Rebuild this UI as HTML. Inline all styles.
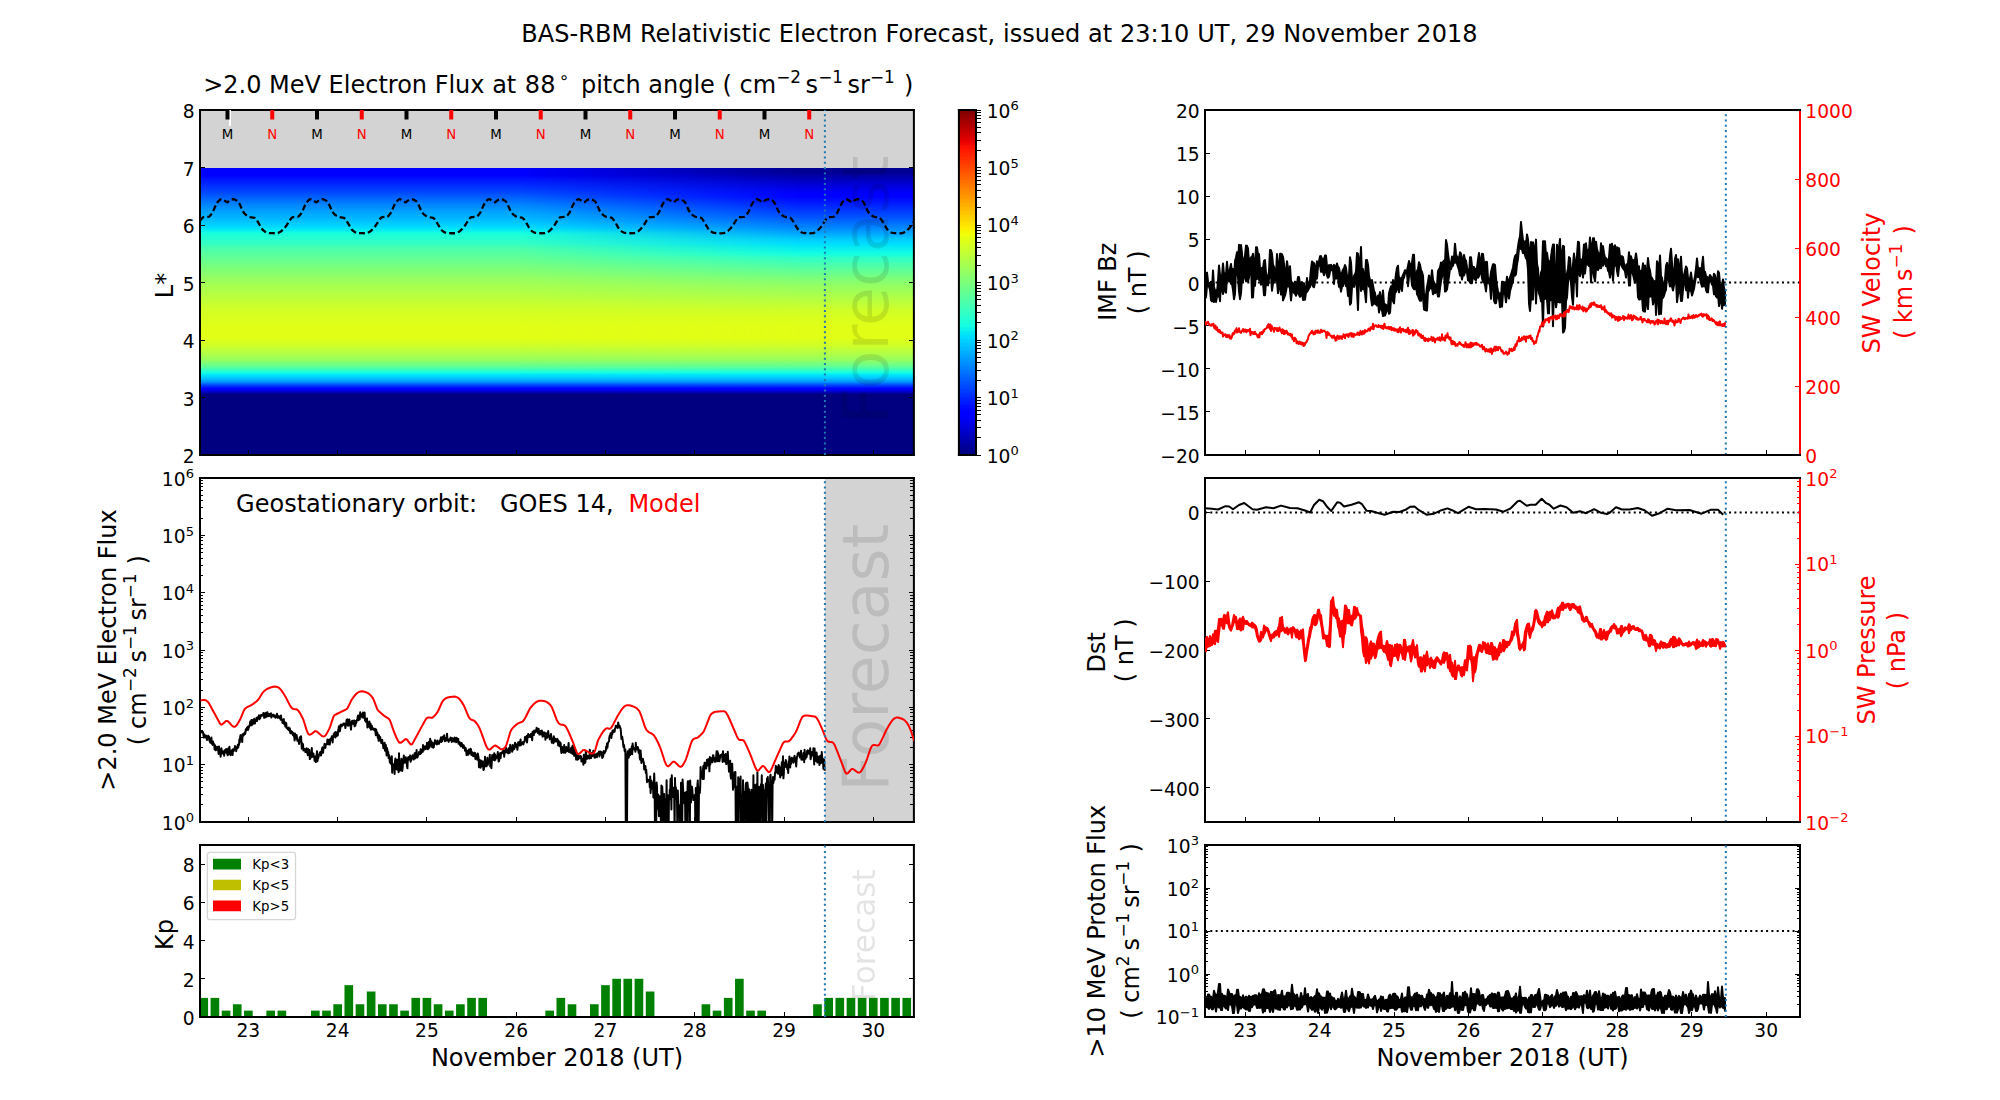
<!DOCTYPE html>
<html><head><meta charset="utf-8"><title>BAS-RBM Relativistic Electron Forecast</title>
<style>html,body{margin:0;padding:0;background:#fff;overflow:hidden}svg{display:block}text{white-space:pre}use{shape-rendering:crispEdges}</style>
</head><body>
<svg width="2000" height="1100" viewBox="0 0 1500 825" version="1.1"> <defs><linearGradient id="gfade" gradientUnits="userSpaceOnUse" x1="520" y1="0" x2="800" y2="0"><stop offset="0" stop-color="#fff" stop-opacity="0"/><stop offset="1" stop-color="#fff" stop-opacity="1"/></linearGradient><mask id="mfade" maskUnits="userSpaceOnUse" x="0" y="0" width="2000" height="1100"><rect x="0" y="0" width="2000" height="1100" fill="url(#gfade)"/></mask> <style type="text/css">*{stroke-linejoin: round; stroke-linecap: butt}</style> </defs> <g id="figure_1"> <g id="patch_1"> <path d="M 0 825 L 1500 825 L 1500 0 L 0 0 z " style="fill: #ffffff"/> </g> <g id="axes_1"> <g id="patch_2"> <path d="M 150 341.25 L 685.42 341.25 L 685.42 82.5 L 150 82.5 z " style="fill: #d3d3d3"/> </g> <g id="HEATMAP" transform="scale(0.75)"><g><rect x="200.0" y="168.00" width="713.9" height="1.30" fill="#0000ff"/><rect x="200.0" y="169.00" width="713.9" height="1.30" fill="#0000ff"/><rect x="200.0" y="170.00" width="713.9" height="1.30" fill="#0000ff"/><rect x="200.0" y="171.00" width="713.9" height="1.30" fill="#0000ff"/><rect x="200.0" y="172.00" width="713.9" height="1.30" fill="#0000ff"/><rect x="200.0" y="173.00" width="713.9" height="1.30" fill="#0000ff"/><rect x="200.0" y="174.00" width="713.9" height="1.30" fill="#0000ff"/><rect x="200.0" y="175.00" width="713.9" height="1.30" fill="#0000ff"/><rect x="200.0" y="176.00" width="713.9" height="1.30" fill="#0004ff"/><rect x="200.0" y="177.00" width="713.9" height="1.30" fill="#000cff"/><rect x="200.0" y="178.00" width="713.9" height="1.30" fill="#0010ff"/><rect x="200.0" y="179.00" width="713.9" height="1.30" fill="#0014ff"/><rect x="200.0" y="180.00" width="713.9" height="1.30" fill="#0018ff"/><rect x="200.0" y="181.00" width="713.9" height="1.30" fill="#001cff"/><rect x="200.0" y="182.00" width="713.9" height="1.30" fill="#0020ff"/><rect x="200.0" y="183.00" width="713.9" height="1.30" fill="#0024ff"/><rect x="200.0" y="184.00" width="713.9" height="1.30" fill="#0028ff"/><rect x="200.0" y="185.00" width="713.9" height="1.30" fill="#002cff"/><rect x="200.0" y="186.00" width="713.9" height="1.30" fill="#0030ff"/><rect x="200.0" y="187.00" width="713.9" height="1.30" fill="#0034ff"/><rect x="200.0" y="188.00" width="713.9" height="1.30" fill="#0038ff"/><rect x="200.0" y="189.00" width="713.9" height="1.30" fill="#003cff"/><rect x="200.0" y="190.00" width="713.9" height="1.30" fill="#0040ff"/><rect x="200.0" y="191.00" width="713.9" height="1.30" fill="#0044ff"/><rect x="200.0" y="192.00" width="713.9" height="1.30" fill="#0048ff"/><rect x="200.0" y="193.00" width="713.9" height="1.30" fill="#004cff"/><rect x="200.0" y="194.00" width="713.9" height="1.30" fill="#0054ff"/><rect x="200.0" y="195.00" width="713.9" height="1.30" fill="#0058ff"/><rect x="200.0" y="196.00" width="713.9" height="1.30" fill="#005cff"/><rect x="200.0" y="197.00" width="713.9" height="1.30" fill="#0060ff"/><rect x="200.0" y="198.00" width="713.9" height="1.30" fill="#0068ff"/><rect x="200.0" y="199.00" width="713.9" height="1.30" fill="#006cff"/><rect x="200.0" y="200.00" width="713.9" height="1.30" fill="#0070ff"/><rect x="200.0" y="201.00" width="713.9" height="1.30" fill="#0074ff"/><rect x="200.0" y="202.00" width="713.9" height="1.30" fill="#0078ff"/><rect x="200.0" y="203.00" width="713.9" height="1.30" fill="#0080ff"/><rect x="200.0" y="204.00" width="713.9" height="1.30" fill="#0084ff"/><rect x="200.0" y="205.00" width="713.9" height="1.30" fill="#0088ff"/><rect x="200.0" y="206.00" width="713.9" height="1.30" fill="#008cff"/><rect x="200.0" y="207.00" width="713.9" height="1.30" fill="#0090ff"/><rect x="200.0" y="208.00" width="713.9" height="1.30" fill="#0094ff"/><rect x="200.0" y="209.00" width="713.9" height="1.30" fill="#0098ff"/><rect x="200.0" y="210.00" width="713.9" height="1.30" fill="#009cff"/><rect x="200.0" y="211.00" width="713.9" height="1.30" fill="#00a0ff"/><rect x="200.0" y="212.00" width="713.9" height="1.30" fill="#00a4ff"/><rect x="200.0" y="213.00" width="713.9" height="1.30" fill="#00a8ff"/><rect x="200.0" y="214.00" width="713.9" height="1.30" fill="#00acff"/><rect x="200.0" y="215.00" width="713.9" height="1.30" fill="#00b0ff"/><rect x="200.0" y="216.00" width="713.9" height="1.30" fill="#00b0ff"/><rect x="200.0" y="217.00" width="713.9" height="1.30" fill="#00b4ff"/><rect x="200.0" y="218.00" width="713.9" height="1.30" fill="#00b8ff"/><rect x="200.0" y="219.00" width="713.9" height="1.30" fill="#00bcff"/><rect x="200.0" y="220.00" width="713.9" height="1.30" fill="#00c0ff"/><rect x="200.0" y="221.00" width="713.9" height="1.30" fill="#00c4ff"/><rect x="200.0" y="222.00" width="713.9" height="1.30" fill="#00c8ff"/><rect x="200.0" y="223.00" width="713.9" height="1.30" fill="#00ccff"/><rect x="200.0" y="224.00" width="713.9" height="1.30" fill="#00d0ff"/><rect x="200.0" y="225.00" width="713.9" height="1.30" fill="#00d4ff"/><rect x="200.0" y="226.00" width="713.9" height="1.30" fill="#00d8ff"/><rect x="200.0" y="227.00" width="713.9" height="1.30" fill="#00dcfe"/><rect x="200.0" y="228.00" width="713.9" height="1.30" fill="#00e4f8"/><rect x="200.0" y="229.00" width="713.9" height="1.30" fill="#02e8f4"/><rect x="200.0" y="230.00" width="713.9" height="1.30" fill="#09f0ee"/><rect x="200.0" y="231.00" width="713.9" height="1.30" fill="#0cf4eb"/><rect x="200.0" y="232.00" width="713.9" height="1.30" fill="#13fce4"/><rect x="200.0" y="233.00" width="713.9" height="1.30" fill="#19ffde"/><rect x="200.0" y="234.00" width="713.9" height="1.30" fill="#1cffdb"/><rect x="200.0" y="235.00" width="713.9" height="1.30" fill="#1fffd7"/><rect x="200.0" y="236.00" width="713.9" height="1.30" fill="#23ffd4"/><rect x="200.0" y="237.00" width="713.9" height="1.30" fill="#26ffd1"/><rect x="200.0" y="238.00" width="713.9" height="1.30" fill="#26ffd1"/><rect x="200.0" y="239.00" width="713.9" height="1.30" fill="#29ffce"/><rect x="200.0" y="240.00" width="713.9" height="1.30" fill="#2cffca"/><rect x="200.0" y="241.00" width="713.9" height="1.30" fill="#30ffc7"/><rect x="200.0" y="242.00" width="713.9" height="1.30" fill="#30ffc7"/><rect x="200.0" y="243.00" width="713.9" height="1.30" fill="#33ffc4"/><rect x="200.0" y="244.00" width="713.9" height="1.30" fill="#39ffbe"/><rect x="200.0" y="245.00" width="713.9" height="1.30" fill="#3cffba"/><rect x="200.0" y="246.00" width="713.9" height="1.30" fill="#40ffb7"/><rect x="200.0" y="247.00" width="713.9" height="1.30" fill="#46ffb1"/><rect x="200.0" y="248.00" width="713.9" height="1.30" fill="#49ffad"/><rect x="200.0" y="249.00" width="713.9" height="1.30" fill="#4dffaa"/><rect x="200.0" y="250.00" width="713.9" height="1.30" fill="#50ffa7"/><rect x="200.0" y="251.00" width="713.9" height="1.30" fill="#53ffa4"/><rect x="200.0" y="252.00" width="713.9" height="1.30" fill="#56ffa0"/><rect x="200.0" y="253.00" width="713.9" height="1.30" fill="#56ffa0"/><rect x="200.0" y="254.00" width="713.9" height="1.30" fill="#5aff9d"/><rect x="200.0" y="255.00" width="713.9" height="1.30" fill="#5dff9a"/><rect x="200.0" y="256.00" width="713.9" height="1.30" fill="#60ff97"/><rect x="200.0" y="257.00" width="713.9" height="1.30" fill="#60ff97"/><rect x="200.0" y="258.00" width="713.9" height="1.30" fill="#63ff94"/><rect x="200.0" y="259.00" width="713.9" height="1.30" fill="#66ff90"/><rect x="200.0" y="260.00" width="713.9" height="1.30" fill="#6aff8d"/><rect x="200.0" y="261.00" width="713.9" height="1.30" fill="#6aff8d"/><rect x="200.0" y="262.00" width="713.9" height="1.30" fill="#6dff8a"/><rect x="200.0" y="263.00" width="713.9" height="1.30" fill="#70ff87"/><rect x="200.0" y="264.00" width="713.9" height="1.30" fill="#73ff83"/><rect x="200.0" y="265.00" width="713.9" height="1.30" fill="#77ff80"/><rect x="200.0" y="266.00" width="713.9" height="1.30" fill="#7aff7d"/><rect x="200.0" y="267.00" width="713.9" height="1.30" fill="#7aff7d"/><rect x="200.0" y="268.00" width="713.9" height="1.30" fill="#7dff7a"/><rect x="200.0" y="269.00" width="713.9" height="1.30" fill="#80ff77"/><rect x="200.0" y="270.00" width="713.9" height="1.30" fill="#83ff73"/><rect x="200.0" y="271.00" width="713.9" height="1.30" fill="#83ff73"/><rect x="200.0" y="272.00" width="713.9" height="1.30" fill="#87ff70"/><rect x="200.0" y="273.00" width="713.9" height="1.30" fill="#8aff6d"/><rect x="200.0" y="274.00" width="713.9" height="1.30" fill="#8dff6a"/><rect x="200.0" y="275.00" width="713.9" height="1.30" fill="#8dff6a"/><rect x="200.0" y="276.00" width="713.9" height="1.30" fill="#90ff66"/><rect x="200.0" y="277.00" width="713.9" height="1.30" fill="#94ff63"/><rect x="200.0" y="278.00" width="713.9" height="1.30" fill="#97ff60"/><rect x="200.0" y="279.00" width="713.9" height="1.30" fill="#9aff5d"/><rect x="200.0" y="280.00" width="713.9" height="1.30" fill="#9aff5d"/><rect x="200.0" y="281.00" width="713.9" height="1.30" fill="#9dff5a"/><rect x="200.0" y="282.00" width="713.9" height="1.30" fill="#a0ff56"/><rect x="200.0" y="283.00" width="713.9" height="1.30" fill="#a0ff56"/><rect x="200.0" y="284.00" width="713.9" height="1.30" fill="#a4ff53"/><rect x="200.0" y="285.00" width="713.9" height="1.30" fill="#a7ff50"/><rect x="200.0" y="286.00" width="713.9" height="1.30" fill="#a7ff50"/><rect x="200.0" y="287.00" width="713.9" height="1.30" fill="#aaff4d"/><rect x="200.0" y="288.00" width="713.9" height="1.30" fill="#aaff4d"/><rect x="200.0" y="289.00" width="713.9" height="1.30" fill="#adff49"/><rect x="200.0" y="290.00" width="713.9" height="1.30" fill="#adff49"/><rect x="200.0" y="291.00" width="713.9" height="1.30" fill="#b1ff46"/><rect x="200.0" y="292.00" width="713.9" height="1.30" fill="#b1ff46"/><rect x="200.0" y="293.00" width="713.9" height="1.30" fill="#b4ff43"/><rect x="200.0" y="294.00" width="713.9" height="1.30" fill="#b7ff40"/><rect x="200.0" y="295.00" width="713.9" height="1.30" fill="#b7ff40"/><rect x="200.0" y="296.00" width="713.9" height="1.30" fill="#baff3c"/><rect x="200.0" y="297.00" width="713.9" height="1.30" fill="#baff3c"/><rect x="200.0" y="298.00" width="713.9" height="1.30" fill="#beff39"/><rect x="200.0" y="299.00" width="713.9" height="1.30" fill="#beff39"/><rect x="200.0" y="300.00" width="713.9" height="1.30" fill="#c1ff36"/><rect x="200.0" y="301.00" width="713.9" height="1.30" fill="#c1ff36"/><rect x="200.0" y="302.00" width="713.9" height="1.30" fill="#c4ff33"/><rect x="200.0" y="303.00" width="713.9" height="1.30" fill="#c7ff30"/><rect x="200.0" y="304.00" width="713.9" height="1.30" fill="#c7ff30"/><rect x="200.0" y="305.00" width="713.9" height="1.30" fill="#caff2c"/><rect x="200.0" y="306.00" width="713.9" height="1.30" fill="#caff2c"/><rect x="200.0" y="307.00" width="713.9" height="1.30" fill="#ceff29"/><rect x="200.0" y="308.00" width="713.9" height="1.30" fill="#ceff29"/><rect x="200.0" y="309.00" width="713.9" height="1.30" fill="#d1ff26"/><rect x="200.0" y="310.00" width="713.9" height="1.30" fill="#d1ff26"/><rect x="200.0" y="311.00" width="713.9" height="1.30" fill="#d1ff26"/><rect x="200.0" y="312.00" width="713.9" height="1.30" fill="#d4ff23"/><rect x="200.0" y="313.00" width="713.9" height="1.30" fill="#d4ff23"/><rect x="200.0" y="314.00" width="713.9" height="1.30" fill="#d7ff1f"/><rect x="200.0" y="315.00" width="713.9" height="1.30" fill="#d7ff1f"/><rect x="200.0" y="316.00" width="713.9" height="1.30" fill="#d7ff1f"/><rect x="200.0" y="317.00" width="713.9" height="1.30" fill="#d7ff1f"/><rect x="200.0" y="318.00" width="713.9" height="1.30" fill="#dbff1c"/><rect x="200.0" y="319.00" width="713.9" height="1.30" fill="#dbff1c"/><rect x="200.0" y="320.00" width="713.9" height="1.30" fill="#dbff1c"/><rect x="200.0" y="321.00" width="713.9" height="1.30" fill="#deff19"/><rect x="200.0" y="322.00" width="713.9" height="1.30" fill="#deff19"/><rect x="200.0" y="323.00" width="713.9" height="1.30" fill="#deff19"/><rect x="200.0" y="324.00" width="713.9" height="1.30" fill="#deff19"/><rect x="200.0" y="325.00" width="713.9" height="1.30" fill="#deff19"/><rect x="200.0" y="326.00" width="713.9" height="1.30" fill="#e1ff16"/><rect x="200.0" y="327.00" width="713.9" height="1.30" fill="#e1ff16"/><rect x="200.0" y="328.00" width="713.9" height="1.30" fill="#e1ff16"/><rect x="200.0" y="329.00" width="713.9" height="1.30" fill="#e1ff16"/><rect x="200.0" y="330.00" width="713.9" height="1.30" fill="#e1ff16"/><rect x="200.0" y="331.00" width="713.9" height="1.30" fill="#e1ff16"/><rect x="200.0" y="332.00" width="713.9" height="1.30" fill="#e1ff16"/><rect x="200.0" y="333.00" width="713.9" height="1.30" fill="#e1ff16"/><rect x="200.0" y="334.00" width="713.9" height="1.30" fill="#e1ff16"/><rect x="200.0" y="335.00" width="713.9" height="1.30" fill="#e1ff16"/><rect x="200.0" y="336.00" width="713.9" height="1.30" fill="#e1ff16"/><rect x="200.0" y="337.00" width="713.9" height="1.30" fill="#e1ff16"/><rect x="200.0" y="338.00" width="713.9" height="1.30" fill="#e1ff16"/><rect x="200.0" y="339.00" width="713.9" height="1.30" fill="#deff19"/><rect x="200.0" y="340.00" width="713.9" height="1.30" fill="#dbff1c"/><rect x="200.0" y="341.00" width="713.9" height="1.30" fill="#d7ff1f"/><rect x="200.0" y="342.00" width="713.9" height="1.30" fill="#d7ff1f"/><rect x="200.0" y="343.00" width="713.9" height="1.30" fill="#d4ff23"/><rect x="200.0" y="344.00" width="713.9" height="1.30" fill="#d1ff26"/><rect x="200.0" y="345.00" width="713.9" height="1.30" fill="#ceff29"/><rect x="200.0" y="346.00" width="713.9" height="1.30" fill="#caff2c"/><rect x="200.0" y="347.00" width="713.9" height="1.30" fill="#c7ff30"/><rect x="200.0" y="348.00" width="713.9" height="1.30" fill="#c4ff33"/><rect x="200.0" y="349.00" width="713.9" height="1.30" fill="#c1ff36"/><rect x="200.0" y="350.00" width="713.9" height="1.30" fill="#beff39"/><rect x="200.0" y="351.00" width="713.9" height="1.30" fill="#b7ff40"/><rect x="200.0" y="352.00" width="713.9" height="1.30" fill="#b4ff43"/><rect x="200.0" y="353.00" width="713.9" height="1.30" fill="#b1ff46"/><rect x="200.0" y="354.00" width="713.9" height="1.30" fill="#adff49"/><rect x="200.0" y="355.00" width="713.9" height="1.30" fill="#aaff4d"/><rect x="200.0" y="356.00" width="713.9" height="1.30" fill="#a4ff53"/><rect x="200.0" y="357.00" width="713.9" height="1.30" fill="#a0ff56"/><rect x="200.0" y="358.00" width="713.9" height="1.30" fill="#9dff5a"/><rect x="200.0" y="359.00" width="713.9" height="1.30" fill="#97ff60"/><rect x="200.0" y="360.00" width="713.9" height="1.30" fill="#90ff66"/><rect x="200.0" y="361.00" width="713.9" height="1.30" fill="#8aff6d"/><rect x="200.0" y="362.00" width="713.9" height="1.30" fill="#80ff77"/><rect x="200.0" y="363.00" width="713.9" height="1.30" fill="#7aff7d"/><rect x="200.0" y="364.00" width="713.9" height="1.30" fill="#70ff87"/><rect x="200.0" y="365.00" width="713.9" height="1.30" fill="#6aff8d"/><rect x="200.0" y="366.00" width="713.9" height="1.30" fill="#60ff97"/><rect x="200.0" y="367.00" width="713.9" height="1.30" fill="#56ffa0"/><rect x="200.0" y="368.00" width="713.9" height="1.30" fill="#49ffad"/><rect x="200.0" y="369.00" width="713.9" height="1.30" fill="#3cffba"/><rect x="200.0" y="370.00" width="713.9" height="1.30" fill="#30ffc7"/><rect x="200.0" y="371.00" width="713.9" height="1.30" fill="#23ffd4"/><rect x="200.0" y="372.00" width="713.9" height="1.30" fill="#16ffe1"/><rect x="200.0" y="373.00" width="713.9" height="1.30" fill="#0cf4eb"/><rect x="200.0" y="374.00" width="713.9" height="1.30" fill="#02e8f4"/><rect x="200.0" y="375.00" width="713.9" height="1.30" fill="#00e0fb"/><rect x="200.0" y="376.00" width="713.9" height="1.30" fill="#00d8ff"/><rect x="200.0" y="377.00" width="713.9" height="1.30" fill="#00ccff"/><rect x="200.0" y="378.00" width="713.9" height="1.30" fill="#00c4ff"/><rect x="200.0" y="379.00" width="713.9" height="1.30" fill="#00b4ff"/><rect x="200.0" y="380.00" width="713.9" height="1.30" fill="#00a8ff"/><rect x="200.0" y="381.00" width="713.9" height="1.30" fill="#0098ff"/><rect x="200.0" y="382.00" width="713.9" height="1.30" fill="#0084ff"/><rect x="200.0" y="383.00" width="713.9" height="1.30" fill="#006cff"/><rect x="200.0" y="384.00" width="713.9" height="1.30" fill="#0054ff"/><rect x="200.0" y="385.00" width="713.9" height="1.30" fill="#003cff"/><rect x="200.0" y="386.00" width="713.9" height="1.30" fill="#0028ff"/><rect x="200.0" y="387.00" width="713.9" height="1.30" fill="#0014ff"/><rect x="200.0" y="388.00" width="713.9" height="1.30" fill="#0000ff"/><rect x="200.0" y="389.00" width="713.9" height="1.30" fill="#0000fa"/><rect x="200.0" y="390.00" width="713.9" height="1.30" fill="#0000e3"/><rect x="200.0" y="391.00" width="713.9" height="1.30" fill="#0000cd"/><rect x="200.0" y="392.00" width="713.9" height="1.30" fill="#0000b6"/><rect x="200.0" y="393.00" width="713.9" height="1.30" fill="#000096"/><rect x="200.0" y="394.00" width="713.9" height="1.30" fill="#000080"/><rect x="200.0" y="395.00" width="713.9" height="1.30" fill="#000080"/><rect x="200.0" y="396.00" width="713.9" height="1.30" fill="#000080"/><rect x="200.0" y="397.00" width="713.9" height="1.30" fill="#000080"/><rect x="200.0" y="398.00" width="713.9" height="1.30" fill="#000080"/><rect x="200.0" y="399.00" width="713.9" height="1.30" fill="#000080"/><rect x="200.0" y="400.00" width="713.9" height="1.30" fill="#000080"/><rect x="200.0" y="401.00" width="713.9" height="1.30" fill="#000080"/><rect x="200.0" y="402.00" width="713.9" height="1.30" fill="#000080"/><rect x="200.0" y="403.00" width="713.9" height="1.30" fill="#000080"/><rect x="200.0" y="404.00" width="713.9" height="1.30" fill="#000080"/><rect x="200.0" y="405.00" width="713.9" height="1.30" fill="#000080"/><rect x="200.0" y="406.00" width="713.9" height="1.30" fill="#000080"/><rect x="200.0" y="407.00" width="713.9" height="1.30" fill="#000080"/><rect x="200.0" y="408.00" width="713.9" height="1.30" fill="#000080"/><rect x="200.0" y="409.00" width="713.9" height="1.30" fill="#000080"/><rect x="200.0" y="410.00" width="713.9" height="1.30" fill="#000080"/><rect x="200.0" y="411.00" width="713.9" height="1.30" fill="#000080"/><rect x="200.0" y="412.00" width="713.9" height="1.30" fill="#000080"/><rect x="200.0" y="413.00" width="713.9" height="1.30" fill="#000080"/><rect x="200.0" y="414.00" width="713.9" height="1.30" fill="#000080"/><rect x="200.0" y="415.00" width="713.9" height="1.30" fill="#000080"/><rect x="200.0" y="416.00" width="713.9" height="1.30" fill="#000080"/><rect x="200.0" y="417.00" width="713.9" height="1.30" fill="#000080"/><rect x="200.0" y="418.00" width="713.9" height="1.30" fill="#000080"/><rect x="200.0" y="419.00" width="713.9" height="1.30" fill="#000080"/><rect x="200.0" y="420.00" width="713.9" height="1.30" fill="#000080"/><rect x="200.0" y="421.00" width="713.9" height="1.30" fill="#000080"/><rect x="200.0" y="422.00" width="713.9" height="1.30" fill="#000080"/><rect x="200.0" y="423.00" width="713.9" height="1.30" fill="#000080"/><rect x="200.0" y="424.00" width="713.9" height="1.30" fill="#000080"/><rect x="200.0" y="425.00" width="713.9" height="1.30" fill="#000080"/><rect x="200.0" y="426.00" width="713.9" height="1.30" fill="#000080"/><rect x="200.0" y="427.00" width="713.9" height="1.30" fill="#000080"/><rect x="200.0" y="428.00" width="713.9" height="1.30" fill="#000080"/><rect x="200.0" y="429.00" width="713.9" height="1.30" fill="#000080"/><rect x="200.0" y="430.00" width="713.9" height="1.30" fill="#000080"/><rect x="200.0" y="431.00" width="713.9" height="1.30" fill="#000080"/><rect x="200.0" y="432.00" width="713.9" height="1.30" fill="#000080"/><rect x="200.0" y="433.00" width="713.9" height="1.30" fill="#000080"/><rect x="200.0" y="434.00" width="713.9" height="1.30" fill="#000080"/><rect x="200.0" y="435.00" width="713.9" height="1.30" fill="#000080"/><rect x="200.0" y="436.00" width="713.9" height="1.30" fill="#000080"/><rect x="200.0" y="437.00" width="713.9" height="1.30" fill="#000080"/><rect x="200.0" y="438.00" width="713.9" height="1.30" fill="#000080"/><rect x="200.0" y="439.00" width="713.9" height="1.30" fill="#000080"/><rect x="200.0" y="440.00" width="713.9" height="1.30" fill="#000080"/><rect x="200.0" y="441.00" width="713.9" height="1.30" fill="#000080"/><rect x="200.0" y="442.00" width="713.9" height="1.30" fill="#000080"/><rect x="200.0" y="443.00" width="713.9" height="1.30" fill="#000080"/><rect x="200.0" y="444.00" width="713.9" height="1.30" fill="#000080"/><rect x="200.0" y="445.00" width="713.9" height="1.30" fill="#000080"/><rect x="200.0" y="446.00" width="713.9" height="1.30" fill="#000080"/><rect x="200.0" y="447.00" width="713.9" height="1.30" fill="#000080"/><rect x="200.0" y="448.00" width="713.9" height="1.30" fill="#000080"/><rect x="200.0" y="449.00" width="713.9" height="1.30" fill="#000080"/><rect x="200.0" y="450.00" width="713.9" height="1.30" fill="#000080"/><rect x="200.0" y="451.00" width="713.9" height="1.30" fill="#000080"/><rect x="200.0" y="452.00" width="713.9" height="1.30" fill="#000080"/><rect x="200.0" y="453.00" width="713.9" height="1.30" fill="#000080"/><rect x="200.0" y="454.00" width="713.9" height="1.00" fill="#000080"/></g><g mask="url(#mfade)"><rect x="200.0" y="168.00" width="713.9" height="1.30" fill="#000092"/><rect x="200.0" y="169.00" width="713.9" height="1.30" fill="#000092"/><rect x="200.0" y="170.00" width="713.9" height="1.30" fill="#000092"/><rect x="200.0" y="171.00" width="713.9" height="1.30" fill="#000092"/><rect x="200.0" y="172.00" width="713.9" height="1.30" fill="#000096"/><rect x="200.0" y="173.00" width="713.9" height="1.30" fill="#000096"/><rect x="200.0" y="174.00" width="713.9" height="1.30" fill="#00009f"/><rect x="200.0" y="175.00" width="713.9" height="1.30" fill="#0000a4"/><rect x="200.0" y="176.00" width="713.9" height="1.30" fill="#0000a8"/><rect x="200.0" y="177.00" width="713.9" height="1.30" fill="#0000b2"/><rect x="200.0" y="178.00" width="713.9" height="1.30" fill="#0000b6"/><rect x="200.0" y="179.00" width="713.9" height="1.30" fill="#0000bb"/><rect x="200.0" y="180.00" width="713.9" height="1.30" fill="#0000bf"/><rect x="200.0" y="181.00" width="713.9" height="1.30" fill="#0000c8"/><rect x="200.0" y="182.00" width="713.9" height="1.30" fill="#0000cd"/><rect x="200.0" y="183.00" width="713.9" height="1.30" fill="#0000d1"/><rect x="200.0" y="184.00" width="713.9" height="1.30" fill="#0000d6"/><rect x="200.0" y="185.00" width="713.9" height="1.30" fill="#0000da"/><rect x="200.0" y="186.00" width="713.9" height="1.30" fill="#0000df"/><rect x="200.0" y="187.00" width="713.9" height="1.30" fill="#0000e3"/><rect x="200.0" y="188.00" width="713.9" height="1.30" fill="#0000e8"/><rect x="200.0" y="189.00" width="713.9" height="1.30" fill="#0000ed"/><rect x="200.0" y="190.00" width="713.9" height="1.30" fill="#0000f1"/><rect x="200.0" y="191.00" width="713.9" height="1.30" fill="#0000f6"/><rect x="200.0" y="192.00" width="713.9" height="1.30" fill="#0000fa"/><rect x="200.0" y="193.00" width="713.9" height="1.30" fill="#0000ff"/><rect x="200.0" y="194.00" width="713.9" height="1.30" fill="#0000ff"/><rect x="200.0" y="195.00" width="713.9" height="1.30" fill="#0000ff"/><rect x="200.0" y="196.00" width="713.9" height="1.30" fill="#0000ff"/><rect x="200.0" y="197.00" width="713.9" height="1.30" fill="#0004ff"/><rect x="200.0" y="198.00" width="713.9" height="1.30" fill="#0008ff"/><rect x="200.0" y="199.00" width="713.9" height="1.30" fill="#000cff"/><rect x="200.0" y="200.00" width="713.9" height="1.30" fill="#0010ff"/><rect x="200.0" y="201.00" width="713.9" height="1.30" fill="#0014ff"/><rect x="200.0" y="202.00" width="713.9" height="1.30" fill="#0018ff"/><rect x="200.0" y="203.00" width="713.9" height="1.30" fill="#001cff"/><rect x="200.0" y="204.00" width="713.9" height="1.30" fill="#0020ff"/><rect x="200.0" y="205.00" width="713.9" height="1.30" fill="#0024ff"/><rect x="200.0" y="206.00" width="713.9" height="1.30" fill="#0028ff"/><rect x="200.0" y="207.00" width="713.9" height="1.30" fill="#002cff"/><rect x="200.0" y="208.00" width="713.9" height="1.30" fill="#0030ff"/><rect x="200.0" y="209.00" width="713.9" height="1.30" fill="#0034ff"/><rect x="200.0" y="210.00" width="713.9" height="1.30" fill="#0038ff"/><rect x="200.0" y="211.00" width="713.9" height="1.30" fill="#003cff"/><rect x="200.0" y="212.00" width="713.9" height="1.30" fill="#0040ff"/><rect x="200.0" y="213.00" width="713.9" height="1.30" fill="#0044ff"/><rect x="200.0" y="214.00" width="713.9" height="1.30" fill="#0048ff"/><rect x="200.0" y="215.00" width="713.9" height="1.30" fill="#004cff"/><rect x="200.0" y="216.00" width="713.9" height="1.30" fill="#0050ff"/><rect x="200.0" y="217.00" width="713.9" height="1.30" fill="#0054ff"/><rect x="200.0" y="218.00" width="713.9" height="1.30" fill="#005cff"/><rect x="200.0" y="219.00" width="713.9" height="1.30" fill="#0060ff"/><rect x="200.0" y="220.00" width="713.9" height="1.30" fill="#0064ff"/><rect x="200.0" y="221.00" width="713.9" height="1.30" fill="#0068ff"/><rect x="200.0" y="222.00" width="713.9" height="1.30" fill="#006cff"/><rect x="200.0" y="223.00" width="713.9" height="1.30" fill="#0074ff"/><rect x="200.0" y="224.00" width="713.9" height="1.30" fill="#0078ff"/><rect x="200.0" y="225.00" width="713.9" height="1.30" fill="#007cff"/><rect x="200.0" y="226.00" width="713.9" height="1.30" fill="#0080ff"/><rect x="200.0" y="227.00" width="713.9" height="1.30" fill="#0084ff"/><rect x="200.0" y="228.00" width="713.9" height="1.30" fill="#008cff"/><rect x="200.0" y="229.00" width="713.9" height="1.30" fill="#0090ff"/><rect x="200.0" y="230.00" width="713.9" height="1.30" fill="#0094ff"/><rect x="200.0" y="231.00" width="713.9" height="1.30" fill="#009cff"/><rect x="200.0" y="232.00" width="713.9" height="1.30" fill="#00a0ff"/><rect x="200.0" y="233.00" width="713.9" height="1.30" fill="#00a8ff"/><rect x="200.0" y="234.00" width="713.9" height="1.30" fill="#00acff"/><rect x="200.0" y="235.00" width="713.9" height="1.30" fill="#00b4ff"/><rect x="200.0" y="236.00" width="713.9" height="1.30" fill="#00b8ff"/><rect x="200.0" y="237.00" width="713.9" height="1.30" fill="#00c0ff"/><rect x="200.0" y="238.00" width="713.9" height="1.30" fill="#00c8ff"/><rect x="200.0" y="239.00" width="713.9" height="1.30" fill="#00ccff"/><rect x="200.0" y="240.00" width="713.9" height="1.30" fill="#00d0ff"/><rect x="200.0" y="241.00" width="713.9" height="1.30" fill="#00d4ff"/><rect x="200.0" y="242.00" width="713.9" height="1.30" fill="#00d8ff"/><rect x="200.0" y="243.00" width="713.9" height="1.30" fill="#00dcfe"/><rect x="200.0" y="244.00" width="713.9" height="1.30" fill="#00e0fb"/><rect x="200.0" y="245.00" width="713.9" height="1.30" fill="#00e4f8"/><rect x="200.0" y="246.00" width="713.9" height="1.30" fill="#02e8f4"/><rect x="200.0" y="247.00" width="713.9" height="1.30" fill="#06ecf1"/><rect x="200.0" y="248.00" width="713.9" height="1.30" fill="#09f0ee"/><rect x="200.0" y="249.00" width="713.9" height="1.30" fill="#09f0ee"/><rect x="200.0" y="250.00" width="713.9" height="1.30" fill="#0cf4eb"/><rect x="200.0" y="251.00" width="713.9" height="1.30" fill="#0ff8e7"/><rect x="200.0" y="252.00" width="713.9" height="1.30" fill="#13fce4"/><rect x="200.0" y="253.00" width="713.9" height="1.30" fill="#13fce4"/><rect x="200.0" y="254.00" width="713.9" height="1.30" fill="#19ffde"/><rect x="200.0" y="255.00" width="713.9" height="1.30" fill="#1fffd7"/><rect x="200.0" y="256.00" width="713.9" height="1.30" fill="#26ffd1"/><rect x="200.0" y="257.00" width="713.9" height="1.30" fill="#2cffca"/><rect x="200.0" y="258.00" width="713.9" height="1.30" fill="#33ffc4"/><rect x="200.0" y="259.00" width="713.9" height="1.30" fill="#36ffc1"/><rect x="200.0" y="260.00" width="713.9" height="1.30" fill="#39ffbe"/><rect x="200.0" y="261.00" width="713.9" height="1.30" fill="#3cffba"/><rect x="200.0" y="262.00" width="713.9" height="1.30" fill="#40ffb7"/><rect x="200.0" y="263.00" width="713.9" height="1.30" fill="#46ffb1"/><rect x="200.0" y="264.00" width="713.9" height="1.30" fill="#49ffad"/><rect x="200.0" y="265.00" width="713.9" height="1.30" fill="#4dffaa"/><rect x="200.0" y="266.00" width="713.9" height="1.30" fill="#50ffa7"/><rect x="200.0" y="267.00" width="713.9" height="1.30" fill="#53ffa4"/><rect x="200.0" y="268.00" width="713.9" height="1.30" fill="#56ffa0"/><rect x="200.0" y="269.00" width="713.9" height="1.30" fill="#5dff9a"/><rect x="200.0" y="270.00" width="713.9" height="1.30" fill="#60ff97"/><rect x="200.0" y="271.00" width="713.9" height="1.30" fill="#63ff94"/><rect x="200.0" y="272.00" width="713.9" height="1.30" fill="#66ff90"/><rect x="200.0" y="273.00" width="713.9" height="1.30" fill="#6aff8d"/><rect x="200.0" y="274.00" width="713.9" height="1.30" fill="#6dff8a"/><rect x="200.0" y="275.00" width="713.9" height="1.30" fill="#73ff83"/><rect x="200.0" y="276.00" width="713.9" height="1.30" fill="#77ff80"/><rect x="200.0" y="277.00" width="713.9" height="1.30" fill="#7aff7d"/><rect x="200.0" y="278.00" width="713.9" height="1.30" fill="#7dff7a"/><rect x="200.0" y="279.00" width="713.9" height="1.30" fill="#80ff77"/><rect x="200.0" y="280.00" width="713.9" height="1.30" fill="#83ff73"/><rect x="200.0" y="281.00" width="713.9" height="1.30" fill="#87ff70"/><rect x="200.0" y="282.00" width="713.9" height="1.30" fill="#8aff6d"/><rect x="200.0" y="283.00" width="713.9" height="1.30" fill="#8dff6a"/><rect x="200.0" y="284.00" width="713.9" height="1.30" fill="#90ff66"/><rect x="200.0" y="285.00" width="713.9" height="1.30" fill="#94ff63"/><rect x="200.0" y="286.00" width="713.9" height="1.30" fill="#97ff60"/><rect x="200.0" y="287.00" width="713.9" height="1.30" fill="#97ff60"/><rect x="200.0" y="288.00" width="713.9" height="1.30" fill="#9aff5d"/><rect x="200.0" y="289.00" width="713.9" height="1.30" fill="#9dff5a"/><rect x="200.0" y="290.00" width="713.9" height="1.30" fill="#a0ff56"/><rect x="200.0" y="291.00" width="713.9" height="1.30" fill="#a0ff56"/><rect x="200.0" y="292.00" width="713.9" height="1.30" fill="#a4ff53"/><rect x="200.0" y="293.00" width="713.9" height="1.30" fill="#a7ff50"/><rect x="200.0" y="294.00" width="713.9" height="1.30" fill="#aaff4d"/><rect x="200.0" y="295.00" width="713.9" height="1.30" fill="#aaff4d"/><rect x="200.0" y="296.00" width="713.9" height="1.30" fill="#adff49"/><rect x="200.0" y="297.00" width="713.9" height="1.30" fill="#b1ff46"/><rect x="200.0" y="298.00" width="713.9" height="1.30" fill="#b4ff43"/><rect x="200.0" y="299.00" width="713.9" height="1.30" fill="#b4ff43"/><rect x="200.0" y="300.00" width="713.9" height="1.30" fill="#b7ff40"/><rect x="200.0" y="301.00" width="713.9" height="1.30" fill="#baff3c"/><rect x="200.0" y="302.00" width="713.9" height="1.30" fill="#beff39"/><rect x="200.0" y="303.00" width="713.9" height="1.30" fill="#beff39"/><rect x="200.0" y="304.00" width="713.9" height="1.30" fill="#c1ff36"/><rect x="200.0" y="305.00" width="713.9" height="1.30" fill="#c4ff33"/><rect x="200.0" y="306.00" width="713.9" height="1.30" fill="#c7ff30"/><rect x="200.0" y="307.00" width="713.9" height="1.30" fill="#c7ff30"/><rect x="200.0" y="308.00" width="713.9" height="1.30" fill="#caff2c"/><rect x="200.0" y="309.00" width="713.9" height="1.30" fill="#ceff29"/><rect x="200.0" y="310.00" width="713.9" height="1.30" fill="#ceff29"/><rect x="200.0" y="311.00" width="713.9" height="1.30" fill="#d1ff26"/><rect x="200.0" y="312.00" width="713.9" height="1.30" fill="#d1ff26"/><rect x="200.0" y="313.00" width="713.9" height="1.30" fill="#d4ff23"/><rect x="200.0" y="314.00" width="713.9" height="1.30" fill="#d4ff23"/><rect x="200.0" y="315.00" width="713.9" height="1.30" fill="#d7ff1f"/><rect x="200.0" y="316.00" width="713.9" height="1.30" fill="#d7ff1f"/><rect x="200.0" y="317.00" width="713.9" height="1.30" fill="#d7ff1f"/><rect x="200.0" y="318.00" width="713.9" height="1.30" fill="#dbff1c"/><rect x="200.0" y="319.00" width="713.9" height="1.30" fill="#dbff1c"/><rect x="200.0" y="320.00" width="713.9" height="1.30" fill="#dbff1c"/><rect x="200.0" y="321.00" width="713.9" height="1.30" fill="#deff19"/><rect x="200.0" y="322.00" width="713.9" height="1.30" fill="#deff19"/><rect x="200.0" y="323.00" width="713.9" height="1.30" fill="#deff19"/><rect x="200.0" y="324.00" width="713.9" height="1.30" fill="#deff19"/><rect x="200.0" y="325.00" width="713.9" height="1.30" fill="#deff19"/><rect x="200.0" y="326.00" width="713.9" height="1.30" fill="#e1ff16"/><rect x="200.0" y="327.00" width="713.9" height="1.30" fill="#e1ff16"/><rect x="200.0" y="328.00" width="713.9" height="1.30" fill="#e1ff16"/><rect x="200.0" y="329.00" width="713.9" height="1.30" fill="#e1ff16"/><rect x="200.0" y="330.00" width="713.9" height="1.30" fill="#e1ff16"/><rect x="200.0" y="331.00" width="713.9" height="1.30" fill="#e1ff16"/><rect x="200.0" y="332.00" width="713.9" height="1.30" fill="#e1ff16"/><rect x="200.0" y="333.00" width="713.9" height="1.30" fill="#e1ff16"/><rect x="200.0" y="334.00" width="713.9" height="1.30" fill="#e1ff16"/><rect x="200.0" y="335.00" width="713.9" height="1.30" fill="#e1ff16"/><rect x="200.0" y="336.00" width="713.9" height="1.30" fill="#e1ff16"/><rect x="200.0" y="337.00" width="713.9" height="1.30" fill="#e1ff16"/><rect x="200.0" y="338.00" width="713.9" height="1.30" fill="#e1ff16"/><rect x="200.0" y="339.00" width="713.9" height="1.30" fill="#deff19"/><rect x="200.0" y="340.00" width="713.9" height="1.30" fill="#dbff1c"/><rect x="200.0" y="341.00" width="713.9" height="1.30" fill="#d7ff1f"/><rect x="200.0" y="342.00" width="713.9" height="1.30" fill="#d7ff1f"/><rect x="200.0" y="343.00" width="713.9" height="1.30" fill="#d4ff23"/><rect x="200.0" y="344.00" width="713.9" height="1.30" fill="#d1ff26"/><rect x="200.0" y="345.00" width="713.9" height="1.30" fill="#ceff29"/><rect x="200.0" y="346.00" width="713.9" height="1.30" fill="#caff2c"/><rect x="200.0" y="347.00" width="713.9" height="1.30" fill="#c7ff30"/><rect x="200.0" y="348.00" width="713.9" height="1.30" fill="#c4ff33"/><rect x="200.0" y="349.00" width="713.9" height="1.30" fill="#c1ff36"/><rect x="200.0" y="350.00" width="713.9" height="1.30" fill="#beff39"/><rect x="200.0" y="351.00" width="713.9" height="1.30" fill="#b7ff40"/><rect x="200.0" y="352.00" width="713.9" height="1.30" fill="#b4ff43"/><rect x="200.0" y="353.00" width="713.9" height="1.30" fill="#b1ff46"/><rect x="200.0" y="354.00" width="713.9" height="1.30" fill="#adff49"/><rect x="200.0" y="355.00" width="713.9" height="1.30" fill="#aaff4d"/><rect x="200.0" y="356.00" width="713.9" height="1.30" fill="#a4ff53"/><rect x="200.0" y="357.00" width="713.9" height="1.30" fill="#a0ff56"/><rect x="200.0" y="358.00" width="713.9" height="1.30" fill="#9dff5a"/><rect x="200.0" y="359.00" width="713.9" height="1.30" fill="#97ff60"/><rect x="200.0" y="360.00" width="713.9" height="1.30" fill="#90ff66"/><rect x="200.0" y="361.00" width="713.9" height="1.30" fill="#8aff6d"/><rect x="200.0" y="362.00" width="713.9" height="1.30" fill="#80ff77"/><rect x="200.0" y="363.00" width="713.9" height="1.30" fill="#7aff7d"/><rect x="200.0" y="364.00" width="713.9" height="1.30" fill="#70ff87"/><rect x="200.0" y="365.00" width="713.9" height="1.30" fill="#6aff8d"/><rect x="200.0" y="366.00" width="713.9" height="1.30" fill="#60ff97"/><rect x="200.0" y="367.00" width="713.9" height="1.30" fill="#56ffa0"/><rect x="200.0" y="368.00" width="713.9" height="1.30" fill="#49ffad"/><rect x="200.0" y="369.00" width="713.9" height="1.30" fill="#3cffba"/><rect x="200.0" y="370.00" width="713.9" height="1.30" fill="#30ffc7"/><rect x="200.0" y="371.00" width="713.9" height="1.30" fill="#23ffd4"/><rect x="200.0" y="372.00" width="713.9" height="1.30" fill="#16ffe1"/><rect x="200.0" y="373.00" width="713.9" height="1.30" fill="#0cf4eb"/><rect x="200.0" y="374.00" width="713.9" height="1.30" fill="#02e8f4"/><rect x="200.0" y="375.00" width="713.9" height="1.30" fill="#00e0fb"/><rect x="200.0" y="376.00" width="713.9" height="1.30" fill="#00d8ff"/><rect x="200.0" y="377.00" width="713.9" height="1.30" fill="#00ccff"/><rect x="200.0" y="378.00" width="713.9" height="1.30" fill="#00c4ff"/><rect x="200.0" y="379.00" width="713.9" height="1.30" fill="#00b4ff"/><rect x="200.0" y="380.00" width="713.9" height="1.30" fill="#00a8ff"/><rect x="200.0" y="381.00" width="713.9" height="1.30" fill="#0098ff"/><rect x="200.0" y="382.00" width="713.9" height="1.30" fill="#0084ff"/><rect x="200.0" y="383.00" width="713.9" height="1.30" fill="#006cff"/><rect x="200.0" y="384.00" width="713.9" height="1.30" fill="#0054ff"/><rect x="200.0" y="385.00" width="713.9" height="1.30" fill="#003cff"/><rect x="200.0" y="386.00" width="713.9" height="1.30" fill="#0028ff"/><rect x="200.0" y="387.00" width="713.9" height="1.30" fill="#0014ff"/><rect x="200.0" y="388.00" width="713.9" height="1.30" fill="#0000ff"/><rect x="200.0" y="389.00" width="713.9" height="1.30" fill="#0000fa"/><rect x="200.0" y="390.00" width="713.9" height="1.30" fill="#0000e3"/><rect x="200.0" y="391.00" width="713.9" height="1.30" fill="#0000cd"/><rect x="200.0" y="392.00" width="713.9" height="1.30" fill="#0000b6"/><rect x="200.0" y="393.00" width="713.9" height="1.30" fill="#000096"/><rect x="200.0" y="394.00" width="713.9" height="1.30" fill="#000080"/><rect x="200.0" y="395.00" width="713.9" height="1.30" fill="#000080"/><rect x="200.0" y="396.00" width="713.9" height="1.30" fill="#000080"/><rect x="200.0" y="397.00" width="713.9" height="1.30" fill="#000080"/><rect x="200.0" y="398.00" width="713.9" height="1.30" fill="#000080"/><rect x="200.0" y="399.00" width="713.9" height="1.30" fill="#000080"/><rect x="200.0" y="400.00" width="713.9" height="1.30" fill="#000080"/><rect x="200.0" y="401.00" width="713.9" height="1.30" fill="#000080"/><rect x="200.0" y="402.00" width="713.9" height="1.30" fill="#000080"/><rect x="200.0" y="403.00" width="713.9" height="1.30" fill="#000080"/><rect x="200.0" y="404.00" width="713.9" height="1.30" fill="#000080"/><rect x="200.0" y="405.00" width="713.9" height="1.30" fill="#000080"/><rect x="200.0" y="406.00" width="713.9" height="1.30" fill="#000080"/><rect x="200.0" y="407.00" width="713.9" height="1.30" fill="#000080"/><rect x="200.0" y="408.00" width="713.9" height="1.30" fill="#000080"/><rect x="200.0" y="409.00" width="713.9" height="1.30" fill="#000080"/><rect x="200.0" y="410.00" width="713.9" height="1.30" fill="#000080"/><rect x="200.0" y="411.00" width="713.9" height="1.30" fill="#000080"/><rect x="200.0" y="412.00" width="713.9" height="1.30" fill="#000080"/><rect x="200.0" y="413.00" width="713.9" height="1.30" fill="#000080"/><rect x="200.0" y="414.00" width="713.9" height="1.30" fill="#000080"/><rect x="200.0" y="415.00" width="713.9" height="1.30" fill="#000080"/><rect x="200.0" y="416.00" width="713.9" height="1.30" fill="#000080"/><rect x="200.0" y="417.00" width="713.9" height="1.30" fill="#000080"/><rect x="200.0" y="418.00" width="713.9" height="1.30" fill="#000080"/><rect x="200.0" y="419.00" width="713.9" height="1.30" fill="#000080"/><rect x="200.0" y="420.00" width="713.9" height="1.30" fill="#000080"/><rect x="200.0" y="421.00" width="713.9" height="1.30" fill="#000080"/><rect x="200.0" y="422.00" width="713.9" height="1.30" fill="#000080"/><rect x="200.0" y="423.00" width="713.9" height="1.30" fill="#000080"/><rect x="200.0" y="424.00" width="713.9" height="1.30" fill="#000080"/><rect x="200.0" y="425.00" width="713.9" height="1.30" fill="#000080"/><rect x="200.0" y="426.00" width="713.9" height="1.30" fill="#000080"/><rect x="200.0" y="427.00" width="713.9" height="1.30" fill="#000080"/><rect x="200.0" y="428.00" width="713.9" height="1.30" fill="#000080"/><rect x="200.0" y="429.00" width="713.9" height="1.30" fill="#000080"/><rect x="200.0" y="430.00" width="713.9" height="1.30" fill="#000080"/><rect x="200.0" y="431.00" width="713.9" height="1.30" fill="#000080"/><rect x="200.0" y="432.00" width="713.9" height="1.30" fill="#000080"/><rect x="200.0" y="433.00" width="713.9" height="1.30" fill="#000080"/><rect x="200.0" y="434.00" width="713.9" height="1.30" fill="#000080"/><rect x="200.0" y="435.00" width="713.9" height="1.30" fill="#000080"/><rect x="200.0" y="436.00" width="713.9" height="1.30" fill="#000080"/><rect x="200.0" y="437.00" width="713.9" height="1.30" fill="#000080"/><rect x="200.0" y="438.00" width="713.9" height="1.30" fill="#000080"/><rect x="200.0" y="439.00" width="713.9" height="1.30" fill="#000080"/><rect x="200.0" y="440.00" width="713.9" height="1.30" fill="#000080"/><rect x="200.0" y="441.00" width="713.9" height="1.30" fill="#000080"/><rect x="200.0" y="442.00" width="713.9" height="1.30" fill="#000080"/><rect x="200.0" y="443.00" width="713.9" height="1.30" fill="#000080"/><rect x="200.0" y="444.00" width="713.9" height="1.30" fill="#000080"/><rect x="200.0" y="445.00" width="713.9" height="1.30" fill="#000080"/><rect x="200.0" y="446.00" width="713.9" height="1.30" fill="#000080"/><rect x="200.0" y="447.00" width="713.9" height="1.30" fill="#000080"/><rect x="200.0" y="448.00" width="713.9" height="1.30" fill="#000080"/><rect x="200.0" y="449.00" width="713.9" height="1.30" fill="#000080"/><rect x="200.0" y="450.00" width="713.9" height="1.30" fill="#000080"/><rect x="200.0" y="451.00" width="713.9" height="1.30" fill="#000080"/><rect x="200.0" y="452.00" width="713.9" height="1.30" fill="#000080"/><rect x="200.0" y="453.00" width="713.9" height="1.30" fill="#000080"/><rect x="200.0" y="454.00" width="713.9" height="1.00" fill="#000080"/></g></g> <g id="matplotlib.axis_1"> <g id="xtick_1"> <g id="line2d_1"> <defs> <path id="m734474134b" d="M 0 0 L 0 -4 " style="stroke: #000000; stroke-width: 0.75"/> </defs> <g> <use href="#m734474134b" x="186.28" y="341.25" style="stroke: #000000; stroke-width: 0.75"/> </g> </g> </g> <g id="xtick_2"> <g id="line2d_2"> <g> <use href="#m734474134b" x="253.24" y="341.25" style="stroke: #000000; stroke-width: 0.75"/> </g> </g> </g> <g id="xtick_3"> <g id="line2d_3"> <g> <use href="#m734474134b" x="320.19" y="341.25" style="stroke: #000000; stroke-width: 0.75"/> </g> </g> </g> <g id="xtick_4"> <g id="line2d_4"> <g> <use href="#m734474134b" x="387.14" y="341.25" style="stroke: #000000; stroke-width: 0.75"/> </g> </g> </g> <g id="xtick_5"> <g id="line2d_5"> <g> <use href="#m734474134b" x="454.10" y="341.25" style="stroke: #000000; stroke-width: 0.75"/> </g> </g> </g> <g id="xtick_6"> <g id="line2d_6"> <g> <use href="#m734474134b" x="521.05" y="341.25" style="stroke: #000000; stroke-width: 0.75"/> </g> </g> </g> <g id="xtick_7"> <g id="line2d_7"> <g> <use href="#m734474134b" x="588.00" y="341.25" style="stroke: #000000; stroke-width: 0.75"/> </g> </g> </g> <g id="xtick_8"> <g id="line2d_8"> <g> <use href="#m734474134b" x="654.96" y="341.25" style="stroke: #000000; stroke-width: 0.75"/> </g> </g> </g> </g> <g id="matplotlib.axis_2"> <g id="ytick_1"> <g id="line2d_9"> <defs> <path id="m0e9212ec3c" d="M 0 0 L 4 0 " style="stroke: #000000; stroke-width: 0.75"/> </defs> <g> <use href="#m0e9212ec3c" x="150" y="341.25" style="stroke: #000000; stroke-width: 0.75"/> </g> </g> <g id="line2d_10"> <defs> <path id="md311e385f9" d="M 0 0 L -4 0 " style="stroke: #000000; stroke-width: 0.75"/> </defs> <g> <use href="#md311e385f9" x="685.42" y="341.25" style="stroke: #000000; stroke-width: 0.75"/> </g> </g> <g id="text_1" transform="translate(0 0.75)"> <text style="font-size: 14px; font-family: 'DejaVu Sans', sans-serif; text-anchor: end" x="146" y="346.56" transform="rotate(-0 146 346.56)">2</text> </g> </g> <g id="ytick_2"> <g id="line2d_11"> <g> <use href="#m0e9212ec3c" x="150" y="298.12" style="stroke: #000000; stroke-width: 0.75"/> </g> </g> <g id="line2d_12"> <g> <use href="#md311e385f9" x="685.42" y="298.12" style="stroke: #000000; stroke-width: 0.75"/> </g> </g> <g id="text_2" transform="translate(0 0.75)"> <text style="font-size: 14px; font-family: 'DejaVu Sans', sans-serif; text-anchor: end" x="146" y="303.44" transform="rotate(-0 146 303.44)">3</text> </g> </g> <g id="ytick_3"> <g id="line2d_13"> <g> <use href="#m0e9212ec3c" x="150" y="255" style="stroke: #000000; stroke-width: 0.75"/> </g> </g> <g id="line2d_14"> <g> <use href="#md311e385f9" x="685.42" y="255" style="stroke: #000000; stroke-width: 0.75"/> </g> </g> <g id="text_3" transform="translate(0 0.75)"> <text style="font-size: 14px; font-family: 'DejaVu Sans', sans-serif; text-anchor: end" x="146" y="260.31" transform="rotate(-0 146 260.31)">4</text> </g> </g> <g id="ytick_4"> <g id="line2d_15"> <g> <use href="#m0e9212ec3c" x="150" y="211.87" style="stroke: #000000; stroke-width: 0.75"/> </g> </g> <g id="line2d_16"> <g> <use href="#md311e385f9" x="685.42" y="211.87" style="stroke: #000000; stroke-width: 0.75"/> </g> </g> <g id="text_4" transform="translate(0 0.75)"> <text style="font-size: 14px; font-family: 'DejaVu Sans', sans-serif; text-anchor: end" x="146" y="217.19" transform="rotate(-0 146 217.19)">5</text> </g> </g> <g id="ytick_5"> <g id="line2d_17"> <g> <use href="#m0e9212ec3c" x="150" y="168.75" style="stroke: #000000; stroke-width: 0.75"/> </g> </g> <g id="line2d_18"> <g> <use href="#md311e385f9" x="685.42" y="168.75" style="stroke: #000000; stroke-width: 0.75"/> </g> </g> <g id="text_5" transform="translate(0 0.75)"> <text style="font-size: 14px; font-family: 'DejaVu Sans', sans-serif; text-anchor: end" x="146" y="174.06" transform="rotate(-0 146 174.06)">6</text> </g> </g> <g id="ytick_6"> <g id="line2d_19"> <g> <use href="#m0e9212ec3c" x="150" y="125.62" style="stroke: #000000; stroke-width: 0.75"/> </g> </g> <g id="line2d_20"> <g> <use href="#md311e385f9" x="685.42" y="125.62" style="stroke: #000000; stroke-width: 0.75"/> </g> </g> <g id="text_6" transform="translate(0 0.75)"> <text style="font-size: 14px; font-family: 'DejaVu Sans', sans-serif; text-anchor: end" x="146" y="130.94" transform="rotate(-0 146 130.94)">7</text> </g> </g> <g id="ytick_7"> <g id="line2d_21"> <g> <use href="#m0e9212ec3c" x="150" y="82.5" style="stroke: #000000; stroke-width: 0.75"/> </g> </g> <g id="line2d_22"> <g> <use href="#md311e385f9" x="685.42" y="82.5" style="stroke: #000000; stroke-width: 0.75"/> </g> </g> <g id="text_7" transform="translate(0 0.75)"> <text style="font-size: 14px; font-family: 'DejaVu Sans', sans-serif; text-anchor: end" x="146" y="87.81" transform="rotate(-0 146 87.81)">8</text> </g> </g> </g> <g id="patch_3"> <path d="M 150 341.25 L 150 82.5 " style="fill: none; stroke: #000000; stroke-width: 1.5; stroke-linejoin: miter; stroke-linecap: square"/> </g> <g id="patch_4"> <path d="M 685.42 341.25 L 685.42 82.5 " style="fill: none; stroke: #000000; stroke-width: 1.5; stroke-linejoin: miter; stroke-linecap: square"/> </g> <g id="patch_5"> <path d="M 150 341.25 L 685.42 341.25 " style="fill: none; stroke: #000000; stroke-width: 1.5; stroke-linejoin: miter; stroke-linecap: square"/> </g> <g id="patch_6"> <path d="M 150 82.5 L 685.42 82.5 " style="fill: none; stroke: #000000; stroke-width: 1.5; stroke-linejoin: miter; stroke-linecap: square"/> </g> <g id="line2d_23"> <path d="M 150 165.66 L 151.78 163.37 L 152.23 163.03 L 153.12 162.84 L 156.69 162.55 L 157.14 162.25 L 158.03 161.28 L 159.37 159.39 L 160.27 157.51 L 161.61 154.35 L 162.95 151.91 L 164.28 150.38 L 165.18 149.63 L 165.62 149.44 L 166.07 149.40 L 166.96 149.71 L 170.54 151.74 L 171.88 150.51 L 172.77 149.95 L 173.66 149.58 L 174.56 149.41 L 175.45 149.44 L 176.34 149.72 L 177.68 150.48 L 178.57 151.16 L 179.02 151.76 L 180.36 154.38 L 182.15 158.42 L 183.04 159.70 L 183.93 160.69 L 185.27 161.75 L 186.61 162.51 L 187.51 162.77 L 191.08 163.41 L 191.53 163.79 L 192.42 164.91 L 193.76 166.94 L 195.99 170.85 L 196.88 172.18 L 197.78 173.03 L 199.12 174.00 L 200.01 174.47 L 200.90 174.73 L 204.48 174.93 L 207.60 174.95 L 208.49 174.70 L 210.28 173.83 L 211.17 173.21 L 212.51 171.95 L 213.85 170.47 L 215.19 168.64 L 216.09 167.18 L 216.98 165.61 L 218.77 163.34 L 219.21 163.01 L 220.10 162.84 L 223.68 162.53 L 224.57 161.78 L 225.91 160.00 L 226.36 159.33 L 227.25 157.43 L 228.59 154.29 L 229.93 151.86 L 231.27 150.34 L 232.16 149.62 L 232.61 149.43 L 233.06 149.41 L 233.95 149.73 L 237.07 151.66 L 237.52 151.70 L 238.86 150.49 L 239.75 149.93 L 240.65 149.57 L 241.54 149.41 L 242.43 149.45 L 243.33 149.73 L 244.67 150.50 L 245.56 151.19 L 246.01 151.81 L 247.35 154.45 L 249.13 158.47 L 250.02 159.74 L 250.92 160.71 L 252.26 161.77 L 253.60 162.52 L 254.49 162.77 L 258.06 163.43 L 258.96 164.34 L 260.30 166.26 L 263.87 172.22 L 264.76 173.05 L 266.10 174.02 L 266.99 174.49 L 267.89 174.73 L 271.46 174.93 L 274.59 174.94 L 275.48 174.69 L 277.26 173.82 L 278.16 173.18 L 279.50 171.92 L 280.84 170.43 L 282.18 168.59 L 283.07 167.12 L 283.96 165.56 L 285.75 163.31 L 286.20 162.99 L 287.09 162.84 L 290.66 162.51 L 291.55 161.75 L 292.89 159.95 L 293.34 159.28 L 294.23 157.35 L 295.57 154.23 L 296.91 151.82 L 298.25 150.31 L 299.15 149.60 L 299.59 149.42 L 300.04 149.41 L 300.93 149.74 L 304.06 151.69 L 304.50 151.67 L 305.84 150.46 L 306.74 149.91 L 307.63 149.56 L 308.52 149.40 L 309.42 149.46 L 310.31 149.74 L 311.65 150.52 L 312.54 151.22 L 312.99 151.86 L 314.33 154.52 L 316.12 158.51 L 317.01 159.78 L 317.90 160.74 L 319.24 161.79 L 320.58 162.54 L 321.47 162.78 L 325.05 163.46 L 325.94 164.38 L 327.28 166.30 L 330.85 172.26 L 331.74 173.08 L 333.08 174.04 L 333.98 174.50 L 334.87 174.73 L 338.89 174.94 L 341.57 174.94 L 342.46 174.68 L 344.25 173.80 L 345.14 173.15 L 346.48 171.88 L 347.82 170.39 L 349.16 168.55 L 350.05 167.06 L 350.95 165.52 L 352.73 163.28 L 353.18 162.98 L 354.07 162.84 L 357.20 162.66 L 357.65 162.50 L 358.54 161.71 L 359.88 159.91 L 360.32 159.23 L 361.22 157.28 L 362.56 154.17 L 363.90 151.77 L 365.24 150.28 L 366.13 149.58 L 366.58 149.42 L 367.02 149.41 L 367.92 149.76 L 371.04 151.71 L 371.49 151.64 L 372.83 150.44 L 373.72 149.90 L 374.61 149.55 L 375.51 149.40 L 376.40 149.46 L 377.29 149.76 L 378.63 150.54 L 379.53 151.26 L 380.42 152.76 L 381.76 155.66 L 382.65 157.77 L 383.55 159.23 L 384.44 160.33 L 385.78 161.49 L 387.12 162.35 L 388.01 162.69 L 389.35 162.91 L 391.14 163.14 L 392.03 163.48 L 392.92 164.43 L 394.71 167.11 L 396.50 170.25 L 397.84 172.29 L 398.73 173.10 L 400.07 174.06 L 400.96 174.51 L 401.85 174.74 L 405.87 174.94 L 408.55 174.93 L 409.45 174.67 L 411.23 173.78 L 412.13 173.13 L 413.47 171.85 L 414.80 170.35 L 416.14 168.50 L 417.04 167.00 L 417.93 165.47 L 419.72 163.26 L 420.16 162.97 L 421.06 162.83 L 424.18 162.66 L 424.63 162.48 L 425.52 161.68 L 426.86 159.86 L 427.31 159.17 L 428.20 157.20 L 429.54 154.11 L 430.88 151.73 L 432.22 150.25 L 433.11 149.56 L 433.56 149.41 L 434.01 149.42 L 434.90 149.78 L 438.03 151.73 L 438.47 151.60 L 439.81 150.42 L 440.71 149.88 L 441.60 149.54 L 442.49 149.40 L 443.38 149.47 L 444.28 149.77 L 445.62 150.56 L 446.51 151.30 L 447.40 152.83 L 448.74 155.74 L 449.64 157.84 L 450.53 159.27 L 451.42 160.37 L 452.76 161.52 L 454.10 162.37 L 455.00 162.69 L 456.78 162.96 L 458.57 163.27 L 459.01 163.50 L 459.91 164.47 L 461.69 167.17 L 463.48 170.30 L 464.37 171.74 L 465.27 172.77 L 467.05 174.08 L 467.95 174.52 L 468.84 174.74 L 472.86 174.94 L 475.54 174.93 L 476.43 174.65 L 478.22 173.76 L 479.11 173.10 L 480.45 171.82 L 481.79 170.31 L 483.13 168.45 L 484.02 166.95 L 484.91 165.43 L 486.25 163.67 L 486.70 163.23 L 487.15 162.95 L 488.49 162.81 L 491.17 162.65 L 491.61 162.46 L 492.51 161.64 L 493.85 159.82 L 494.29 159.11 L 495.19 157.12 L 496.53 154.05 L 497.86 151.69 L 499.20 150.22 L 500.10 149.55 L 500.54 149.41 L 500.99 149.43 L 501.88 149.80 L 505.01 151.75 L 505.46 151.57 L 506.80 150.40 L 507.69 149.87 L 508.58 149.54 L 509.48 149.40 L 510.37 149.48 L 511.26 149.79 L 512.60 150.59 L 513.49 151.33 L 514.39 152.89 L 515.73 155.82 L 516.62 157.90 L 517.51 159.31 L 518.41 160.40 L 519.75 161.54 L 521.09 162.38 L 521.98 162.70 L 523.77 162.96 L 525.11 163.16 L 525.55 163.28 L 526.00 163.53 L 526.89 164.51 L 528.68 167.22 L 530.46 170.36 L 531.36 171.79 L 532.25 172.79 L 534.04 174.10 L 534.93 174.54 L 535.82 174.74 L 540.29 174.95 L 542.52 174.92 L 543.41 174.64 L 545.20 173.74 L 546.09 173.07 L 547.88 171.32 L 549.22 169.68 L 550.56 167.70 L 551.90 165.39 L 553.24 163.64 L 553.68 163.20 L 554.13 162.94 L 555.47 162.81 L 558.15 162.64 L 558.60 162.44 L 559.49 161.60 L 560.83 159.77 L 561.28 159.05 L 562.17 157.04 L 563.51 153.99 L 564.40 152.32 L 565.30 151.13 L 566.64 149.81 L 567.08 149.53 L 567.53 149.40 L 567.97 149.43 L 568.87 149.81 L 571.99 151.77 L 572.44 151.54 L 573.78 150.38 L 574.67 149.85 L 575.57 149.53 L 576.46 149.40 L 577.35 149.48 L 578.25 149.80 L 579.59 150.61 L 580.48 151.38 L 581.37 152.96 L 582.26 154.81 L 583.60 157.96 L 584.50 159.36 L 585.39 160.43 L 586.73 161.56 L 588.07 162.40 L 588.96 162.71 L 590.75 162.96 L 592.09 163.17 L 592.54 163.29 L 592.98 163.55 L 593.88 164.55 L 595.66 167.28 L 597.45 170.41 L 598.34 171.83 L 599.23 172.82 L 601.02 174.12 L 601.91 174.55 L 602.81 174.75 L 607.27 174.95 L 609.50 174.91 L 610.40 174.63 L 612.18 173.72 L 613.08 173.05 L 614.86 171.29 L 616.20 169.64 L 617.54 167.65 L 618.88 165.35 L 620.22 163.60 L 620.67 163.18 L 621.12 162.93 L 622.46 162.80 L 625.13 162.63 L 625.58 162.42 L 626.47 161.57 L 627.81 159.72 L 628.26 158.99 L 629.15 156.96 L 630.49 153.93 L 631.39 152.27 L 632.28 151.10 L 633.62 149.78 L 634.07 149.52 L 634.51 149.40 L 634.96 149.44 L 635.85 149.83 L 638.98 151.80 L 639.42 151.51 L 640.76 150.35 L 641.66 149.84 L 642.55 149.52 L 643.44 149.40 L 644.34 149.49 L 645.23 149.82 L 646.57 150.63 L 647.46 151.42 L 648.36 153.02 L 649.25 154.88 L 650.59 158.02 L 651.48 159.40 L 652.37 160.47 L 653.71 161.59 L 655.05 162.41 L 655.95 162.72 L 657.73 162.97 L 659.07 163.17 L 659.52 163.30 L 659.97 163.58 L 660.86 164.60 L 662.20 166.55 L 665.32 171.88 L 666.22 172.84 L 667.56 173.86 L 668.45 174.37 L 669.34 174.69 L 671.13 174.84 L 675.60 174.97 L 676.49 174.91 L 677.38 174.62 L 679.17 173.70 L 680.06 173.02 L 681.85 171.25 L 683.19 169.59 L 684.53 167.59 L 685.42 165.97 L 685.42 165.97 " clip-path="url(#p24ad14cf49)" style="fill: none; stroke-dasharray: 4.42,2.29; stroke-dashoffset: 0; stroke: #000000; stroke-width: 1.7"/> </g> <g id="line2d_24"> <path d="M 618.67 341.25 L 618.67 82.5 " clip-path="url(#p24ad14cf49)" style="fill: none; stroke-dasharray: 1.5,2.47; stroke-dashoffset: 0; stroke: #1f77b4; stroke-width: 1.5"/> </g> <g id="line2d_25"> <path d="M 172.5 82.5 L 172.5 94.5 " clip-path="url(#p24ad14cf49)" style="fill: none; stroke: #ffffff; stroke-width: 1.5"/> </g> <g id="line2d_26"> <path d="M 170.62 82.5 L 170.62 89.62 " style="fill: none; stroke: #000000; stroke-width: 3"/> </g> <g id="text_8"> <text style="font-size: 10px; font-family: 'DejaVu Sans', sans-serif; text-anchor: middle" x="170.62" y="104.25" transform="rotate(-0 170.62 104.25)">M</text> </g> <g id="line2d_27"> <path d="M 204.18 82.5 L 204.18 89.62 " style="fill: none; stroke: #ff0000; stroke-width: 3"/> </g> <g id="text_9"> <text style="font-size: 10px; font-family: 'DejaVu Sans', sans-serif; text-anchor: middle; fill: #ff0000" x="204.18" y="104.25" transform="rotate(-0 204.18 104.25)">N</text> </g> <g id="line2d_28"> <path d="M 237.75 82.5 L 237.75 89.62 " style="fill: none; stroke: #000000; stroke-width: 3"/> </g> <g id="text_10"> <text style="font-size: 10px; font-family: 'DejaVu Sans', sans-serif; text-anchor: middle" x="237.75" y="104.25" transform="rotate(-0 237.75 104.25)">M</text> </g> <g id="line2d_29"> <path d="M 271.31 82.5 L 271.31 89.62 " style="fill: none; stroke: #ff0000; stroke-width: 3"/> </g> <g id="text_11"> <text style="font-size: 10px; font-family: 'DejaVu Sans', sans-serif; text-anchor: middle; fill: #ff0000" x="271.31" y="104.25" transform="rotate(-0 271.31 104.25)">N</text> </g> <g id="line2d_30"> <path d="M 304.87 82.5 L 304.87 89.62 " style="fill: none; stroke: #000000; stroke-width: 3"/> </g> <g id="text_12"> <text style="font-size: 10px; font-family: 'DejaVu Sans', sans-serif; text-anchor: middle" x="304.87" y="104.25" transform="rotate(-0 304.87 104.25)">M</text> </g> <g id="line2d_31"> <path d="M 338.43 82.5 L 338.43 89.62 " style="fill: none; stroke: #ff0000; stroke-width: 3"/> </g> <g id="text_13"> <text style="font-size: 10px; font-family: 'DejaVu Sans', sans-serif; text-anchor: middle; fill: #ff0000" x="338.43" y="104.25" transform="rotate(-0 338.43 104.25)">N</text> </g> <g id="line2d_32"> <path d="M 372 82.5 L 372 89.62 " style="fill: none; stroke: #000000; stroke-width: 3"/> </g> <g id="text_14"> <text style="font-size: 10px; font-family: 'DejaVu Sans', sans-serif; text-anchor: middle" x="372" y="104.25" transform="rotate(-0 372 104.25)">M</text> </g> <g id="line2d_33"> <path d="M 405.56 82.5 L 405.56 89.62 " style="fill: none; stroke: #ff0000; stroke-width: 3"/> </g> <g id="text_15"> <text style="font-size: 10px; font-family: 'DejaVu Sans', sans-serif; text-anchor: middle; fill: #ff0000" x="405.56" y="104.25" transform="rotate(-0 405.56 104.25)">N</text> </g> <g id="line2d_34"> <path d="M 439.12 82.5 L 439.12 89.62 " style="fill: none; stroke: #000000; stroke-width: 3"/> </g> <g id="text_16"> <text style="font-size: 10px; font-family: 'DejaVu Sans', sans-serif; text-anchor: middle" x="439.12" y="104.25" transform="rotate(-0 439.12 104.25)">M</text> </g> <g id="line2d_35"> <path d="M 472.68 82.5 L 472.68 89.62 " style="fill: none; stroke: #ff0000; stroke-width: 3"/> </g> <g id="text_17"> <text style="font-size: 10px; font-family: 'DejaVu Sans', sans-serif; text-anchor: middle; fill: #ff0000" x="472.68" y="104.25" transform="rotate(-0 472.68 104.25)">N</text> </g> <g id="line2d_36"> <path d="M 506.25 82.5 L 506.25 89.62 " style="fill: none; stroke: #000000; stroke-width: 3"/> </g> <g id="text_18"> <text style="font-size: 10px; font-family: 'DejaVu Sans', sans-serif; text-anchor: middle" x="506.25" y="104.25" transform="rotate(-0 506.25 104.25)">M</text> </g> <g id="line2d_37"> <path d="M 539.81 82.5 L 539.81 89.62 " style="fill: none; stroke: #ff0000; stroke-width: 3"/> </g> <g id="text_19"> <text style="font-size: 10px; font-family: 'DejaVu Sans', sans-serif; text-anchor: middle; fill: #ff0000" x="539.81" y="104.25" transform="rotate(-0 539.81 104.25)">N</text> </g> <g id="line2d_38"> <path d="M 573.37 82.5 L 573.37 89.62 " style="fill: none; stroke: #000000; stroke-width: 3"/> </g> <g id="text_20"> <text style="font-size: 10px; font-family: 'DejaVu Sans', sans-serif; text-anchor: middle" x="573.37" y="104.25" transform="rotate(-0 573.37 104.25)">M</text> </g> <g id="line2d_39"> <path d="M 606.93 82.5 L 606.93 89.62 " style="fill: none; stroke: #ff0000; stroke-width: 3"/> </g> <g id="text_21"> <text style="font-size: 10px; font-family: 'DejaVu Sans', sans-serif; text-anchor: middle; fill: #ff0000" x="606.93" y="104.25" transform="rotate(-0 606.93 104.25)">N</text> </g> <g id="text_22"> <text style="font-size: 47.5px; font-family: 'DejaVu Sans', sans-serif; text-anchor: middle; opacity: 0.1" x="666.22" y="217.12" transform="rotate(-90 666.22 217.12)">Forecast</text> </g> </g> <g id="axes_2"> <g id="patch_7"> <path d="M 719.17 341.25 L 732 341.25 L 732 82.5 L 719.17 82.5 z " style="fill: #ffffff"/> </g> <g id="CBAR" transform="scale(0.75)"><rect x="958.9" y="110.00" width="17.1" height="1.30" fill="#800000"/><rect x="958.9" y="111.00" width="17.1" height="1.30" fill="#840000"/><rect x="958.9" y="112.00" width="17.1" height="1.30" fill="#840000"/><rect x="958.9" y="113.00" width="17.1" height="1.30" fill="#890000"/><rect x="958.9" y="114.00" width="17.1" height="1.30" fill="#8d0000"/><rect x="958.9" y="115.00" width="17.1" height="1.30" fill="#920000"/><rect x="958.9" y="116.00" width="17.1" height="1.30" fill="#920000"/><rect x="958.9" y="117.00" width="17.1" height="1.30" fill="#960000"/><rect x="958.9" y="118.00" width="17.1" height="1.30" fill="#9b0000"/><rect x="958.9" y="119.00" width="17.1" height="1.30" fill="#9f0000"/><rect x="958.9" y="120.00" width="17.1" height="1.30" fill="#9f0000"/><rect x="958.9" y="121.00" width="17.1" height="1.30" fill="#a40000"/><rect x="958.9" y="122.00" width="17.1" height="1.30" fill="#a80000"/><rect x="958.9" y="123.00" width="17.1" height="1.30" fill="#ad0000"/><rect x="958.9" y="124.00" width="17.1" height="1.30" fill="#ad0000"/><rect x="958.9" y="125.00" width="17.1" height="1.30" fill="#b20000"/><rect x="958.9" y="126.00" width="17.1" height="1.30" fill="#b60000"/><rect x="958.9" y="127.00" width="17.1" height="1.30" fill="#b60000"/><rect x="958.9" y="128.00" width="17.1" height="1.30" fill="#bb0000"/><rect x="958.9" y="129.00" width="17.1" height="1.30" fill="#bf0000"/><rect x="958.9" y="130.00" width="17.1" height="1.30" fill="#c40000"/><rect x="958.9" y="131.00" width="17.1" height="1.30" fill="#c40000"/><rect x="958.9" y="132.00" width="17.1" height="1.30" fill="#c80000"/><rect x="958.9" y="133.00" width="17.1" height="1.30" fill="#cd0000"/><rect x="958.9" y="134.00" width="17.1" height="1.30" fill="#d10000"/><rect x="958.9" y="135.00" width="17.1" height="1.30" fill="#d10000"/><rect x="958.9" y="136.00" width="17.1" height="1.30" fill="#d60000"/><rect x="958.9" y="137.00" width="17.1" height="1.30" fill="#da0000"/><rect x="958.9" y="138.00" width="17.1" height="1.30" fill="#df0000"/><rect x="958.9" y="139.00" width="17.1" height="1.30" fill="#df0000"/><rect x="958.9" y="140.00" width="17.1" height="1.30" fill="#e40000"/><rect x="958.9" y="141.00" width="17.1" height="1.30" fill="#e80000"/><rect x="958.9" y="142.00" width="17.1" height="1.30" fill="#ed0400"/><rect x="958.9" y="143.00" width="17.1" height="1.30" fill="#ed0400"/><rect x="958.9" y="144.00" width="17.1" height="1.30" fill="#f10800"/><rect x="958.9" y="145.00" width="17.1" height="1.30" fill="#f60b00"/><rect x="958.9" y="146.00" width="17.1" height="1.30" fill="#fa0f00"/><rect x="958.9" y="147.00" width="17.1" height="1.30" fill="#fa0f00"/><rect x="958.9" y="148.00" width="17.1" height="1.30" fill="#ff1300"/><rect x="958.9" y="149.00" width="17.1" height="1.30" fill="#ff1600"/><rect x="958.9" y="150.00" width="17.1" height="1.30" fill="#ff1a00"/><rect x="958.9" y="151.00" width="17.1" height="1.30" fill="#ff1a00"/><rect x="958.9" y="152.00" width="17.1" height="1.30" fill="#ff1e00"/><rect x="958.9" y="153.00" width="17.1" height="1.30" fill="#ff2200"/><rect x="958.9" y="154.00" width="17.1" height="1.30" fill="#ff2500"/><rect x="958.9" y="155.00" width="17.1" height="1.30" fill="#ff2500"/><rect x="958.9" y="156.00" width="17.1" height="1.30" fill="#ff2900"/><rect x="958.9" y="157.00" width="17.1" height="1.30" fill="#ff2d00"/><rect x="958.9" y="158.00" width="17.1" height="1.30" fill="#ff2d00"/><rect x="958.9" y="159.00" width="17.1" height="1.30" fill="#ff3000"/><rect x="958.9" y="160.00" width="17.1" height="1.30" fill="#ff3400"/><rect x="958.9" y="161.00" width="17.1" height="1.30" fill="#ff3800"/><rect x="958.9" y="162.00" width="17.1" height="1.30" fill="#ff3800"/><rect x="958.9" y="163.00" width="17.1" height="1.30" fill="#ff3b00"/><rect x="958.9" y="164.00" width="17.1" height="1.30" fill="#ff3f00"/><rect x="958.9" y="165.00" width="17.1" height="1.30" fill="#ff4300"/><rect x="958.9" y="166.00" width="17.1" height="1.30" fill="#ff4300"/><rect x="958.9" y="167.00" width="17.1" height="1.30" fill="#ff4700"/><rect x="958.9" y="168.00" width="17.1" height="1.30" fill="#ff4a00"/><rect x="958.9" y="169.00" width="17.1" height="1.30" fill="#ff4e00"/><rect x="958.9" y="170.00" width="17.1" height="1.30" fill="#ff4e00"/><rect x="958.9" y="171.00" width="17.1" height="1.30" fill="#ff5200"/><rect x="958.9" y="172.00" width="17.1" height="1.30" fill="#ff5500"/><rect x="958.9" y="173.00" width="17.1" height="1.30" fill="#ff5900"/><rect x="958.9" y="174.00" width="17.1" height="1.30" fill="#ff5900"/><rect x="958.9" y="175.00" width="17.1" height="1.30" fill="#ff5d00"/><rect x="958.9" y="176.00" width="17.1" height="1.30" fill="#ff6000"/><rect x="958.9" y="177.00" width="17.1" height="1.30" fill="#ff6400"/><rect x="958.9" y="178.00" width="17.1" height="1.30" fill="#ff6400"/><rect x="958.9" y="179.00" width="17.1" height="1.30" fill="#ff6800"/><rect x="958.9" y="180.00" width="17.1" height="1.30" fill="#ff6c00"/><rect x="958.9" y="181.00" width="17.1" height="1.30" fill="#ff6f00"/><rect x="958.9" y="182.00" width="17.1" height="1.30" fill="#ff6f00"/><rect x="958.9" y="183.00" width="17.1" height="1.30" fill="#ff7300"/><rect x="958.9" y="184.00" width="17.1" height="1.30" fill="#ff7700"/><rect x="958.9" y="185.00" width="17.1" height="1.30" fill="#ff7a00"/><rect x="958.9" y="186.00" width="17.1" height="1.30" fill="#ff7a00"/><rect x="958.9" y="187.00" width="17.1" height="1.30" fill="#ff7e00"/><rect x="958.9" y="188.00" width="17.1" height="1.30" fill="#ff8200"/><rect x="958.9" y="189.00" width="17.1" height="1.30" fill="#ff8200"/><rect x="958.9" y="190.00" width="17.1" height="1.30" fill="#ff8600"/><rect x="958.9" y="191.00" width="17.1" height="1.30" fill="#ff8900"/><rect x="958.9" y="192.00" width="17.1" height="1.30" fill="#ff8d00"/><rect x="958.9" y="193.00" width="17.1" height="1.30" fill="#ff8d00"/><rect x="958.9" y="194.00" width="17.1" height="1.30" fill="#ff9100"/><rect x="958.9" y="195.00" width="17.1" height="1.30" fill="#ff9400"/><rect x="958.9" y="196.00" width="17.1" height="1.30" fill="#ff9800"/><rect x="958.9" y="197.00" width="17.1" height="1.30" fill="#ff9800"/><rect x="958.9" y="198.00" width="17.1" height="1.30" fill="#ff9c00"/><rect x="958.9" y="199.00" width="17.1" height="1.30" fill="#ff9f00"/><rect x="958.9" y="200.00" width="17.1" height="1.30" fill="#ffa300"/><rect x="958.9" y="201.00" width="17.1" height="1.30" fill="#ffa300"/><rect x="958.9" y="202.00" width="17.1" height="1.30" fill="#ffa700"/><rect x="958.9" y="203.00" width="17.1" height="1.30" fill="#ffab00"/><rect x="958.9" y="204.00" width="17.1" height="1.30" fill="#ffae00"/><rect x="958.9" y="205.00" width="17.1" height="1.30" fill="#ffae00"/><rect x="958.9" y="206.00" width="17.1" height="1.30" fill="#ffb200"/><rect x="958.9" y="207.00" width="17.1" height="1.30" fill="#ffb600"/><rect x="958.9" y="208.00" width="17.1" height="1.30" fill="#ffb900"/><rect x="958.9" y="209.00" width="17.1" height="1.30" fill="#ffb900"/><rect x="958.9" y="210.00" width="17.1" height="1.30" fill="#ffbd00"/><rect x="958.9" y="211.00" width="17.1" height="1.30" fill="#ffc100"/><rect x="958.9" y="212.00" width="17.1" height="1.30" fill="#ffc400"/><rect x="958.9" y="213.00" width="17.1" height="1.30" fill="#ffc400"/><rect x="958.9" y="214.00" width="17.1" height="1.30" fill="#ffc800"/><rect x="958.9" y="215.00" width="17.1" height="1.30" fill="#ffcc00"/><rect x="958.9" y="216.00" width="17.1" height="1.30" fill="#ffd000"/><rect x="958.9" y="217.00" width="17.1" height="1.30" fill="#ffd000"/><rect x="958.9" y="218.00" width="17.1" height="1.30" fill="#ffd300"/><rect x="958.9" y="219.00" width="17.1" height="1.30" fill="#ffd700"/><rect x="958.9" y="220.00" width="17.1" height="1.30" fill="#ffd700"/><rect x="958.9" y="221.00" width="17.1" height="1.30" fill="#ffdb00"/><rect x="958.9" y="222.00" width="17.1" height="1.30" fill="#ffde00"/><rect x="958.9" y="223.00" width="17.1" height="1.30" fill="#ffe200"/><rect x="958.9" y="224.00" width="17.1" height="1.30" fill="#ffe200"/><rect x="958.9" y="225.00" width="17.1" height="1.30" fill="#ffe600"/><rect x="958.9" y="226.00" width="17.1" height="1.30" fill="#ffea00"/><rect x="958.9" y="227.00" width="17.1" height="1.30" fill="#feed00"/><rect x="958.9" y="228.00" width="17.1" height="1.30" fill="#feed00"/><rect x="958.9" y="229.00" width="17.1" height="1.30" fill="#fbf100"/><rect x="958.9" y="230.00" width="17.1" height="1.30" fill="#f8f500"/><rect x="958.9" y="231.00" width="17.1" height="1.30" fill="#f4f802"/><rect x="958.9" y="232.00" width="17.1" height="1.30" fill="#f4f802"/><rect x="958.9" y="233.00" width="17.1" height="1.30" fill="#f1fc06"/><rect x="958.9" y="234.00" width="17.1" height="1.30" fill="#eeff09"/><rect x="958.9" y="235.00" width="17.1" height="1.30" fill="#ebff0c"/><rect x="958.9" y="236.00" width="17.1" height="1.30" fill="#ebff0c"/><rect x="958.9" y="237.00" width="17.1" height="1.30" fill="#e7ff0f"/><rect x="958.9" y="238.00" width="17.1" height="1.30" fill="#e4ff13"/><rect x="958.9" y="239.00" width="17.1" height="1.30" fill="#e1ff16"/><rect x="958.9" y="240.00" width="17.1" height="1.30" fill="#e1ff16"/><rect x="958.9" y="241.00" width="17.1" height="1.30" fill="#deff19"/><rect x="958.9" y="242.00" width="17.1" height="1.30" fill="#dbff1c"/><rect x="958.9" y="243.00" width="17.1" height="1.30" fill="#d7ff1f"/><rect x="958.9" y="244.00" width="17.1" height="1.30" fill="#d7ff1f"/><rect x="958.9" y="245.00" width="17.1" height="1.30" fill="#d4ff23"/><rect x="958.9" y="246.00" width="17.1" height="1.30" fill="#d1ff26"/><rect x="958.9" y="247.00" width="17.1" height="1.30" fill="#ceff29"/><rect x="958.9" y="248.00" width="17.1" height="1.30" fill="#ceff29"/><rect x="958.9" y="249.00" width="17.1" height="1.30" fill="#caff2c"/><rect x="958.9" y="250.00" width="17.1" height="1.30" fill="#c7ff30"/><rect x="958.9" y="251.00" width="17.1" height="1.30" fill="#c7ff30"/><rect x="958.9" y="252.00" width="17.1" height="1.30" fill="#c4ff33"/><rect x="958.9" y="253.00" width="17.1" height="1.30" fill="#c1ff36"/><rect x="958.9" y="254.00" width="17.1" height="1.30" fill="#beff39"/><rect x="958.9" y="255.00" width="17.1" height="1.30" fill="#beff39"/><rect x="958.9" y="256.00" width="17.1" height="1.30" fill="#baff3c"/><rect x="958.9" y="257.00" width="17.1" height="1.30" fill="#b7ff40"/><rect x="958.9" y="258.00" width="17.1" height="1.30" fill="#b4ff43"/><rect x="958.9" y="259.00" width="17.1" height="1.30" fill="#b4ff43"/><rect x="958.9" y="260.00" width="17.1" height="1.30" fill="#b1ff46"/><rect x="958.9" y="261.00" width="17.1" height="1.30" fill="#adff49"/><rect x="958.9" y="262.00" width="17.1" height="1.30" fill="#aaff4d"/><rect x="958.9" y="263.00" width="17.1" height="1.30" fill="#aaff4d"/><rect x="958.9" y="264.00" width="17.1" height="1.30" fill="#a7ff50"/><rect x="958.9" y="265.00" width="17.1" height="1.30" fill="#a4ff53"/><rect x="958.9" y="266.00" width="17.1" height="1.30" fill="#a0ff56"/><rect x="958.9" y="267.00" width="17.1" height="1.30" fill="#a0ff56"/><rect x="958.9" y="268.00" width="17.1" height="1.30" fill="#9dff5a"/><rect x="958.9" y="269.00" width="17.1" height="1.30" fill="#9aff5d"/><rect x="958.9" y="270.00" width="17.1" height="1.30" fill="#97ff60"/><rect x="958.9" y="271.00" width="17.1" height="1.30" fill="#97ff60"/><rect x="958.9" y="272.00" width="17.1" height="1.30" fill="#94ff63"/><rect x="958.9" y="273.00" width="17.1" height="1.30" fill="#90ff66"/><rect x="958.9" y="274.00" width="17.1" height="1.30" fill="#8dff6a"/><rect x="958.9" y="275.00" width="17.1" height="1.30" fill="#8dff6a"/><rect x="958.9" y="276.00" width="17.1" height="1.30" fill="#8aff6d"/><rect x="958.9" y="277.00" width="17.1" height="1.30" fill="#87ff70"/><rect x="958.9" y="278.00" width="17.1" height="1.30" fill="#83ff73"/><rect x="958.9" y="279.00" width="17.1" height="1.30" fill="#83ff73"/><rect x="958.9" y="280.00" width="17.1" height="1.30" fill="#80ff77"/><rect x="958.9" y="281.00" width="17.1" height="1.30" fill="#7dff7a"/><rect x="958.9" y="282.00" width="17.1" height="1.30" fill="#7dff7a"/><rect x="958.9" y="283.00" width="17.1" height="1.30" fill="#7aff7d"/><rect x="958.9" y="284.00" width="17.1" height="1.30" fill="#77ff80"/><rect x="958.9" y="285.00" width="17.1" height="1.30" fill="#73ff83"/><rect x="958.9" y="286.00" width="17.1" height="1.30" fill="#73ff83"/><rect x="958.9" y="287.00" width="17.1" height="1.30" fill="#70ff87"/><rect x="958.9" y="288.00" width="17.1" height="1.30" fill="#6dff8a"/><rect x="958.9" y="289.00" width="17.1" height="1.30" fill="#6aff8d"/><rect x="958.9" y="290.00" width="17.1" height="1.30" fill="#6aff8d"/><rect x="958.9" y="291.00" width="17.1" height="1.30" fill="#66ff90"/><rect x="958.9" y="292.00" width="17.1" height="1.30" fill="#63ff94"/><rect x="958.9" y="293.00" width="17.1" height="1.30" fill="#60ff97"/><rect x="958.9" y="294.00" width="17.1" height="1.30" fill="#60ff97"/><rect x="958.9" y="295.00" width="17.1" height="1.30" fill="#5dff9a"/><rect x="958.9" y="296.00" width="17.1" height="1.30" fill="#5aff9d"/><rect x="958.9" y="297.00" width="17.1" height="1.30" fill="#56ffa0"/><rect x="958.9" y="298.00" width="17.1" height="1.30" fill="#56ffa0"/><rect x="958.9" y="299.00" width="17.1" height="1.30" fill="#53ffa4"/><rect x="958.9" y="300.00" width="17.1" height="1.30" fill="#50ffa7"/><rect x="958.9" y="301.00" width="17.1" height="1.30" fill="#4dffaa"/><rect x="958.9" y="302.00" width="17.1" height="1.30" fill="#4dffaa"/><rect x="958.9" y="303.00" width="17.1" height="1.30" fill="#49ffad"/><rect x="958.9" y="304.00" width="17.1" height="1.30" fill="#46ffb1"/><rect x="958.9" y="305.00" width="17.1" height="1.30" fill="#43ffb4"/><rect x="958.9" y="306.00" width="17.1" height="1.30" fill="#43ffb4"/><rect x="958.9" y="307.00" width="17.1" height="1.30" fill="#40ffb7"/><rect x="958.9" y="308.00" width="17.1" height="1.30" fill="#3cffba"/><rect x="958.9" y="309.00" width="17.1" height="1.30" fill="#39ffbe"/><rect x="958.9" y="310.00" width="17.1" height="1.30" fill="#39ffbe"/><rect x="958.9" y="311.00" width="17.1" height="1.30" fill="#36ffc1"/><rect x="958.9" y="312.00" width="17.1" height="1.30" fill="#33ffc4"/><rect x="958.9" y="313.00" width="17.1" height="1.30" fill="#30ffc7"/><rect x="958.9" y="314.00" width="17.1" height="1.30" fill="#30ffc7"/><rect x="958.9" y="315.00" width="17.1" height="1.30" fill="#2cffca"/><rect x="958.9" y="316.00" width="17.1" height="1.30" fill="#29ffce"/><rect x="958.9" y="317.00" width="17.1" height="1.30" fill="#29ffce"/><rect x="958.9" y="318.00" width="17.1" height="1.30" fill="#26ffd1"/><rect x="958.9" y="319.00" width="17.1" height="1.30" fill="#23ffd4"/><rect x="958.9" y="320.00" width="17.1" height="1.30" fill="#1fffd7"/><rect x="958.9" y="321.00" width="17.1" height="1.30" fill="#1fffd7"/><rect x="958.9" y="322.00" width="17.1" height="1.30" fill="#1cffdb"/><rect x="958.9" y="323.00" width="17.1" height="1.30" fill="#19ffde"/><rect x="958.9" y="324.00" width="17.1" height="1.30" fill="#16ffe1"/><rect x="958.9" y="325.00" width="17.1" height="1.30" fill="#16ffe1"/><rect x="958.9" y="326.00" width="17.1" height="1.30" fill="#13fce4"/><rect x="958.9" y="327.00" width="17.1" height="1.30" fill="#0ff8e7"/><rect x="958.9" y="328.00" width="17.1" height="1.30" fill="#0cf4eb"/><rect x="958.9" y="329.00" width="17.1" height="1.30" fill="#0cf4eb"/><rect x="958.9" y="330.00" width="17.1" height="1.30" fill="#09f0ee"/><rect x="958.9" y="331.00" width="17.1" height="1.30" fill="#06ecf1"/><rect x="958.9" y="332.00" width="17.1" height="1.30" fill="#02e8f4"/><rect x="958.9" y="333.00" width="17.1" height="1.30" fill="#02e8f4"/><rect x="958.9" y="334.00" width="17.1" height="1.30" fill="#00e4f8"/><rect x="958.9" y="335.00" width="17.1" height="1.30" fill="#00e0fb"/><rect x="958.9" y="336.00" width="17.1" height="1.30" fill="#00dcfe"/><rect x="958.9" y="337.00" width="17.1" height="1.30" fill="#00dcfe"/><rect x="958.9" y="338.00" width="17.1" height="1.30" fill="#00d8ff"/><rect x="958.9" y="339.00" width="17.1" height="1.30" fill="#00d4ff"/><rect x="958.9" y="340.00" width="17.1" height="1.30" fill="#00d0ff"/><rect x="958.9" y="341.00" width="17.1" height="1.30" fill="#00d0ff"/><rect x="958.9" y="342.00" width="17.1" height="1.30" fill="#00ccff"/><rect x="958.9" y="343.00" width="17.1" height="1.30" fill="#00c8ff"/><rect x="958.9" y="344.00" width="17.1" height="1.30" fill="#00c4ff"/><rect x="958.9" y="345.00" width="17.1" height="1.30" fill="#00c4ff"/><rect x="958.9" y="346.00" width="17.1" height="1.30" fill="#00c0ff"/><rect x="958.9" y="347.00" width="17.1" height="1.30" fill="#00bcff"/><rect x="958.9" y="348.00" width="17.1" height="1.30" fill="#00bcff"/><rect x="958.9" y="349.00" width="17.1" height="1.30" fill="#00b8ff"/><rect x="958.9" y="350.00" width="17.1" height="1.30" fill="#00b4ff"/><rect x="958.9" y="351.00" width="17.1" height="1.30" fill="#00b0ff"/><rect x="958.9" y="352.00" width="17.1" height="1.30" fill="#00b0ff"/><rect x="958.9" y="353.00" width="17.1" height="1.30" fill="#00acff"/><rect x="958.9" y="354.00" width="17.1" height="1.30" fill="#00a8ff"/><rect x="958.9" y="355.00" width="17.1" height="1.30" fill="#00a4ff"/><rect x="958.9" y="356.00" width="17.1" height="1.30" fill="#00a4ff"/><rect x="958.9" y="357.00" width="17.1" height="1.30" fill="#00a0ff"/><rect x="958.9" y="358.00" width="17.1" height="1.30" fill="#009cff"/><rect x="958.9" y="359.00" width="17.1" height="1.30" fill="#0098ff"/><rect x="958.9" y="360.00" width="17.1" height="1.30" fill="#0098ff"/><rect x="958.9" y="361.00" width="17.1" height="1.30" fill="#0094ff"/><rect x="958.9" y="362.00" width="17.1" height="1.30" fill="#0090ff"/><rect x="958.9" y="363.00" width="17.1" height="1.30" fill="#008cff"/><rect x="958.9" y="364.00" width="17.1" height="1.30" fill="#008cff"/><rect x="958.9" y="365.00" width="17.1" height="1.30" fill="#0088ff"/><rect x="958.9" y="366.00" width="17.1" height="1.30" fill="#0084ff"/><rect x="958.9" y="367.00" width="17.1" height="1.30" fill="#0080ff"/><rect x="958.9" y="368.00" width="17.1" height="1.30" fill="#0080ff"/><rect x="958.9" y="369.00" width="17.1" height="1.30" fill="#007cff"/><rect x="958.9" y="370.00" width="17.1" height="1.30" fill="#0078ff"/><rect x="958.9" y="371.00" width="17.1" height="1.30" fill="#0074ff"/><rect x="958.9" y="372.00" width="17.1" height="1.30" fill="#0074ff"/><rect x="958.9" y="373.00" width="17.1" height="1.30" fill="#0070ff"/><rect x="958.9" y="374.00" width="17.1" height="1.30" fill="#006cff"/><rect x="958.9" y="375.00" width="17.1" height="1.30" fill="#0068ff"/><rect x="958.9" y="376.00" width="17.1" height="1.30" fill="#0068ff"/><rect x="958.9" y="377.00" width="17.1" height="1.30" fill="#0064ff"/><rect x="958.9" y="378.00" width="17.1" height="1.30" fill="#0060ff"/><rect x="958.9" y="379.00" width="17.1" height="1.30" fill="#0060ff"/><rect x="958.9" y="380.00" width="17.1" height="1.30" fill="#005cff"/><rect x="958.9" y="381.00" width="17.1" height="1.30" fill="#0058ff"/><rect x="958.9" y="382.00" width="17.1" height="1.30" fill="#0054ff"/><rect x="958.9" y="383.00" width="17.1" height="1.30" fill="#0054ff"/><rect x="958.9" y="384.00" width="17.1" height="1.30" fill="#0050ff"/><rect x="958.9" y="385.00" width="17.1" height="1.30" fill="#004cff"/><rect x="958.9" y="386.00" width="17.1" height="1.30" fill="#0048ff"/><rect x="958.9" y="387.00" width="17.1" height="1.30" fill="#0048ff"/><rect x="958.9" y="388.00" width="17.1" height="1.30" fill="#0044ff"/><rect x="958.9" y="389.00" width="17.1" height="1.30" fill="#0040ff"/><rect x="958.9" y="390.00" width="17.1" height="1.30" fill="#003cff"/><rect x="958.9" y="391.00" width="17.1" height="1.30" fill="#003cff"/><rect x="958.9" y="392.00" width="17.1" height="1.30" fill="#0038ff"/><rect x="958.9" y="393.00" width="17.1" height="1.30" fill="#0034ff"/><rect x="958.9" y="394.00" width="17.1" height="1.30" fill="#0030ff"/><rect x="958.9" y="395.00" width="17.1" height="1.30" fill="#0030ff"/><rect x="958.9" y="396.00" width="17.1" height="1.30" fill="#002cff"/><rect x="958.9" y="397.00" width="17.1" height="1.30" fill="#0028ff"/><rect x="958.9" y="398.00" width="17.1" height="1.30" fill="#0024ff"/><rect x="958.9" y="399.00" width="17.1" height="1.30" fill="#0024ff"/><rect x="958.9" y="400.00" width="17.1" height="1.30" fill="#0020ff"/><rect x="958.9" y="401.00" width="17.1" height="1.30" fill="#001cff"/><rect x="958.9" y="402.00" width="17.1" height="1.30" fill="#0018ff"/><rect x="958.9" y="403.00" width="17.1" height="1.30" fill="#0018ff"/><rect x="958.9" y="404.00" width="17.1" height="1.30" fill="#0014ff"/><rect x="958.9" y="405.00" width="17.1" height="1.30" fill="#0010ff"/><rect x="958.9" y="406.00" width="17.1" height="1.30" fill="#000cff"/><rect x="958.9" y="407.00" width="17.1" height="1.30" fill="#000cff"/><rect x="958.9" y="408.00" width="17.1" height="1.30" fill="#0008ff"/><rect x="958.9" y="409.00" width="17.1" height="1.30" fill="#0004ff"/><rect x="958.9" y="410.00" width="17.1" height="1.30" fill="#0004ff"/><rect x="958.9" y="411.00" width="17.1" height="1.30" fill="#0000ff"/><rect x="958.9" y="412.00" width="17.1" height="1.30" fill="#0000ff"/><rect x="958.9" y="413.00" width="17.1" height="1.30" fill="#0000ff"/><rect x="958.9" y="414.00" width="17.1" height="1.30" fill="#0000ff"/><rect x="958.9" y="415.00" width="17.1" height="1.30" fill="#0000ff"/><rect x="958.9" y="416.00" width="17.1" height="1.30" fill="#0000ff"/><rect x="958.9" y="417.00" width="17.1" height="1.30" fill="#0000fa"/><rect x="958.9" y="418.00" width="17.1" height="1.30" fill="#0000fa"/><rect x="958.9" y="419.00" width="17.1" height="1.30" fill="#0000f6"/><rect x="958.9" y="420.00" width="17.1" height="1.30" fill="#0000f1"/><rect x="958.9" y="421.00" width="17.1" height="1.30" fill="#0000ed"/><rect x="958.9" y="422.00" width="17.1" height="1.30" fill="#0000ed"/><rect x="958.9" y="423.00" width="17.1" height="1.30" fill="#0000e8"/><rect x="958.9" y="424.00" width="17.1" height="1.30" fill="#0000e3"/><rect x="958.9" y="425.00" width="17.1" height="1.30" fill="#0000df"/><rect x="958.9" y="426.00" width="17.1" height="1.30" fill="#0000df"/><rect x="958.9" y="427.00" width="17.1" height="1.30" fill="#0000da"/><rect x="958.9" y="428.00" width="17.1" height="1.30" fill="#0000d6"/><rect x="958.9" y="429.00" width="17.1" height="1.30" fill="#0000d1"/><rect x="958.9" y="430.00" width="17.1" height="1.30" fill="#0000d1"/><rect x="958.9" y="431.00" width="17.1" height="1.30" fill="#0000cd"/><rect x="958.9" y="432.00" width="17.1" height="1.30" fill="#0000c8"/><rect x="958.9" y="433.00" width="17.1" height="1.30" fill="#0000c4"/><rect x="958.9" y="434.00" width="17.1" height="1.30" fill="#0000c4"/><rect x="958.9" y="435.00" width="17.1" height="1.30" fill="#0000bf"/><rect x="958.9" y="436.00" width="17.1" height="1.30" fill="#0000bb"/><rect x="958.9" y="437.00" width="17.1" height="1.30" fill="#0000b6"/><rect x="958.9" y="438.00" width="17.1" height="1.30" fill="#0000b6"/><rect x="958.9" y="439.00" width="17.1" height="1.30" fill="#0000b2"/><rect x="958.9" y="440.00" width="17.1" height="1.30" fill="#0000ad"/><rect x="958.9" y="441.00" width="17.1" height="1.30" fill="#0000ad"/><rect x="958.9" y="442.00" width="17.1" height="1.30" fill="#0000a8"/><rect x="958.9" y="443.00" width="17.1" height="1.30" fill="#0000a4"/><rect x="958.9" y="444.00" width="17.1" height="1.30" fill="#00009f"/><rect x="958.9" y="445.00" width="17.1" height="1.30" fill="#00009f"/><rect x="958.9" y="446.00" width="17.1" height="1.30" fill="#00009b"/><rect x="958.9" y="447.00" width="17.1" height="1.30" fill="#000096"/><rect x="958.9" y="448.00" width="17.1" height="1.30" fill="#000092"/><rect x="958.9" y="449.00" width="17.1" height="1.30" fill="#000092"/><rect x="958.9" y="450.00" width="17.1" height="1.30" fill="#00008d"/><rect x="958.9" y="451.00" width="17.1" height="1.30" fill="#000089"/><rect x="958.9" y="452.00" width="17.1" height="1.30" fill="#000084"/><rect x="958.9" y="453.00" width="17.1" height="1.30" fill="#000084"/><rect x="958.9" y="454.00" width="17.1" height="1.00" fill="#000080"/></g> <g id="matplotlib.axis_3"/> <g id="matplotlib.axis_4"> <g id="ytick_8"> <g id="line2d_40"> <g> <use href="#m0e9212ec3c" x="732" y="341.25" style="stroke: #000000; stroke-width: 0.75"/> </g> </g> <g id="text_23" transform="translate(0 0.75)"> <!-- $\mathdefault{10^{0}}$ --> <g transform="translate(740 346.56)"> <text> <tspan x="0" y="-0.36" style="font-size: 14px; font-family: 'DejaVu Sans', sans-serif">1</tspan> <tspan x="8.90" y="-0.36" style="font-size: 14px; font-family: 'DejaVu Sans', sans-serif">0</tspan> <tspan x="17.94" y="-5.72" style="font-size: 9.8px; font-family: 'DejaVu Sans', sans-serif">0</tspan> </text> </g> </g> </g> <g id="ytick_9"> <g id="line2d_41"> <g> <use href="#m0e9212ec3c" x="732" y="298.12" style="stroke: #000000; stroke-width: 0.75"/> </g> </g> <g id="text_24" transform="translate(0 0.75)"> <!-- $\mathdefault{10^{1}}$ --> <g transform="translate(740 303.44)"> <text> <tspan x="0" y="-0.49" style="font-size: 14px; font-family: 'DejaVu Sans', sans-serif">1</tspan> <tspan x="8.90" y="-0.49" style="font-size: 14px; font-family: 'DejaVu Sans', sans-serif">0</tspan> <tspan x="17.94" y="-5.85" style="font-size: 9.8px; font-family: 'DejaVu Sans', sans-serif">1</tspan> </text> </g> </g> </g> <g id="ytick_10"> <g id="line2d_42"> <g> <use href="#m0e9212ec3c" x="732" y="255" style="stroke: #000000; stroke-width: 0.75"/> </g> </g> <g id="text_25" transform="translate(0 0.75)"> <!-- $\mathdefault{10^{2}}$ --> <g transform="translate(740 260.31)"> <text> <tspan x="0" y="-0.36" style="font-size: 14px; font-family: 'DejaVu Sans', sans-serif">1</tspan> <tspan x="8.90" y="-0.36" style="font-size: 14px; font-family: 'DejaVu Sans', sans-serif">0</tspan> <tspan x="17.94" y="-5.72" style="font-size: 9.8px; font-family: 'DejaVu Sans', sans-serif">2</tspan> </text> </g> </g> </g> <g id="ytick_11"> <g id="line2d_43"> <g> <use href="#m0e9212ec3c" x="732" y="211.87" style="stroke: #000000; stroke-width: 0.75"/> </g> </g> <g id="text_26" transform="translate(0 0.75)"> <!-- $\mathdefault{10^{3}}$ --> <g transform="translate(740 217.19)"> <text> <tspan x="0" y="-0.36" style="font-size: 14px; font-family: 'DejaVu Sans', sans-serif">1</tspan> <tspan x="8.90" y="-0.36" style="font-size: 14px; font-family: 'DejaVu Sans', sans-serif">0</tspan> <tspan x="17.94" y="-5.72" style="font-size: 9.8px; font-family: 'DejaVu Sans', sans-serif">3</tspan> </text> </g> </g> </g> <g id="ytick_12"> <g id="line2d_44"> <g> <use href="#m0e9212ec3c" x="732" y="168.75" style="stroke: #000000; stroke-width: 0.75"/> </g> </g> <g id="text_27" transform="translate(0 0.75)"> <!-- $\mathdefault{10^{4}}$ --> <g transform="translate(740 174.06)"> <text> <tspan x="0" y="-0.49" style="font-size: 14px; font-family: 'DejaVu Sans', sans-serif">1</tspan> <tspan x="8.90" y="-0.49" style="font-size: 14px; font-family: 'DejaVu Sans', sans-serif">0</tspan> <tspan x="17.94" y="-5.85" style="font-size: 9.8px; font-family: 'DejaVu Sans', sans-serif">4</tspan> </text> </g> </g> </g> <g id="ytick_13"> <g id="line2d_45"> <g> <use href="#m0e9212ec3c" x="732" y="125.62" style="stroke: #000000; stroke-width: 0.75"/> </g> </g> <g id="text_28" transform="translate(0 0.75)"> <!-- $\mathdefault{10^{5}}$ --> <g transform="translate(740 130.94)"> <text> <tspan x="0" y="-0.49" style="font-size: 14px; font-family: 'DejaVu Sans', sans-serif">1</tspan> <tspan x="8.90" y="-0.49" style="font-size: 14px; font-family: 'DejaVu Sans', sans-serif">0</tspan> <tspan x="17.94" y="-5.85" style="font-size: 9.8px; font-family: 'DejaVu Sans', sans-serif">5</tspan> </text> </g> </g> </g> <g id="ytick_14"> <g id="line2d_46"> <g> <use href="#m0e9212ec3c" x="732" y="82.5" style="stroke: #000000; stroke-width: 0.75"/> </g> </g> <g id="text_29" transform="translate(0 0.75)"> <!-- $\mathdefault{10^{6}}$ --> <g transform="translate(740 87.81)"> <text> <tspan x="0" y="-0.36" style="font-size: 14px; font-family: 'DejaVu Sans', sans-serif">1</tspan> <tspan x="8.90" y="-0.36" style="font-size: 14px; font-family: 'DejaVu Sans', sans-serif">0</tspan> <tspan x="17.94" y="-5.72" style="font-size: 9.8px; font-family: 'DejaVu Sans', sans-serif">6</tspan> </text> </g> </g> </g> <g id="ytick_15"> <g id="line2d_47"> <g> <use href="#m0e9212ec3c" x="732" y="328.26" style="stroke: #000000; stroke-width: 0.75"/> </g> </g> </g> <g id="ytick_16"> <g id="line2d_48"> <g> <use href="#m0e9212ec3c" x="732" y="320.67" style="stroke: #000000; stroke-width: 0.75"/> </g> </g> </g> <g id="ytick_17"> <g id="line2d_49"> <g> <use href="#m0e9212ec3c" x="732" y="315.28" style="stroke: #000000; stroke-width: 0.75"/> </g> </g> </g> <g id="ytick_18"> <g id="line2d_50"> <g> <use href="#m0e9212ec3c" x="732" y="311.10" style="stroke: #000000; stroke-width: 0.75"/> </g> </g> </g> <g id="ytick_19"> <g id="line2d_51"> <g> <use href="#m0e9212ec3c" x="732" y="307.69" style="stroke: #000000; stroke-width: 0.75"/> </g> </g> </g> <g id="ytick_20"> <g id="line2d_52"> <g> <use href="#m0e9212ec3c" x="732" y="304.80" style="stroke: #000000; stroke-width: 0.75"/> </g> </g> </g> <g id="ytick_21"> <g id="line2d_53"> <g> <use href="#m0e9212ec3c" x="732" y="302.30" style="stroke: #000000; stroke-width: 0.75"/> </g> </g> </g> <g id="ytick_22"> <g id="line2d_54"> <g> <use href="#m0e9212ec3c" x="732" y="300.09" style="stroke: #000000; stroke-width: 0.75"/> </g> </g> </g> <g id="ytick_23"> <g id="line2d_55"> <g> <use href="#m0e9212ec3c" x="732" y="285.14" style="stroke: #000000; stroke-width: 0.75"/> </g> </g> </g> <g id="ytick_24"> <g id="line2d_56"> <g> <use href="#m0e9212ec3c" x="732" y="277.54" style="stroke: #000000; stroke-width: 0.75"/> </g> </g> </g> <g id="ytick_25"> <g id="line2d_57"> <g> <use href="#m0e9212ec3c" x="732" y="272.16" style="stroke: #000000; stroke-width: 0.75"/> </g> </g> </g> <g id="ytick_26"> <g id="line2d_58"> <g> <use href="#m0e9212ec3c" x="732" y="267.98" style="stroke: #000000; stroke-width: 0.75"/> </g> </g> </g> <g id="ytick_27"> <g id="line2d_59"> <g> <use href="#m0e9212ec3c" x="732" y="264.56" style="stroke: #000000; stroke-width: 0.75"/> </g> </g> </g> <g id="ytick_28"> <g id="line2d_60"> <g> <use href="#m0e9212ec3c" x="732" y="261.68" style="stroke: #000000; stroke-width: 0.75"/> </g> </g> </g> <g id="ytick_29"> <g id="line2d_61"> <g> <use href="#m0e9212ec3c" x="732" y="259.17" style="stroke: #000000; stroke-width: 0.75"/> </g> </g> </g> <g id="ytick_30"> <g id="line2d_62"> <g> <use href="#m0e9212ec3c" x="732" y="256.97" style="stroke: #000000; stroke-width: 0.75"/> </g> </g> </g> <g id="ytick_31"> <g id="line2d_63"> <g> <use href="#m0e9212ec3c" x="732" y="242.01" style="stroke: #000000; stroke-width: 0.75"/> </g> </g> </g> <g id="ytick_32"> <g id="line2d_64"> <g> <use href="#m0e9212ec3c" x="732" y="234.42" style="stroke: #000000; stroke-width: 0.75"/> </g> </g> </g> <g id="ytick_33"> <g id="line2d_65"> <g> <use href="#m0e9212ec3c" x="732" y="229.03" style="stroke: #000000; stroke-width: 0.75"/> </g> </g> </g> <g id="ytick_34"> <g id="line2d_66"> <g> <use href="#m0e9212ec3c" x="732" y="224.85" style="stroke: #000000; stroke-width: 0.75"/> </g> </g> </g> <g id="ytick_35"> <g id="line2d_67"> <g> <use href="#m0e9212ec3c" x="732" y="221.44" style="stroke: #000000; stroke-width: 0.75"/> </g> </g> </g> <g id="ytick_36"> <g id="line2d_68"> <g> <use href="#m0e9212ec3c" x="732" y="218.55" style="stroke: #000000; stroke-width: 0.75"/> </g> </g> </g> <g id="ytick_37"> <g id="line2d_69"> <g> <use href="#m0e9212ec3c" x="732" y="216.05" style="stroke: #000000; stroke-width: 0.75"/> </g> </g> </g> <g id="ytick_38"> <g id="line2d_70"> <g> <use href="#m0e9212ec3c" x="732" y="213.84" style="stroke: #000000; stroke-width: 0.75"/> </g> </g> </g> <g id="ytick_39"> <g id="line2d_71"> <g> <use href="#m0e9212ec3c" x="732" y="198.89" style="stroke: #000000; stroke-width: 0.75"/> </g> </g> </g> <g id="ytick_40"> <g id="line2d_72"> <g> <use href="#m0e9212ec3c" x="732" y="191.29" style="stroke: #000000; stroke-width: 0.75"/> </g> </g> </g> <g id="ytick_41"> <g id="line2d_73"> <g> <use href="#m0e9212ec3c" x="732" y="185.91" style="stroke: #000000; stroke-width: 0.75"/> </g> </g> </g> <g id="ytick_42"> <g id="line2d_74"> <g> <use href="#m0e9212ec3c" x="732" y="181.73" style="stroke: #000000; stroke-width: 0.75"/> </g> </g> </g> <g id="ytick_43"> <g id="line2d_75"> <g> <use href="#m0e9212ec3c" x="732" y="178.31" style="stroke: #000000; stroke-width: 0.75"/> </g> </g> </g> <g id="ytick_44"> <g id="line2d_76"> <g> <use href="#m0e9212ec3c" x="732" y="175.43" style="stroke: #000000; stroke-width: 0.75"/> </g> </g> </g> <g id="ytick_45"> <g id="line2d_77"> <g> <use href="#m0e9212ec3c" x="732" y="172.92" style="stroke: #000000; stroke-width: 0.75"/> </g> </g> </g> <g id="ytick_46"> <g id="line2d_78"> <g> <use href="#m0e9212ec3c" x="732" y="170.72" style="stroke: #000000; stroke-width: 0.75"/> </g> </g> </g> <g id="ytick_47"> <g id="line2d_79"> <g> <use href="#m0e9212ec3c" x="732" y="155.76" style="stroke: #000000; stroke-width: 0.75"/> </g> </g> </g> <g id="ytick_48"> <g id="line2d_80"> <g> <use href="#m0e9212ec3c" x="732" y="148.17" style="stroke: #000000; stroke-width: 0.75"/> </g> </g> </g> <g id="ytick_49"> <g id="line2d_81"> <g> <use href="#m0e9212ec3c" x="732" y="142.78" style="stroke: #000000; stroke-width: 0.75"/> </g> </g> </g> <g id="ytick_50"> <g id="line2d_82"> <g> <use href="#m0e9212ec3c" x="732" y="138.60" style="stroke: #000000; stroke-width: 0.75"/> </g> </g> </g> <g id="ytick_51"> <g id="line2d_83"> <g> <use href="#m0e9212ec3c" x="732" y="135.19" style="stroke: #000000; stroke-width: 0.75"/> </g> </g> </g> <g id="ytick_52"> <g id="line2d_84"> <g> <use href="#m0e9212ec3c" x="732" y="132.30" style="stroke: #000000; stroke-width: 0.75"/> </g> </g> </g> <g id="ytick_53"> <g id="line2d_85"> <g> <use href="#m0e9212ec3c" x="732" y="129.80" style="stroke: #000000; stroke-width: 0.75"/> </g> </g> </g> <g id="ytick_54"> <g id="line2d_86"> <g> <use href="#m0e9212ec3c" x="732" y="127.59" style="stroke: #000000; stroke-width: 0.75"/> </g> </g> </g> <g id="ytick_55"> <g id="line2d_87"> <g> <use href="#m0e9212ec3c" x="732" y="112.64" style="stroke: #000000; stroke-width: 0.75"/> </g> </g> </g> <g id="ytick_56"> <g id="line2d_88"> <g> <use href="#m0e9212ec3c" x="732" y="105.04" style="stroke: #000000; stroke-width: 0.75"/> </g> </g> </g> <g id="ytick_57"> <g id="line2d_89"> <g> <use href="#m0e9212ec3c" x="732" y="99.66" style="stroke: #000000; stroke-width: 0.75"/> </g> </g> </g> <g id="ytick_58"> <g id="line2d_90"> <g> <use href="#m0e9212ec3c" x="732" y="95.48" style="stroke: #000000; stroke-width: 0.75"/> </g> </g> </g> <g id="ytick_59"> <g id="line2d_91"> <g> <use href="#m0e9212ec3c" x="732" y="92.06" style="stroke: #000000; stroke-width: 0.75"/> </g> </g> </g> <g id="ytick_60"> <g id="line2d_92"> <g> <use href="#m0e9212ec3c" x="732" y="89.18" style="stroke: #000000; stroke-width: 0.75"/> </g> </g> </g> <g id="ytick_61"> <g id="line2d_93"> <g> <use href="#m0e9212ec3c" x="732" y="86.67" style="stroke: #000000; stroke-width: 0.75"/> </g> </g> </g> <g id="ytick_62"> <g id="line2d_94"> <g> <use href="#m0e9212ec3c" x="732" y="84.47" style="stroke: #000000; stroke-width: 0.75"/> </g> </g> </g> </g> <g id="patch_8"> <path d="M 719.17 341.25 L 719.17 82.5 " style="fill: none; stroke: #000000; stroke-width: 1.5; stroke-linejoin: miter; stroke-linecap: square"/> </g> <g id="patch_9"> <path d="M 732 341.25 L 732 82.5 " style="fill: none; stroke: #000000; stroke-width: 1.5; stroke-linejoin: miter; stroke-linecap: square"/> </g> <g id="patch_10"> <path d="M 719.17 341.25 L 732 341.25 " style="fill: none; stroke: #000000; stroke-width: 1.5; stroke-linejoin: miter; stroke-linecap: square"/> </g> <g id="patch_11"> <path d="M 719.17 82.5 L 732 82.5 " style="fill: none; stroke: #000000; stroke-width: 1.5; stroke-linejoin: miter; stroke-linecap: square"/> </g> </g> <g id="axes_3"> <g id="patch_12"> <path d="M 150 616.5 L 685.42 616.5 L 685.42 358.5 L 150 358.5 z " style="fill: #ffffff"/> </g> <g id="patch_13"> <path d="M 618.67 616.5 L 685.42 616.5 L 685.42 358.5 L 618.67 358.5 z " clip-path="url(#pea22a4a1ae)" style="fill: #d3d3d3"/> </g> <g id="text_30"> <text style="font-size: 47.5px; font-family: 'DejaVu Sans', sans-serif; text-anchor: middle; opacity: 0.1" x="666.15" y="493.27" transform="rotate(-90 666.15 493.27)">Forecast</text> </g> <g id="matplotlib.axis_5"> <g id="xtick_9"> <g id="line2d_95"> <g> <use href="#m734474134b" x="186.28" y="616.5" style="stroke: #000000; stroke-width: 0.75"/> </g> </g> </g> <g id="xtick_10"> <g id="line2d_96"> <g> <use href="#m734474134b" x="253.24" y="616.5" style="stroke: #000000; stroke-width: 0.75"/> </g> </g> </g> <g id="xtick_11"> <g id="line2d_97"> <g> <use href="#m734474134b" x="320.19" y="616.5" style="stroke: #000000; stroke-width: 0.75"/> </g> </g> </g> <g id="xtick_12"> <g id="line2d_98"> <g> <use href="#m734474134b" x="387.14" y="616.5" style="stroke: #000000; stroke-width: 0.75"/> </g> </g> </g> <g id="xtick_13"> <g id="line2d_99"> <g> <use href="#m734474134b" x="454.10" y="616.5" style="stroke: #000000; stroke-width: 0.75"/> </g> </g> </g> <g id="xtick_14"> <g id="line2d_100"> <g> <use href="#m734474134b" x="521.05" y="616.5" style="stroke: #000000; stroke-width: 0.75"/> </g> </g> </g> <g id="xtick_15"> <g id="line2d_101"> <g> <use href="#m734474134b" x="588.00" y="616.5" style="stroke: #000000; stroke-width: 0.75"/> </g> </g> </g> <g id="xtick_16"> <g id="line2d_102"> <g> <use href="#m734474134b" x="654.96" y="616.5" style="stroke: #000000; stroke-width: 0.75"/> </g> </g> </g> </g> <g id="matplotlib.axis_6"> <g id="ytick_63"> <g id="line2d_103"> <g> <use href="#m0e9212ec3c" x="150" y="616.5" style="stroke: #000000; stroke-width: 0.75"/> </g> </g> <g id="line2d_104"> <g> <use href="#md311e385f9" x="685.42" y="616.5" style="stroke: #000000; stroke-width: 0.75"/> </g> </g> <g id="text_31" transform="translate(0 0.75)"> <!-- $\mathdefault{10^{0}}$ --> <g transform="translate(121.36 621.81)"> <text> <tspan x="0" y="-0.36" style="font-size: 14px; font-family: 'DejaVu Sans', sans-serif">1</tspan> <tspan x="8.90" y="-0.36" style="font-size: 14px; font-family: 'DejaVu Sans', sans-serif">0</tspan> <tspan x="17.94" y="-5.72" style="font-size: 9.8px; font-family: 'DejaVu Sans', sans-serif">0</tspan> </text> </g> </g> </g> <g id="ytick_64"> <g id="line2d_105"> <g> <use href="#m0e9212ec3c" x="150" y="573.5" style="stroke: #000000; stroke-width: 0.75"/> </g> </g> <g id="line2d_106"> <g> <use href="#md311e385f9" x="685.42" y="573.5" style="stroke: #000000; stroke-width: 0.75"/> </g> </g> <g id="text_32" transform="translate(0 0.75)"> <!-- $\mathdefault{10^{1}}$ --> <g transform="translate(121.36 578.81)"> <text> <tspan x="0" y="-0.49" style="font-size: 14px; font-family: 'DejaVu Sans', sans-serif">1</tspan> <tspan x="8.90" y="-0.49" style="font-size: 14px; font-family: 'DejaVu Sans', sans-serif">0</tspan> <tspan x="17.94" y="-5.85" style="font-size: 9.8px; font-family: 'DejaVu Sans', sans-serif">1</tspan> </text> </g> </g> </g> <g id="ytick_65"> <g id="line2d_107"> <g> <use href="#m0e9212ec3c" x="150" y="530.5" style="stroke: #000000; stroke-width: 0.75"/> </g> </g> <g id="line2d_108"> <g> <use href="#md311e385f9" x="685.42" y="530.5" style="stroke: #000000; stroke-width: 0.75"/> </g> </g> <g id="text_33" transform="translate(0 0.75)"> <!-- $\mathdefault{10^{2}}$ --> <g transform="translate(121.36 535.81)"> <text> <tspan x="0" y="-0.36" style="font-size: 14px; font-family: 'DejaVu Sans', sans-serif">1</tspan> <tspan x="8.90" y="-0.36" style="font-size: 14px; font-family: 'DejaVu Sans', sans-serif">0</tspan> <tspan x="17.94" y="-5.72" style="font-size: 9.8px; font-family: 'DejaVu Sans', sans-serif">2</tspan> </text> </g> </g> </g> <g id="ytick_66"> <g id="line2d_109"> <g> <use href="#m0e9212ec3c" x="150" y="487.5" style="stroke: #000000; stroke-width: 0.75"/> </g> </g> <g id="line2d_110"> <g> <use href="#md311e385f9" x="685.42" y="487.5" style="stroke: #000000; stroke-width: 0.75"/> </g> </g> <g id="text_34" transform="translate(0 0.75)"> <!-- $\mathdefault{10^{3}}$ --> <g transform="translate(121.36 492.81)"> <text> <tspan x="0" y="-0.36" style="font-size: 14px; font-family: 'DejaVu Sans', sans-serif">1</tspan> <tspan x="8.90" y="-0.36" style="font-size: 14px; font-family: 'DejaVu Sans', sans-serif">0</tspan> <tspan x="17.94" y="-5.72" style="font-size: 9.8px; font-family: 'DejaVu Sans', sans-serif">3</tspan> </text> </g> </g> </g> <g id="ytick_67"> <g id="line2d_111"> <g> <use href="#m0e9212ec3c" x="150" y="444.5" style="stroke: #000000; stroke-width: 0.75"/> </g> </g> <g id="line2d_112"> <g> <use href="#md311e385f9" x="685.42" y="444.5" style="stroke: #000000; stroke-width: 0.75"/> </g> </g> <g id="text_35" transform="translate(0 0.75)"> <!-- $\mathdefault{10^{4}}$ --> <g transform="translate(121.36 449.81)"> <text> <tspan x="0" y="-0.49" style="font-size: 14px; font-family: 'DejaVu Sans', sans-serif">1</tspan> <tspan x="8.90" y="-0.49" style="font-size: 14px; font-family: 'DejaVu Sans', sans-serif">0</tspan> <tspan x="17.94" y="-5.85" style="font-size: 9.8px; font-family: 'DejaVu Sans', sans-serif">4</tspan> </text> </g> </g> </g> <g id="ytick_68"> <g id="line2d_113"> <g> <use href="#m0e9212ec3c" x="150" y="401.5" style="stroke: #000000; stroke-width: 0.75"/> </g> </g> <g id="line2d_114"> <g> <use href="#md311e385f9" x="685.42" y="401.5" style="stroke: #000000; stroke-width: 0.75"/> </g> </g> <g id="text_36" transform="translate(0 0.75)"> <!-- $\mathdefault{10^{5}}$ --> <g transform="translate(121.36 406.81)"> <text> <tspan x="0" y="-0.49" style="font-size: 14px; font-family: 'DejaVu Sans', sans-serif">1</tspan> <tspan x="8.90" y="-0.49" style="font-size: 14px; font-family: 'DejaVu Sans', sans-serif">0</tspan> <tspan x="17.94" y="-5.85" style="font-size: 9.8px; font-family: 'DejaVu Sans', sans-serif">5</tspan> </text> </g> </g> </g> <g id="ytick_69"> <g id="line2d_115"> <g> <use href="#m0e9212ec3c" x="150" y="358.5" style="stroke: #000000; stroke-width: 0.75"/> </g> </g> <g id="line2d_116"> <g> <use href="#md311e385f9" x="685.42" y="358.5" style="stroke: #000000; stroke-width: 0.75"/> </g> </g> <g id="text_37" transform="translate(0 0.75)"> <!-- $\mathdefault{10^{6}}$ --> <g transform="translate(121.36 363.81)"> <text> <tspan x="0" y="-0.36" style="font-size: 14px; font-family: 'DejaVu Sans', sans-serif">1</tspan> <tspan x="8.90" y="-0.36" style="font-size: 14px; font-family: 'DejaVu Sans', sans-serif">0</tspan> <tspan x="17.94" y="-5.72" style="font-size: 9.8px; font-family: 'DejaVu Sans', sans-serif">6</tspan> </text> </g> </g> </g> <g id="ytick_70"> <g id="line2d_117"> <defs> <path id="m910be86d0a" d="M 0 0 L 2.6 0 " style="stroke: #000000; stroke-width: 0.75"/> </defs> <g> <use href="#m910be86d0a" x="150" y="603.55" style="stroke: #000000; stroke-width: 0.75"/> </g> </g> <g id="line2d_118"> <defs> <path id="m352a420749" d="M 0 0 L -2.6 0 " style="stroke: #000000; stroke-width: 0.75"/> </defs> <g> <use href="#m352a420749" x="685.42" y="603.55" style="stroke: #000000; stroke-width: 0.75"/> </g> </g> </g> <g id="ytick_71"> <g id="line2d_119"> <g> <use href="#m910be86d0a" x="150" y="595.98" style="stroke: #000000; stroke-width: 0.75"/> </g> </g> <g id="line2d_120"> <g> <use href="#m352a420749" x="685.42" y="595.98" style="stroke: #000000; stroke-width: 0.75"/> </g> </g> </g> <g id="ytick_72"> <g id="line2d_121"> <g> <use href="#m910be86d0a" x="150" y="590.61" style="stroke: #000000; stroke-width: 0.75"/> </g> </g> <g id="line2d_122"> <g> <use href="#m352a420749" x="685.42" y="590.61" style="stroke: #000000; stroke-width: 0.75"/> </g> </g> </g> <g id="ytick_73"> <g id="line2d_123"> <g> <use href="#m910be86d0a" x="150" y="586.44" style="stroke: #000000; stroke-width: 0.75"/> </g> </g> <g id="line2d_124"> <g> <use href="#m352a420749" x="685.42" y="586.44" style="stroke: #000000; stroke-width: 0.75"/> </g> </g> </g> <g id="ytick_74"> <g id="line2d_125"> <g> <use href="#m910be86d0a" x="150" y="583.03" style="stroke: #000000; stroke-width: 0.75"/> </g> </g> <g id="line2d_126"> <g> <use href="#m352a420749" x="685.42" y="583.03" style="stroke: #000000; stroke-width: 0.75"/> </g> </g> </g> <g id="ytick_75"> <g id="line2d_127"> <g> <use href="#m910be86d0a" x="150" y="580.16" style="stroke: #000000; stroke-width: 0.75"/> </g> </g> <g id="line2d_128"> <g> <use href="#m352a420749" x="685.42" y="580.16" style="stroke: #000000; stroke-width: 0.75"/> </g> </g> </g> <g id="ytick_76"> <g id="line2d_129"> <g> <use href="#m910be86d0a" x="150" y="577.66" style="stroke: #000000; stroke-width: 0.75"/> </g> </g> <g id="line2d_130"> <g> <use href="#m352a420749" x="685.42" y="577.66" style="stroke: #000000; stroke-width: 0.75"/> </g> </g> </g> <g id="ytick_77"> <g id="line2d_131"> <g> <use href="#m910be86d0a" x="150" y="575.46" style="stroke: #000000; stroke-width: 0.75"/> </g> </g> <g id="line2d_132"> <g> <use href="#m352a420749" x="685.42" y="575.46" style="stroke: #000000; stroke-width: 0.75"/> </g> </g> </g> <g id="ytick_78"> <g id="line2d_133"> <g> <use href="#m910be86d0a" x="150" y="560.55" style="stroke: #000000; stroke-width: 0.75"/> </g> </g> <g id="line2d_134"> <g> <use href="#m352a420749" x="685.42" y="560.55" style="stroke: #000000; stroke-width: 0.75"/> </g> </g> </g> <g id="ytick_79"> <g id="line2d_135"> <g> <use href="#m910be86d0a" x="150" y="552.98" style="stroke: #000000; stroke-width: 0.75"/> </g> </g> <g id="line2d_136"> <g> <use href="#m352a420749" x="685.42" y="552.98" style="stroke: #000000; stroke-width: 0.75"/> </g> </g> </g> <g id="ytick_80"> <g id="line2d_137"> <g> <use href="#m910be86d0a" x="150" y="547.61" style="stroke: #000000; stroke-width: 0.75"/> </g> </g> <g id="line2d_138"> <g> <use href="#m352a420749" x="685.42" y="547.61" style="stroke: #000000; stroke-width: 0.75"/> </g> </g> </g> <g id="ytick_81"> <g id="line2d_139"> <g> <use href="#m910be86d0a" x="150" y="543.44" style="stroke: #000000; stroke-width: 0.75"/> </g> </g> <g id="line2d_140"> <g> <use href="#m352a420749" x="685.42" y="543.44" style="stroke: #000000; stroke-width: 0.75"/> </g> </g> </g> <g id="ytick_82"> <g id="line2d_141"> <g> <use href="#m910be86d0a" x="150" y="540.03" style="stroke: #000000; stroke-width: 0.75"/> </g> </g> <g id="line2d_142"> <g> <use href="#m352a420749" x="685.42" y="540.03" style="stroke: #000000; stroke-width: 0.75"/> </g> </g> </g> <g id="ytick_83"> <g id="line2d_143"> <g> <use href="#m910be86d0a" x="150" y="537.16" style="stroke: #000000; stroke-width: 0.75"/> </g> </g> <g id="line2d_144"> <g> <use href="#m352a420749" x="685.42" y="537.16" style="stroke: #000000; stroke-width: 0.75"/> </g> </g> </g> <g id="ytick_84"> <g id="line2d_145"> <g> <use href="#m910be86d0a" x="150" y="534.66" style="stroke: #000000; stroke-width: 0.75"/> </g> </g> <g id="line2d_146"> <g> <use href="#m352a420749" x="685.42" y="534.66" style="stroke: #000000; stroke-width: 0.75"/> </g> </g> </g> <g id="ytick_85"> <g id="line2d_147"> <g> <use href="#m910be86d0a" x="150" y="532.46" style="stroke: #000000; stroke-width: 0.75"/> </g> </g> <g id="line2d_148"> <g> <use href="#m352a420749" x="685.42" y="532.46" style="stroke: #000000; stroke-width: 0.75"/> </g> </g> </g> <g id="ytick_86"> <g id="line2d_149"> <g> <use href="#m910be86d0a" x="150" y="517.55" style="stroke: #000000; stroke-width: 0.75"/> </g> </g> <g id="line2d_150"> <g> <use href="#m352a420749" x="685.42" y="517.55" style="stroke: #000000; stroke-width: 0.75"/> </g> </g> </g> <g id="ytick_87"> <g id="line2d_151"> <g> <use href="#m910be86d0a" x="150" y="509.98" style="stroke: #000000; stroke-width: 0.75"/> </g> </g> <g id="line2d_152"> <g> <use href="#m352a420749" x="685.42" y="509.98" style="stroke: #000000; stroke-width: 0.75"/> </g> </g> </g> <g id="ytick_88"> <g id="line2d_153"> <g> <use href="#m910be86d0a" x="150" y="504.61" style="stroke: #000000; stroke-width: 0.75"/> </g> </g> <g id="line2d_154"> <g> <use href="#m352a420749" x="685.42" y="504.61" style="stroke: #000000; stroke-width: 0.75"/> </g> </g> </g> <g id="ytick_89"> <g id="line2d_155"> <g> <use href="#m910be86d0a" x="150" y="500.44" style="stroke: #000000; stroke-width: 0.75"/> </g> </g> <g id="line2d_156"> <g> <use href="#m352a420749" x="685.42" y="500.44" style="stroke: #000000; stroke-width: 0.75"/> </g> </g> </g> <g id="ytick_90"> <g id="line2d_157"> <g> <use href="#m910be86d0a" x="150" y="497.03" style="stroke: #000000; stroke-width: 0.75"/> </g> </g> <g id="line2d_158"> <g> <use href="#m352a420749" x="685.42" y="497.03" style="stroke: #000000; stroke-width: 0.75"/> </g> </g> </g> <g id="ytick_91"> <g id="line2d_159"> <g> <use href="#m910be86d0a" x="150" y="494.16" style="stroke: #000000; stroke-width: 0.75"/> </g> </g> <g id="line2d_160"> <g> <use href="#m352a420749" x="685.42" y="494.16" style="stroke: #000000; stroke-width: 0.75"/> </g> </g> </g> <g id="ytick_92"> <g id="line2d_161"> <g> <use href="#m910be86d0a" x="150" y="491.66" style="stroke: #000000; stroke-width: 0.75"/> </g> </g> <g id="line2d_162"> <g> <use href="#m352a420749" x="685.42" y="491.66" style="stroke: #000000; stroke-width: 0.75"/> </g> </g> </g> <g id="ytick_93"> <g id="line2d_163"> <g> <use href="#m910be86d0a" x="150" y="489.46" style="stroke: #000000; stroke-width: 0.75"/> </g> </g> <g id="line2d_164"> <g> <use href="#m352a420749" x="685.42" y="489.46" style="stroke: #000000; stroke-width: 0.75"/> </g> </g> </g> <g id="ytick_94"> <g id="line2d_165"> <g> <use href="#m910be86d0a" x="150" y="474.55" style="stroke: #000000; stroke-width: 0.75"/> </g> </g> <g id="line2d_166"> <g> <use href="#m352a420749" x="685.42" y="474.55" style="stroke: #000000; stroke-width: 0.75"/> </g> </g> </g> <g id="ytick_95"> <g id="line2d_167"> <g> <use href="#m910be86d0a" x="150" y="466.98" style="stroke: #000000; stroke-width: 0.75"/> </g> </g> <g id="line2d_168"> <g> <use href="#m352a420749" x="685.42" y="466.98" style="stroke: #000000; stroke-width: 0.75"/> </g> </g> </g> <g id="ytick_96"> <g id="line2d_169"> <g> <use href="#m910be86d0a" x="150" y="461.61" style="stroke: #000000; stroke-width: 0.75"/> </g> </g> <g id="line2d_170"> <g> <use href="#m352a420749" x="685.42" y="461.61" style="stroke: #000000; stroke-width: 0.75"/> </g> </g> </g> <g id="ytick_97"> <g id="line2d_171"> <g> <use href="#m910be86d0a" x="150" y="457.44" style="stroke: #000000; stroke-width: 0.75"/> </g> </g> <g id="line2d_172"> <g> <use href="#m352a420749" x="685.42" y="457.44" style="stroke: #000000; stroke-width: 0.75"/> </g> </g> </g> <g id="ytick_98"> <g id="line2d_173"> <g> <use href="#m910be86d0a" x="150" y="454.03" style="stroke: #000000; stroke-width: 0.75"/> </g> </g> <g id="line2d_174"> <g> <use href="#m352a420749" x="685.42" y="454.03" style="stroke: #000000; stroke-width: 0.75"/> </g> </g> </g> <g id="ytick_99"> <g id="line2d_175"> <g> <use href="#m910be86d0a" x="150" y="451.16" style="stroke: #000000; stroke-width: 0.75"/> </g> </g> <g id="line2d_176"> <g> <use href="#m352a420749" x="685.42" y="451.16" style="stroke: #000000; stroke-width: 0.75"/> </g> </g> </g> <g id="ytick_100"> <g id="line2d_177"> <g> <use href="#m910be86d0a" x="150" y="448.66" style="stroke: #000000; stroke-width: 0.75"/> </g> </g> <g id="line2d_178"> <g> <use href="#m352a420749" x="685.42" y="448.66" style="stroke: #000000; stroke-width: 0.75"/> </g> </g> </g> <g id="ytick_101"> <g id="line2d_179"> <g> <use href="#m910be86d0a" x="150" y="446.46" style="stroke: #000000; stroke-width: 0.75"/> </g> </g> <g id="line2d_180"> <g> <use href="#m352a420749" x="685.42" y="446.46" style="stroke: #000000; stroke-width: 0.75"/> </g> </g> </g> <g id="ytick_102"> <g id="line2d_181"> <g> <use href="#m910be86d0a" x="150" y="431.55" style="stroke: #000000; stroke-width: 0.75"/> </g> </g> <g id="line2d_182"> <g> <use href="#m352a420749" x="685.42" y="431.55" style="stroke: #000000; stroke-width: 0.75"/> </g> </g> </g> <g id="ytick_103"> <g id="line2d_183"> <g> <use href="#m910be86d0a" x="150" y="423.98" style="stroke: #000000; stroke-width: 0.75"/> </g> </g> <g id="line2d_184"> <g> <use href="#m352a420749" x="685.42" y="423.98" style="stroke: #000000; stroke-width: 0.75"/> </g> </g> </g> <g id="ytick_104"> <g id="line2d_185"> <g> <use href="#m910be86d0a" x="150" y="418.61" style="stroke: #000000; stroke-width: 0.75"/> </g> </g> <g id="line2d_186"> <g> <use href="#m352a420749" x="685.42" y="418.61" style="stroke: #000000; stroke-width: 0.75"/> </g> </g> </g> <g id="ytick_105"> <g id="line2d_187"> <g> <use href="#m910be86d0a" x="150" y="414.44" style="stroke: #000000; stroke-width: 0.75"/> </g> </g> <g id="line2d_188"> <g> <use href="#m352a420749" x="685.42" y="414.44" style="stroke: #000000; stroke-width: 0.75"/> </g> </g> </g> <g id="ytick_106"> <g id="line2d_189"> <g> <use href="#m910be86d0a" x="150" y="411.03" style="stroke: #000000; stroke-width: 0.75"/> </g> </g> <g id="line2d_190"> <g> <use href="#m352a420749" x="685.42" y="411.03" style="stroke: #000000; stroke-width: 0.75"/> </g> </g> </g> <g id="ytick_107"> <g id="line2d_191"> <g> <use href="#m910be86d0a" x="150" y="408.16" style="stroke: #000000; stroke-width: 0.75"/> </g> </g> <g id="line2d_192"> <g> <use href="#m352a420749" x="685.42" y="408.16" style="stroke: #000000; stroke-width: 0.75"/> </g> </g> </g> <g id="ytick_108"> <g id="line2d_193"> <g> <use href="#m910be86d0a" x="150" y="405.66" style="stroke: #000000; stroke-width: 0.75"/> </g> </g> <g id="line2d_194"> <g> <use href="#m352a420749" x="685.42" y="405.66" style="stroke: #000000; stroke-width: 0.75"/> </g> </g> </g> <g id="ytick_109"> <g id="line2d_195"> <g> <use href="#m910be86d0a" x="150" y="403.46" style="stroke: #000000; stroke-width: 0.75"/> </g> </g> <g id="line2d_196"> <g> <use href="#m352a420749" x="685.42" y="403.46" style="stroke: #000000; stroke-width: 0.75"/> </g> </g> </g> <g id="ytick_110"> <g id="line2d_197"> <g> <use href="#m910be86d0a" x="150" y="388.55" style="stroke: #000000; stroke-width: 0.75"/> </g> </g> <g id="line2d_198"> <g> <use href="#m352a420749" x="685.42" y="388.55" style="stroke: #000000; stroke-width: 0.75"/> </g> </g> </g> <g id="ytick_111"> <g id="line2d_199"> <g> <use href="#m910be86d0a" x="150" y="380.98" style="stroke: #000000; stroke-width: 0.75"/> </g> </g> <g id="line2d_200"> <g> <use href="#m352a420749" x="685.42" y="380.98" style="stroke: #000000; stroke-width: 0.75"/> </g> </g> </g> <g id="ytick_112"> <g id="line2d_201"> <g> <use href="#m910be86d0a" x="150" y="375.61" style="stroke: #000000; stroke-width: 0.75"/> </g> </g> <g id="line2d_202"> <g> <use href="#m352a420749" x="685.42" y="375.61" style="stroke: #000000; stroke-width: 0.75"/> </g> </g> </g> <g id="ytick_113"> <g id="line2d_203"> <g> <use href="#m910be86d0a" x="150" y="371.44" style="stroke: #000000; stroke-width: 0.75"/> </g> </g> <g id="line2d_204"> <g> <use href="#m352a420749" x="685.42" y="371.44" style="stroke: #000000; stroke-width: 0.75"/> </g> </g> </g> <g id="ytick_114"> <g id="line2d_205"> <g> <use href="#m910be86d0a" x="150" y="368.03" style="stroke: #000000; stroke-width: 0.75"/> </g> </g> <g id="line2d_206"> <g> <use href="#m352a420749" x="685.42" y="368.03" style="stroke: #000000; stroke-width: 0.75"/> </g> </g> </g> <g id="ytick_115"> <g id="line2d_207"> <g> <use href="#m910be86d0a" x="150" y="365.16" style="stroke: #000000; stroke-width: 0.75"/> </g> </g> <g id="line2d_208"> <g> <use href="#m352a420749" x="685.42" y="365.16" style="stroke: #000000; stroke-width: 0.75"/> </g> </g> </g> <g id="ytick_116"> <g id="line2d_209"> <g> <use href="#m910be86d0a" x="150" y="362.66" style="stroke: #000000; stroke-width: 0.75"/> </g> </g> <g id="line2d_210"> <g> <use href="#m352a420749" x="685.42" y="362.66" style="stroke: #000000; stroke-width: 0.75"/> </g> </g> </g> <g id="ytick_117"> <g id="line2d_211"> <g> <use href="#m910be86d0a" x="150" y="360.46" style="stroke: #000000; stroke-width: 0.75"/> </g> </g> <g id="line2d_212"> <g> <use href="#m352a420749" x="685.42" y="360.46" style="stroke: #000000; stroke-width: 0.75"/> </g> </g> </g> </g> <g id="patch_14"> <path d="M 150 616.5 L 150 358.5 " style="fill: none; stroke: #000000; stroke-width: 1.5; stroke-linejoin: miter; stroke-linecap: square"/> </g> <g id="patch_15"> <path d="M 685.42 616.5 L 685.42 358.5 " style="fill: none; stroke: #000000; stroke-width: 1.5; stroke-linejoin: miter; stroke-linecap: square"/> </g> <g id="patch_16"> <path d="M 150 616.5 L 685.42 616.5 " style="fill: none; stroke: #000000; stroke-width: 1.5; stroke-linejoin: miter; stroke-linecap: square"/> </g> <g id="patch_17"> <path d="M 150 358.5 L 685.42 358.5 " style="fill: none; stroke: #000000; stroke-width: 1.5; stroke-linejoin: miter; stroke-linecap: square"/> </g> <g id="line2d_213"> <path d="M 150.75 548.52 L 151.05 549.31 L 151.65 548.42 L 151.95 549.40 L 152.25 549.00 L 152.85 553.13 L 153.15 550.80 L 153.45 550.96 L 153.75 552.99 L 154.05 553.15 L 154.35 553.12 L 154.65 551.85 L 155.25 555.08 L 155.55 552.15 L 155.85 553.90 L 156.15 551.85 L 156.45 553.15 L 156.75 552.52 L 157.05 555.50 L 157.35 554.05 L 157.65 556.97 L 157.95 557.10 L 158.25 556.83 L 158.55 553.10 L 158.85 556.87 L 159.15 558.07 L 159.45 558.69 L 159.75 556.09 L 160.05 558.30 L 160.35 557.72 L 160.65 558.34 L 160.95 562.08 L 161.25 558.96 L 161.85 562.71 L 162.15 560.25 L 162.45 561.41 L 162.75 562.10 L 163.05 562.26 L 163.35 560.02 L 163.95 565.45 L 164.25 559.95 L 164.55 564.85 L 165.15 562.14 L 165.45 567.53 L 165.75 565.13 L 166.05 561.22 L 166.35 563.84 L 166.65 564.91 L 166.95 563.40 L 167.25 565.21 L 167.55 563.73 L 168.15 566.85 L 168.45 562.61 L 168.75 564.42 L 169.05 563.10 L 169.35 564.32 L 169.65 561.68 L 170.25 563.72 L 170.55 565.95 L 170.85 566.46 L 171.15 561.46 L 171.45 562.54 L 171.75 565.44 L 172.05 560.05 L 172.35 563.08 L 172.65 563.74 L 172.95 566.38 L 173.25 565.11 L 173.55 562.91 L 173.85 562.67 L 174.15 562.75 L 174.45 566.16 L 174.75 562.01 L 175.05 562.06 L 175.35 563.18 L 175.65 562.00 L 175.95 561.62 L 176.25 559.53 L 176.55 561.53 L 176.85 560.41 L 177.15 563.35 L 177.75 560.20 L 178.05 561.08 L 178.35 558.61 L 178.65 560.72 L 178.95 558.12 L 179.25 558.62 L 179.55 554.51 L 179.85 556.90 L 180.15 552.56 L 180.45 551.33 L 180.75 553.83 L 181.05 552.17 L 181.35 553.46 L 181.65 556.49 L 181.95 550.68 L 182.25 550.57 L 182.55 551.51 L 182.85 551.54 L 183.15 549.98 L 183.45 549.48 L 183.75 550.52 L 184.05 549.77 L 184.35 546.85 L 184.65 547.94 L 184.95 547.69 L 185.25 545.57 L 185.55 547.20 L 185.85 545.07 L 186.15 547.45 L 186.45 545.88 L 186.75 545.33 L 187.05 543.95 L 187.35 544.28 L 187.65 541.20 L 187.95 542.12 L 188.25 543.93 L 188.55 540.09 L 188.85 543.96 L 189.15 540.06 L 189.45 543.23 L 189.75 540.78 L 190.05 542.72 L 190.35 541.58 L 190.65 539.09 L 190.95 542.55 L 191.25 542.54 L 191.55 540.27 L 191.85 539.73 L 192.15 539.62 L 192.45 538.30 L 192.75 540.76 L 193.05 538.36 L 193.35 538.76 L 193.65 537.56 L 193.95 537.55 L 194.25 536.49 L 194.55 539.52 L 194.85 537.52 L 195.15 538.74 L 195.75 536.29 L 196.05 536.60 L 196.35 536.16 L 196.65 536.74 L 196.95 536.15 L 197.25 536.15 L 197.55 534.75 L 197.85 535.40 L 198.15 538.36 L 198.45 535.51 L 198.75 535.04 L 199.35 538.03 L 199.65 534.56 L 199.95 536.08 L 200.25 535.58 L 200.55 534.21 L 200.85 537.26 L 201.15 536.35 L 201.45 536.48 L 201.75 535.49 L 202.05 536.97 L 202.35 535.79 L 202.65 536.29 L 202.95 535.14 L 203.25 535.03 L 203.55 538.15 L 203.85 535.94 L 204.15 536.94 L 204.75 536.11 L 205.05 536.06 L 205.35 537.48 L 205.65 536.38 L 206.25 536.85 L 206.55 538.30 L 206.85 537.74 L 207.15 537.42 L 207.75 535.37 L 208.05 538.25 L 208.35 538.32 L 208.65 537.03 L 208.95 537.91 L 209.25 538.26 L 209.85 538.59 L 210.15 537.08 L 210.45 539.75 L 210.75 536.64 L 211.05 539.61 L 211.35 539.57 L 211.65 540.50 L 211.95 542.27 L 212.25 542.30 L 212.55 539.50 L 212.85 539.36 L 213.15 543.16 L 213.45 541.38 L 214.05 544.96 L 214.35 542.27 L 214.65 542.20 L 214.95 545.86 L 215.25 546.08 L 215.55 546.16 L 215.85 546.96 L 216.45 545.57 L 216.75 547.75 L 217.35 546.29 L 217.65 549.65 L 217.95 549.14 L 218.25 550.11 L 218.55 548.34 L 218.85 549.11 L 219.15 548.86 L 219.45 549.30 L 219.75 551.23 L 220.05 549.99 L 220.35 552.05 L 220.65 552.31 L 220.95 555.30 L 221.25 550.10 L 221.55 554.11 L 221.85 552.82 L 222.15 553.27 L 222.45 551.19 L 223.05 555.61 L 223.35 554.58 L 223.65 555.26 L 223.95 555.02 L 224.25 558.00 L 224.55 556.34 L 224.85 552.85 L 225.15 556.00 L 225.75 552.13 L 226.35 561.54 L 226.95 557.65 L 227.25 558.49 L 227.55 562.90 L 227.85 561.39 L 228.45 561.69 L 228.75 562.20 L 229.05 564.05 L 229.35 563.83 L 229.65 563.44 L 229.95 561.14 L 230.25 564.64 L 230.55 562.45 L 230.85 566.47 L 231.15 561.78 L 231.45 564.47 L 231.75 565.03 L 232.05 562.48 L 232.35 569.34 L 232.65 569.06 L 232.95 565.11 L 233.25 568.08 L 233.55 567.45 L 233.85 560.99 L 234.15 567.60 L 234.45 567.08 L 234.75 567.58 L 235.05 565.08 L 235.35 567.05 L 235.65 567.37 L 235.95 570.63 L 236.25 568.71 L 236.55 567.95 L 236.85 571.57 L 237.15 566.61 L 237.45 566.87 L 237.75 563.40 L 238.05 570.91 L 238.35 569.21 L 238.65 568.73 L 238.95 567.77 L 239.25 566.10 L 239.55 565.88 L 239.85 564.40 L 240.15 564.03 L 240.45 564.10 L 240.75 566.71 L 241.35 562.46 L 241.65 560.95 L 241.95 560.44 L 242.25 564.62 L 242.55 562.04 L 243.15 559.64 L 243.45 557.79 L 244.05 561.01 L 244.35 558.21 L 244.65 558.19 L 244.95 557.87 L 245.25 558.17 L 245.55 554.60 L 245.85 556.85 L 246.15 555.36 L 246.45 558.27 L 246.75 554.87 L 247.35 558.42 L 247.65 554.73 L 247.95 553.88 L 248.25 554.98 L 248.55 554.30 L 248.85 552.21 L 249.45 556.82 L 249.75 552.52 L 250.05 552.29 L 250.35 550.51 L 250.65 552.50 L 250.95 549.52 L 251.25 549.40 L 251.55 553.05 L 251.85 548.96 L 252.15 551.90 L 252.45 552.21 L 252.75 549.64 L 253.05 549.68 L 253.35 551.58 L 253.65 547.50 L 253.95 546.37 L 254.25 544.64 L 254.85 548.54 L 255.15 547.24 L 255.45 543.63 L 255.75 543.39 L 256.05 543.63 L 256.35 544.64 L 256.65 543.50 L 256.95 543.94 L 257.25 543.85 L 257.55 542.65 L 258.15 543.25 L 258.45 542.71 L 258.75 543.70 L 259.05 546.05 L 259.35 543.87 L 259.65 542.94 L 259.95 539.88 L 260.25 543.53 L 260.55 539.36 L 260.85 540.30 L 261.15 544.40 L 261.45 544.14 L 261.75 542.57 L 262.05 539.65 L 262.35 542.15 L 262.65 541.56 L 263.25 547.20 L 263.55 543.27 L 263.85 541.32 L 264.15 540.53 L 264.45 542.73 L 264.75 542.49 L 265.05 540.52 L 265.35 543.06 L 265.65 540.43 L 265.95 544.77 L 266.55 544.18 L 266.85 540.82 L 267.15 542.37 L 267.45 540.73 L 267.75 539.83 L 268.05 539.50 L 268.35 537.28 L 268.65 536.59 L 268.95 540.26 L 269.25 538.04 L 269.55 538.37 L 269.85 539.39 L 270.15 534.19 L 270.75 537.01 L 271.05 537.19 L 271.35 535.74 L 271.65 538.06 L 271.95 536.70 L 272.25 534.41 L 272.55 535.09 L 272.85 538.29 L 273.15 538.05 L 273.45 534.45 L 273.75 540.37 L 274.05 539.59 L 274.35 541.37 L 274.65 538.99 L 274.95 539.70 L 275.25 538.86 L 275.55 545.61 L 275.85 541.59 L 276.15 545.11 L 276.45 541.85 L 276.75 543.70 L 277.05 541.05 L 277.65 546.35 L 277.95 542.89 L 278.25 547.29 L 278.55 546.39 L 278.85 544.32 L 279.15 545.64 L 279.45 546.06 L 279.75 547.15 L 280.05 546.62 L 280.35 546.44 L 280.65 547.75 L 280.95 546.76 L 281.25 546.61 L 281.85 551.43 L 282.15 547.21 L 282.45 550.52 L 282.75 549.64 L 283.05 549.39 L 283.35 553.38 L 283.65 551.10 L 283.95 555.53 L 284.25 551.43 L 284.55 554.22 L 285.15 552.86 L 285.45 556.14 L 285.75 555.13 L 286.05 557.28 L 286.35 556.48 L 286.65 554.84 L 286.95 557.55 L 287.25 558.49 L 287.55 561.10 L 287.85 557.62 L 288.15 560.17 L 288.45 557.01 L 288.75 563.01 L 289.05 559.69 L 289.35 558.63 L 289.95 566.65 L 290.25 561.07 L 290.85 564.17 L 291.15 563.88 L 291.45 568.58 L 291.75 566.19 L 292.05 567.17 L 292.35 571.63 L 292.65 568.52 L 292.95 572.72 L 293.25 569.10 L 293.55 568.84 L 293.85 567.23 L 294.15 579.54 L 294.45 572.61 L 294.75 574.61 L 295.05 573.76 L 295.35 574.48 L 295.65 574.18 L 295.95 580.52 L 296.25 570.64 L 296.55 568.95 L 296.85 570.84 L 297.15 569.80 L 297.45 576.87 L 297.75 577.15 L 298.05 571.17 L 298.35 569.75 L 298.65 573.27 L 298.95 579.18 L 299.25 564.97 L 299.55 576.27 L 299.85 570.87 L 300.15 577.92 L 300.45 570.76 L 300.75 573.28 L 301.05 569.11 L 301.35 570.69 L 301.65 578.24 L 301.95 576.16 L 302.25 571.95 L 302.55 570.20 L 302.85 566.67 L 303.15 571.23 L 303.45 572.12 L 304.05 571.39 L 304.35 567.91 L 304.65 570.97 L 304.95 570.82 L 305.25 574.70 L 305.55 576.25 L 305.85 569.91 L 306.15 567.85 L 306.45 569.85 L 306.75 568.10 L 307.05 567.60 L 307.35 569.54 L 307.65 566.53 L 307.95 571.32 L 308.25 569.15 L 308.55 570.10 L 309.45 566.42 L 309.75 568.38 L 310.05 567.42 L 310.35 569.56 L 310.65 568.80 L 310.95 564.91 L 311.25 568.80 L 311.55 564.80 L 311.85 566.70 L 312.15 567.46 L 312.45 562.49 L 312.75 568.22 L 313.05 568.18 L 313.65 566.15 L 313.95 565.97 L 314.25 564.10 L 314.55 565.49 L 314.85 564.39 L 315.15 565.53 L 315.45 562.01 L 315.75 564.96 L 316.05 564.30 L 316.65 562.13 L 316.95 563.91 L 317.25 558.76 L 317.55 562.96 L 317.85 562.19 L 318.15 562.00 L 318.45 561.98 L 318.75 559.69 L 319.05 560.27 L 319.35 561.86 L 319.95 560.62 L 320.25 557.08 L 320.55 560.90 L 320.85 561.93 L 321.15 561.45 L 321.45 559.80 L 321.75 556.26 L 322.05 560.81 L 322.35 558.62 L 322.65 554.06 L 322.95 559.31 L 323.25 555.74 L 323.55 555.98 L 323.85 557.06 L 324.15 560.37 L 324.45 557.30 L 324.75 558.32 L 325.05 560.79 L 325.35 560.39 L 325.65 557.31 L 325.95 556.96 L 326.25 555.10 L 326.55 555.97 L 326.85 557.77 L 327.15 557.60 L 327.45 557.02 L 327.75 558.38 L 328.05 555.33 L 328.65 557.59 L 328.95 557.23 L 329.25 557.90 L 329.85 555.45 L 330.15 556.41 L 330.45 554.13 L 330.75 553.02 L 331.05 556.42 L 331.35 555.32 L 331.65 555.78 L 331.95 552.57 L 332.25 554.53 L 332.85 553.58 L 333.15 551.39 L 333.45 554.21 L 333.75 555.97 L 334.05 555.11 L 334.35 553.57 L 334.95 555.42 L 335.25 550.23 L 335.55 553.99 L 335.85 554.89 L 336.15 555.03 L 336.45 556.42 L 336.75 555.56 L 337.05 554.36 L 337.35 554.30 L 337.65 554.94 L 337.95 553.09 L 338.25 553.76 L 338.85 556.44 L 339.15 553.59 L 339.45 553.78 L 339.75 554.19 L 340.05 555.83 L 340.35 554.10 L 340.65 556.27 L 340.95 553.14 L 341.25 554.37 L 341.55 554.54 L 341.85 556.07 L 342.15 556.62 L 342.45 553.38 L 342.75 554.38 L 343.05 556.28 L 343.65 554.15 L 343.95 557.90 L 344.25 557.41 L 344.55 557.69 L 344.85 556.59 L 345.15 559.06 L 345.45 557.53 L 345.75 559.82 L 346.05 557.17 L 346.35 557.57 L 346.65 559.51 L 346.95 558.45 L 347.25 560.92 L 347.55 560.61 L 347.85 559.07 L 348.15 560.97 L 348.45 560.61 L 348.75 562.97 L 349.05 560.73 L 349.35 561.32 L 349.95 566.34 L 350.25 566.20 L 350.55 563.12 L 350.85 563.61 L 351.15 566.13 L 351.45 563.42 L 351.75 562.10 L 352.05 564.25 L 352.35 565.05 L 352.65 562.90 L 352.95 561.57 L 353.25 562.12 L 353.55 566.23 L 353.85 563.73 L 354.45 565.95 L 354.75 566.93 L 355.05 565.27 L 355.35 567.10 L 355.65 564.55 L 355.95 565.80 L 356.25 564.67 L 356.55 569.26 L 356.85 567.14 L 357.15 565.91 L 357.45 566.98 L 357.75 567.54 L 358.05 569.84 L 358.35 565.12 L 358.95 568.41 L 359.25 575.35 L 359.85 569.97 L 360.15 572.22 L 360.45 575.74 L 360.75 570.57 L 361.05 570.53 L 361.35 574.67 L 361.65 573.16 L 361.95 573.85 L 362.25 571.08 L 362.55 577.49 L 362.85 577.14 L 363.15 574.31 L 363.45 574.73 L 363.75 567.56 L 364.05 574.72 L 364.35 572.46 L 364.65 574.11 L 364.95 574.72 L 365.55 568.29 L 365.85 573.60 L 366.15 570.59 L 366.45 571.53 L 366.75 570.68 L 367.05 571.20 L 367.35 566.01 L 367.65 574.82 L 367.95 572.18 L 368.55 576.10 L 369.15 566.28 L 369.45 568.33 L 369.75 567.36 L 370.35 570.08 L 370.65 564.86 L 370.95 570.29 L 371.25 565.67 L 371.55 569.77 L 371.85 568.61 L 372.15 567.93 L 372.45 568.26 L 372.75 566.98 L 373.05 566.58 L 373.35 564.00 L 373.95 571.06 L 374.25 571.00 L 374.85 567.73 L 375.15 564.66 L 375.45 568.58 L 375.75 565.36 L 376.05 565.07 L 376.35 564.39 L 376.65 564.86 L 376.95 563.67 L 377.25 564.08 L 377.55 562.12 L 377.85 563.19 L 378.15 567.53 L 378.45 563.39 L 378.75 562.95 L 379.05 564.11 L 379.35 564.28 L 379.65 561.08 L 380.25 564.27 L 380.55 563.07 L 380.85 562.71 L 381.15 565.02 L 381.45 561.16 L 381.75 562.34 L 382.05 561.23 L 382.35 564.53 L 382.65 558.63 L 382.95 560.70 L 383.25 560.84 L 383.55 562.76 L 383.85 562.57 L 384.15 563.80 L 384.45 558.69 L 384.75 562.50 L 385.05 560.63 L 385.35 559.89 L 385.65 561.81 L 386.25 557.14 L 386.55 559.88 L 386.85 557.83 L 387.45 560.67 L 387.75 560.39 L 388.05 562.36 L 388.65 556.70 L 388.95 557.80 L 389.25 557.31 L 389.55 556.59 L 389.85 559.15 L 390.45 554.61 L 390.75 558.88 L 391.05 557.27 L 391.35 557.82 L 391.65 557.15 L 391.95 557.78 L 392.25 556.53 L 392.55 558.30 L 392.85 556.69 L 393.45 556.16 L 393.75 552.77 L 394.05 554.71 L 394.35 554.31 L 394.65 554.87 L 394.95 552.00 L 395.25 556.82 L 395.85 551.59 L 396.15 550.52 L 396.45 552.68 L 396.75 552.76 L 397.05 551.43 L 397.35 552.54 L 397.65 551.03 L 397.95 552.78 L 398.25 550.36 L 398.55 551.25 L 398.85 552.71 L 399.15 555.16 L 399.45 548.88 L 399.75 549.58 L 400.05 548.74 L 400.35 551.29 L 400.65 547.87 L 401.25 549.49 L 401.55 547.80 L 401.85 547.78 L 402.15 548.57 L 402.45 545.83 L 402.75 546.94 L 403.05 548.70 L 403.35 549.67 L 403.65 549.13 L 403.95 546.48 L 404.55 550.90 L 404.85 550.54 L 405.45 548.22 L 405.75 550.84 L 406.05 548.86 L 406.35 547.93 L 406.65 548.61 L 406.95 552.48 L 407.25 550.48 L 407.55 552.14 L 407.85 549.45 L 408.15 551.92 L 408.45 549.40 L 408.75 550.23 L 409.05 554.81 L 409.65 549.91 L 410.25 551.58 L 410.55 553.28 L 411.15 548.31 L 411.45 551.08 L 411.75 551.77 L 412.05 552.11 L 412.35 554.52 L 412.65 552.86 L 412.95 553.97 L 413.25 550.57 L 413.85 557.05 L 414.15 554.73 L 414.45 553.94 L 414.75 553.96 L 415.05 557.38 L 415.35 552.25 L 415.95 555.44 L 416.25 556.24 L 416.55 554.07 L 416.85 555.83 L 417.15 554.93 L 417.45 556.04 L 417.75 555.85 L 418.05 554.15 L 418.65 558.97 L 418.95 555.61 L 419.55 559.67 L 419.85 556.53 L 420.15 559.43 L 420.45 557.26 L 420.75 562.04 L 421.05 564.75 L 421.35 564.45 L 421.65 560.18 L 421.95 562.36 L 422.25 561.31 L 422.55 561.43 L 422.85 564.48 L 423.15 558.75 L 423.45 563.67 L 423.75 561.47 L 424.05 564.57 L 424.65 560.31 L 424.95 562.36 L 425.25 563.39 L 425.55 561.92 L 425.85 562.94 L 426.15 560.76 L 426.45 557.23 L 426.75 563.97 L 427.05 563.57 L 427.35 562.38 L 427.65 562.24 L 427.95 564.50 L 428.25 561.14 L 428.55 560.62 L 428.85 561.88 L 429.15 565.19 L 429.45 559.22 L 429.75 565.50 L 430.05 561.40 L 430.35 560.65 L 430.65 566.88 L 431.25 561.62 L 432.15 569.66 L 432.45 566.02 L 432.75 568.66 L 433.05 569.87 L 433.35 566.56 L 433.65 569.41 L 434.25 567.06 L 434.55 567.17 L 434.85 568.63 L 435.15 568.51 L 435.45 566.94 L 435.75 567.28 L 436.05 571.14 L 436.35 568.82 L 436.65 570.44 L 436.95 571.15 L 437.25 569.57 L 437.55 573.57 L 437.85 566.06 L 438.15 569.90 L 438.45 567.18 L 438.75 572.16 L 439.05 571.68 L 439.35 563.27 L 439.65 565.44 L 439.95 568.98 L 440.25 569.14 L 440.55 568.90 L 440.85 567.06 L 441.15 568.08 L 441.45 568.39 L 441.75 566.78 L 442.05 568.95 L 442.35 562.22 L 442.65 568.01 L 442.95 564.57 L 443.25 568.55 L 443.55 566.09 L 443.85 564.70 L 444.15 567.20 L 444.45 564.55 L 444.75 564.50 L 445.05 563.12 L 445.35 566.19 L 445.95 568.21 L 446.25 565.79 L 446.55 568.15 L 446.85 566.00 L 447.15 565.71 L 447.75 567.89 L 448.05 565.01 L 448.65 565.24 L 448.95 565.66 L 449.25 563.68 L 449.55 567.34 L 449.85 564.53 L 450.15 566.10 L 450.45 563.60 L 450.75 565.74 L 451.05 565.72 L 451.35 564.13 L 451.65 568.48 L 451.95 565.37 L 452.25 567.76 L 452.55 566.16 L 452.85 563.17 L 453.15 563.52 L 453.45 564.78 L 453.75 563.96 L 454.05 563.75 L 454.35 562.91 L 454.65 559.90 L 454.95 561.74 L 455.25 557.69 L 455.55 560.70 L 455.85 557.91 L 456.15 556.80 L 456.75 556.06 L 457.05 552.75 L 457.35 551.58 L 457.65 551.90 L 457.95 549.99 L 458.25 550.79 L 458.55 553.48 L 458.85 549.44 L 459.15 550.98 L 459.45 547.84 L 459.75 549.31 L 460.05 547.97 L 460.35 547.72 L 460.65 547.93 L 460.95 548.80 L 461.25 546.49 L 461.55 545.96 L 461.85 544.33 L 462.15 545.70 L 462.45 544.47 L 462.75 545.37 L 463.05 544.21 L 463.35 545.92 L 463.65 541.96 L 464.25 545.09 L 464.55 544.31 L 464.85 544.62 L 465.15 546.30 L 465.45 546.20 L 465.75 549.51 L 466.05 554.17 L 466.35 554.11 L 466.65 552.58 L 467.25 556.65 L 467.55 560.21 L 467.85 558.52 L 468.15 559.68 L 468.45 563.03 L 468.75 563.68 L 469.05 562.13 L 469.35 622.5 L 470.25 622.5 L 470.55 566.19 L 470.85 563.37 L 471.45 568.28 L 471.75 566.75 L 472.05 561.90 L 472.35 565.82 L 472.65 566.21 L 472.95 562.15 L 473.25 561.51 L 473.55 563.00 L 473.85 559.75 L 474.15 565.74 L 474.45 557.67 L 474.75 560.09 L 475.05 561.58 L 475.35 561.48 L 475.65 562.11 L 475.95 562.18 L 476.25 561.08 L 476.55 563.73 L 476.85 557.05 L 477.15 561.37 L 477.45 560.00 L 477.75 561.87 L 478.05 562.28 L 478.35 560.30 L 478.65 561.23 L 478.95 564.57 L 479.25 564.16 L 479.55 562.61 L 479.85 568.70 L 480.15 569.85 L 480.45 562.85 L 481.05 572.21 L 481.35 569.39 L 481.65 569.03 L 481.95 569.03 L 482.25 569.32 L 482.55 571.41 L 482.85 571.78 L 483.15 577.11 L 483.45 574.93 L 483.75 576.08 L 484.05 574.48 L 484.35 579.76 L 484.65 577.26 L 484.95 580.80 L 485.25 586.60 L 485.55 584.49 L 485.85 585.81 L 486.15 585.86 L 486.45 585.22 L 487.05 584.83 L 487.35 590.49 L 487.65 582.29 L 487.95 594.69 L 488.25 588.89 L 488.55 585.52 L 488.85 587.35 L 489.15 586.88 L 489.45 591.79 L 489.75 587.59 L 490.05 598.16 L 490.65 580.11 L 490.95 589.12 L 491.25 622.5 L 491.55 593.81 L 491.85 600.67 L 492.15 622.5 L 492.45 586.88 L 492.75 590.58 L 493.05 606.60 L 493.35 597.73 L 493.65 595.91 L 494.25 612.20 L 494.85 597.18 L 495.45 600.41 L 495.75 622.5 L 496.05 589.10 L 496.35 622.5 L 496.65 589.85 L 496.95 595.83 L 497.25 622.5 L 497.85 622.5 L 498.15 595.42 L 498.45 622.5 L 498.75 599.20 L 499.05 603.31 L 499.35 622.5 L 499.65 622.5 L 499.95 585.17 L 500.25 622.5 L 500.55 599.87 L 500.85 596.55 L 501.15 622.5 L 501.45 622.5 L 501.75 596.46 L 502.05 599.64 L 502.35 592.24 L 502.65 594.55 L 502.95 583.97 L 503.25 588.47 L 503.55 607.16 L 503.85 581.48 L 504.15 593.96 L 504.45 597.72 L 505.05 590.79 L 505.35 595.83 L 505.65 596.21 L 505.95 622.5 L 506.25 583.57 L 506.55 595.25 L 506.85 590.47 L 507.15 592.55 L 507.45 597.78 L 507.75 600.57 L 508.05 622.5 L 508.35 592.89 L 508.65 602.48 L 508.95 604.17 L 509.25 603.92 L 509.55 605.63 L 509.85 622.5 L 510.45 622.5 L 510.75 587.10 L 511.05 597.61 L 511.35 622.5 L 511.65 622.5 L 511.95 584.69 L 512.85 601.79 L 513.15 602.38 L 513.45 595.40 L 513.75 594.64 L 514.05 622.5 L 514.35 622.5 L 514.65 594.07 L 514.95 599.38 L 515.25 622.5 L 515.55 595.17 L 515.85 585.95 L 516.15 589.82 L 516.45 586.05 L 516.75 587.57 L 517.05 622.5 L 517.35 622.5 L 517.65 585.30 L 517.95 598.31 L 518.25 601.79 L 518.55 591.90 L 518.85 589.86 L 519.15 591.71 L 519.45 595.21 L 519.75 597.09 L 520.05 600.05 L 520.35 599.99 L 520.65 599.59 L 520.95 600.35 L 521.25 596.07 L 521.55 622.5 L 521.85 591.05 L 522.15 622.5 L 522.45 622.5 L 522.75 596.12 L 523.05 588.73 L 523.35 585.32 L 523.65 598.14 L 523.95 622.5 L 524.25 590.75 L 524.55 594.28 L 524.85 594.66 L 525.15 590.29 L 525.45 575.29 L 525.75 583.01 L 526.05 582.54 L 526.35 578.74 L 526.95 584.17 L 527.25 577.21 L 527.55 574.34 L 527.85 584.20 L 528.15 575.31 L 528.45 572.13 L 528.75 576.31 L 529.05 576.31 L 529.35 572.11 L 529.65 576.31 L 529.95 571.74 L 530.25 569.89 L 530.55 572.82 L 530.85 574.16 L 531.15 569.44 L 531.45 571.94 L 531.75 570.27 L 532.05 578.52 L 532.35 567.77 L 532.65 573.53 L 532.95 569.08 L 533.25 568.60 L 533.55 570.75 L 533.85 571.00 L 534.15 571.82 L 534.75 566.40 L 535.05 566.47 L 535.35 569.18 L 535.65 569.26 L 535.95 571.31 L 536.25 568.63 L 536.85 571.28 L 537.45 563.44 L 537.75 564.17 L 538.05 563.48 L 538.35 570.99 L 538.65 564.89 L 538.95 569.96 L 539.25 568.33 L 539.55 571.02 L 539.85 569.26 L 540.15 566.60 L 540.45 566.37 L 540.75 567.09 L 541.05 567.39 L 541.35 565.79 L 541.65 567.16 L 541.95 571.43 L 542.25 563.39 L 542.55 568.56 L 542.85 565.86 L 543.45 570.95 L 543.75 568.93 L 544.05 571.45 L 544.35 565.49 L 544.65 573.05 L 544.95 568.74 L 545.25 572.59 L 545.55 571.80 L 545.85 563.89 L 546.15 569.95 L 546.45 573.63 L 546.75 578.72 L 547.05 575.19 L 547.35 575.80 L 547.65 570.51 L 547.95 581.63 L 548.25 583.94 L 548.55 577.95 L 548.85 577.72 L 549.15 572.76 L 549.75 592.37 L 550.05 584.72 L 550.35 587.93 L 550.65 585.47 L 550.95 579.12 L 551.25 590.64 L 551.55 578.99 L 551.85 622.5 L 552.15 622.5 L 552.45 591.67 L 552.75 590.06 L 553.05 590.71 L 553.35 622.5 L 553.65 582.89 L 553.95 622.5 L 554.25 587.41 L 554.55 584.45 L 554.85 585.18 L 555.15 590.39 L 555.45 582.29 L 555.75 622.5 L 556.05 622.5 L 556.35 596.19 L 556.65 597.91 L 556.95 608.82 L 557.25 585.26 L 557.55 622.5 L 557.85 601.70 L 558.15 594.16 L 558.45 622.5 L 559.05 593.56 L 559.35 588.11 L 559.65 587.08 L 559.95 598.29 L 560.25 622.5 L 560.55 586.85 L 560.85 589.50 L 561.15 622.5 L 561.45 600.10 L 561.75 591.88 L 562.05 600.44 L 562.35 600.10 L 562.65 622.5 L 562.95 594.14 L 563.25 599.05 L 563.55 592.38 L 563.85 622.5 L 564.15 594.33 L 564.45 601.32 L 564.75 622.5 L 565.05 581.46 L 565.35 622.5 L 565.65 588.64 L 565.95 622.5 L 566.25 604.58 L 566.55 622.5 L 566.85 597.25 L 567.15 588.41 L 567.45 600.47 L 567.75 622.5 L 568.05 579.22 L 568.35 622.5 L 568.65 601.02 L 568.95 608.52 L 569.25 590.09 L 569.85 622.5 L 570.45 596.04 L 570.75 588.15 L 571.05 594.75 L 571.35 581.50 L 571.65 622.5 L 571.95 595.75 L 572.25 588.66 L 572.55 593.49 L 572.85 593.46 L 573.15 622.5 L 573.45 601.08 L 573.75 592.64 L 574.05 599.54 L 574.35 587.55 L 574.65 622.5 L 574.95 596.32 L 575.25 583.86 L 575.55 588.83 L 575.85 582.80 L 576.45 597.84 L 576.75 622.5 L 577.05 589.56 L 577.35 622.5 L 577.65 581.82 L 577.95 581.03 L 578.25 593.59 L 578.55 597.30 L 578.85 587.90 L 579.15 622.5 L 579.45 587.86 L 579.75 582.75 L 580.05 587.21 L 580.35 584.51 L 580.65 583.97 L 580.95 584.83 L 581.25 579.57 L 581.55 579.86 L 581.85 574.40 L 582.15 578.95 L 582.45 574.97 L 582.75 579.32 L 583.05 576.10 L 583.35 579.50 L 583.65 580.37 L 583.95 573.79 L 584.25 575.56 L 584.55 574.88 L 584.85 580.18 L 585.15 583.03 L 585.75 575.86 L 586.05 581.41 L 586.35 571.72 L 586.65 580.99 L 587.25 567.24 L 587.55 583.78 L 587.85 580.23 L 588.15 572.09 L 588.45 575.52 L 588.75 574.17 L 589.05 574.91 L 589.35 570.05 L 589.65 572.22 L 589.95 575.35 L 590.25 574.44 L 590.55 577.00 L 590.85 573.61 L 591.15 579.74 L 591.45 570.99 L 591.75 573.47 L 592.05 567.32 L 592.35 568.94 L 592.65 575.66 L 592.95 569.33 L 593.25 573.02 L 593.55 571.19 L 593.85 568.34 L 594.15 569.92 L 594.45 569.23 L 594.75 569.04 L 595.05 571.99 L 595.35 571.45 L 595.65 568.01 L 595.95 566.90 L 596.25 569.68 L 596.55 568.44 L 596.85 571.04 L 597.15 574.87 L 597.45 570.05 L 597.75 567.61 L 598.05 567.04 L 598.35 565.13 L 598.95 564.38 L 599.25 565.68 L 599.55 565.43 L 599.85 568.10 L 600.15 565.20 L 600.45 565.55 L 600.75 563.02 L 601.05 569.71 L 601.35 566.93 L 601.65 569.88 L 601.95 567.46 L 602.25 569.02 L 602.55 564.83 L 602.85 567.04 L 603.15 571.67 L 603.45 562.32 L 603.75 567.92 L 604.05 569.09 L 604.35 566.01 L 604.65 566.77 L 604.95 567.93 L 605.25 563.28 L 605.55 565.81 L 605.85 562.68 L 606.15 563.12 L 606.45 563.23 L 606.75 564.35 L 607.35 565.77 L 607.65 561.24 L 607.95 569.50 L 608.25 567.56 L 608.55 566.59 L 608.85 564.01 L 609.15 564.80 L 609.45 566.53 L 609.75 566.36 L 610.05 561.26 L 610.65 573.38 L 610.95 561.41 L 611.25 568.97 L 611.85 566.63 L 612.15 570.80 L 612.45 564.35 L 613.05 571.95 L 613.35 567.81 L 613.65 567.50 L 613.95 569.22 L 614.25 567.98 L 614.55 573.71 L 614.85 567.25 L 615.15 572.43 L 615.45 566.80 L 615.75 572.40 L 616.05 570.53 L 616.35 563.94 L 616.65 571.38 L 616.95 568.74 L 617.25 570.78 L 617.55 576.60 L 617.85 569.54 L 618.15 570.02 L 618.45 577.29 L 618.45 577.29 " clip-path="url(#pea22a4a1ae)" style="fill: none; stroke: #000000; stroke-width: 1.5; stroke-linecap: square"/> </g> <g id="line2d_214"> <path d="M 151.19 525.22 L 152.38 525.00 L 153.57 525.04 L 154.16 525.20 L 154.76 525.48 L 155.36 525.90 L 155.95 526.48 L 156.55 527.23 L 157.74 529.24 L 161.91 536.96 L 164.88 542.51 L 165.48 543.17 L 166.08 543.36 L 166.67 543.19 L 167.27 542.77 L 169.05 541.07 L 169.65 540.72 L 170.24 540.67 L 170.84 540.92 L 171.44 541.38 L 172.63 542.66 L 173.82 544.03 L 174.41 544.59 L 175.01 544.99 L 175.60 545.16 L 176.20 545.04 L 176.80 544.63 L 177.39 544.01 L 178.58 542.27 L 180.37 539.03 L 181.56 536.14 L 182.75 533.21 L 183.35 532.07 L 183.94 531.33 L 185.13 530.48 L 186.92 529.64 L 188.11 529.08 L 189.90 527.88 L 192.28 526.09 L 193.47 525.01 L 194.66 523.32 L 197.05 519.43 L 198.24 518.19 L 199.43 517.26 L 200.62 516.56 L 202.41 515.80 L 204.79 515.10 L 205.98 514.94 L 207.17 515.01 L 208.36 515.38 L 209.55 516.15 L 210.74 517.39 L 211.94 519.03 L 214.32 522.87 L 216.10 526.38 L 217.89 529.77 L 218.49 530.65 L 219.08 531.25 L 219.68 531.60 L 220.87 531.86 L 222.06 531.98 L 222.66 532.18 L 223.25 532.55 L 223.85 533.17 L 225.04 534.93 L 226.82 538.26 L 227.42 539.58 L 228.61 543.16 L 229.80 547.02 L 230.40 548.67 L 230.99 549.95 L 231.59 550.71 L 232.18 551.01 L 232.78 550.95 L 233.38 550.63 L 236.35 548.33 L 236.95 548.36 L 237.55 548.61 L 238.74 549.52 L 241.12 551.71 L 241.71 552.08 L 242.31 552.29 L 242.91 552.30 L 243.50 552.07 L 244.10 551.55 L 244.69 550.78 L 245.88 548.70 L 247.07 546.24 L 247.67 544.78 L 250.05 537.61 L 250.65 536.57 L 251.84 535.87 L 259.58 532.04 L 260.18 531.61 L 260.77 530.81 L 261.96 528.49 L 263.75 524.82 L 265.54 522.30 L 266.73 520.88 L 267.92 519.74 L 269.11 518.98 L 270.30 518.59 L 271.49 518.50 L 272.68 518.66 L 274.47 519.19 L 275.66 519.70 L 276.85 520.47 L 278.04 521.57 L 279.24 523.01 L 279.83 523.97 L 281.02 526.86 L 282.81 531.53 L 283.40 532.62 L 284.60 533.89 L 286.98 535.96 L 288.76 537.33 L 291.15 538.75 L 291.74 539.29 L 292.34 540.05 L 292.93 541.36 L 294.12 544.95 L 295.32 548.43 L 297.70 554.10 L 298.89 556.22 L 299.49 556.89 L 300.08 557.13 L 300.68 557.02 L 301.27 556.67 L 303.65 554.56 L 304.25 554.32 L 304.85 554.41 L 305.44 554.90 L 306.63 556.56 L 307.23 557.41 L 307.82 558.07 L 308.42 558.37 L 309.01 558.17 L 309.61 557.33 L 311.99 552.91 L 316.16 545.16 L 319.14 539.84 L 319.73 538.95 L 320.33 538.42 L 320.93 538.18 L 321.52 538.14 L 323.90 538.40 L 324.50 538.15 L 325.69 537.08 L 326.88 535.73 L 328.07 534.10 L 328.67 533.07 L 329.86 530.42 L 331.05 527.66 L 331.65 526.48 L 332.24 525.55 L 333.43 524.38 L 334.62 523.60 L 335.82 523.12 L 337.60 522.71 L 339.39 522.48 L 340.58 522.46 L 341.77 522.63 L 342.96 523.04 L 343.56 523.37 L 344.75 524.46 L 345.94 526.01 L 347.73 528.85 L 348.92 531.41 L 351.30 537.21 L 351.90 538.28 L 352.49 539.03 L 353.09 539.51 L 354.28 540.00 L 355.47 540.44 L 356.07 540.86 L 357.26 542.24 L 358.45 543.97 L 359.64 546.18 L 360.83 549.12 L 364.40 558.98 L 365.59 561.28 L 366.19 561.95 L 366.79 562.20 L 367.38 562.12 L 367.98 561.78 L 369.17 560.68 L 370.36 559.58 L 370.95 559.25 L 371.55 559.18 L 372.15 559.38 L 373.34 560.18 L 375.12 561.58 L 375.72 561.88 L 376.31 562.00 L 376.91 561.94 L 377.51 561.69 L 378.10 561.24 L 378.70 560.60 L 379.29 559.76 L 379.89 558.49 L 381.08 554.68 L 382.27 550.48 L 382.87 548.71 L 383.46 547.43 L 384.65 545.92 L 386.44 544.11 L 388.23 542.73 L 389.42 542.17 L 391.20 541.50 L 391.80 541.16 L 392.40 540.67 L 392.99 539.97 L 394.18 537.94 L 397.16 531.90 L 398.35 530.25 L 400.14 528.25 L 401.33 527.17 L 402.52 526.34 L 403.71 525.81 L 404.90 525.55 L 406.09 525.51 L 407.88 525.76 L 409.07 526.07 L 410.26 526.63 L 411.45 527.49 L 412.65 528.67 L 413.24 529.39 L 413.84 530.38 L 415.03 533.13 L 417.41 539.50 L 418.01 540.81 L 418.60 541.84 L 419.20 542.56 L 419.79 543.04 L 420.39 543.32 L 421.58 543.56 L 422.77 543.79 L 423.37 544.06 L 423.96 544.52 L 424.56 545.23 L 425.75 547.47 L 427.53 551.44 L 429.92 557.19 L 432.30 563.83 L 432.89 564.89 L 433.49 565.40 L 434.09 565.45 L 434.68 565.14 L 435.87 563.96 L 437.06 562.79 L 437.66 562.51 L 438.25 562.51 L 439.45 562.90 L 441.23 564.02 L 442.42 564.74 L 443.62 565.17 L 444.21 565.19 L 444.81 565.04 L 445.40 564.68 L 446.00 563.72 L 446.59 561.96 L 448.38 555.64 L 449.57 553.24 L 451.36 550.17 L 452.55 548.44 L 453.74 547.04 L 454.34 546.50 L 454.93 546.25 L 455.53 546.25 L 456.72 546.50 L 457.31 546.50 L 457.91 546.27 L 458.50 545.68 L 459.70 543.67 L 463.27 536.76 L 465.65 533.01 L 466.84 531.39 L 468.03 530.09 L 469.23 529.24 L 470.42 528.87 L 471.61 528.87 L 472.80 529.11 L 475.78 530.13 L 476.97 530.81 L 478.16 531.79 L 479.35 533.16 L 479.95 534.23 L 481.14 537.33 L 483.52 544.61 L 484.11 546.07 L 484.71 547.18 L 485.31 547.97 L 486.50 549.03 L 487.69 549.69 L 488.88 550.29 L 490.07 551.17 L 490.67 551.83 L 491.86 553.72 L 493.64 557.26 L 494.83 559.86 L 496.03 563.18 L 498.41 570.58 L 499.60 573.39 L 500.20 574.29 L 500.79 574.67 L 501.39 574.60 L 501.98 574.20 L 503.17 572.86 L 504.36 571.56 L 504.96 571.22 L 505.56 571.23 L 506.15 571.53 L 507.34 572.61 L 509.13 574.47 L 509.72 574.88 L 510.32 575.09 L 510.92 575.01 L 511.51 574.61 L 512.11 573.91 L 513.30 571.85 L 514.49 569.29 L 515.68 565.78 L 518.06 558.02 L 518.66 556.49 L 519.25 555.32 L 519.85 554.58 L 520.44 554.11 L 521.64 553.62 L 522.83 553.30 L 523.42 553.03 L 524.61 552.10 L 526.40 550.35 L 527.59 548.88 L 528.19 547.81 L 529.38 544.99 L 532.36 537.30 L 532.95 536.20 L 533.55 535.40 L 534.74 534.54 L 535.93 534.01 L 537.12 533.73 L 538.91 533.61 L 541.29 533.53 L 542.48 533.40 L 543.08 533.46 L 543.67 533.68 L 544.27 534.14 L 544.86 534.87 L 546.05 536.98 L 547.84 540.92 L 550.82 547.88 L 552.61 552.09 L 553.20 553.36 L 553.80 554.27 L 554.39 554.76 L 554.99 554.95 L 556.78 554.94 L 557.37 555.14 L 557.97 555.65 L 558.56 556.58 L 560.35 560.31 L 562.73 565.83 L 566.30 575.16 L 567.50 577.51 L 568.09 578.00 L 568.69 577.93 L 569.28 577.46 L 571.66 574.66 L 572.26 574.50 L 572.86 574.77 L 573.45 575.34 L 575.83 578.51 L 576.43 578.96 L 577.02 579.05 L 577.62 578.67 L 578.22 577.70 L 580.00 573.60 L 582.98 566.71 L 586.55 558.80 L 587.15 557.62 L 587.75 556.82 L 588.34 556.35 L 588.94 556.15 L 590.13 556.13 L 591.32 556.05 L 591.91 555.76 L 593.11 554.49 L 594.89 552.13 L 596.68 549.40 L 597.27 548.29 L 598.47 545.39 L 600.25 540.64 L 601.44 538.21 L 602.04 537.48 L 603.23 536.80 L 604.42 536.55 L 605.61 536.58 L 610.97 537.32 L 611.57 537.64 L 612.16 538.13 L 612.76 538.85 L 613.95 540.90 L 615.74 544.80 L 616.93 547.51 L 619.31 553.60 L 619.91 554.81 L 620.50 555.63 L 621.10 556.12 L 621.69 556.37 L 622.88 556.46 L 624.08 556.62 L 624.67 556.95 L 625.27 557.55 L 625.86 558.52 L 627.65 562.83 L 631.22 572.01 L 633.60 578.34 L 634.20 579.56 L 634.80 580.15 L 635.39 580.19 L 635.99 579.83 L 637.18 578.43 L 638.37 577.05 L 638.96 576.70 L 639.56 576.73 L 640.16 576.98 L 641.35 577.85 L 642.54 578.81 L 643.13 579.19 L 643.73 579.43 L 644.33 579.47 L 644.92 579.26 L 645.52 578.77 L 646.11 578.06 L 647.30 576.08 L 649.09 572.38 L 650.28 569.29 L 652.66 562.11 L 653.26 560.73 L 653.85 559.71 L 654.45 559.10 L 655.05 558.80 L 655.64 558.74 L 656.83 559.00 L 658.02 559.20 L 658.62 559.07 L 659.21 558.67 L 659.81 557.93 L 661.00 555.61 L 664.57 547.90 L 666.96 543.63 L 668.74 540.91 L 669.93 539.50 L 671.13 538.61 L 672.32 538.21 L 673.51 538.20 L 674.70 538.45 L 676.49 539.07 L 677.68 539.69 L 678.87 540.63 L 680.06 541.96 L 681.25 543.76 L 682.44 546.25 L 683.63 549.36 L 685.42 555 L 685.42 555 " clip-path="url(#pea22a4a1ae)" style="fill: none; stroke: #ff0000; stroke-width: 1.5; stroke-linecap: square"/> </g> <g id="line2d_215"> <path d="M 618.67 616.5 L 618.67 358.5 " clip-path="url(#pea22a4a1ae)" style="fill: none; stroke-dasharray: 1.5,2.47; stroke-dashoffset: 0; stroke: #1f77b4; stroke-width: 1.5"/> </g> </g> <g id="axes_4"> <g id="patch_18"> <path d="M 150 762.75 L 685.42 762.75 L 685.42 633.75 L 150 633.75 z " style="fill: #ffffff"/> </g> <g id="text_38"> <text style="font-size: 23.4px; font-family: 'DejaVu Sans', sans-serif; text-anchor: middle; opacity: 0.1" x="656.55" y="701.4" transform="rotate(-90 656.55 701.4)">Forecast</text> </g> <g id="matplotlib.axis_7"> <g id="xtick_17"> <g id="line2d_216"> <g> <use href="#m734474134b" x="186.28" y="762.75" style="stroke: #000000; stroke-width: 0.75"/> </g> </g> <g id="text_39"> <text style="font-size: 14px; font-family: 'DejaVu Sans', sans-serif; text-anchor: middle" x="186.28" y="777.38" transform="rotate(-0 186.28 777.38)">23</text> </g> </g> <g id="xtick_18"> <g id="line2d_217"> <g> <use href="#m734474134b" x="253.24" y="762.75" style="stroke: #000000; stroke-width: 0.75"/> </g> </g> <g id="text_40"> <text style="font-size: 14px; font-family: 'DejaVu Sans', sans-serif; text-anchor: middle" x="253.24" y="777.38" transform="rotate(-0 253.24 777.38)">24</text> </g> </g> <g id="xtick_19"> <g id="line2d_218"> <g> <use href="#m734474134b" x="320.19" y="762.75" style="stroke: #000000; stroke-width: 0.75"/> </g> </g> <g id="text_41"> <text style="font-size: 14px; font-family: 'DejaVu Sans', sans-serif; text-anchor: middle" x="320.19" y="777.38" transform="rotate(-0 320.19 777.38)">25</text> </g> </g> <g id="xtick_20"> <g id="line2d_219"> <g> <use href="#m734474134b" x="387.14" y="762.75" style="stroke: #000000; stroke-width: 0.75"/> </g> </g> <g id="text_42"> <text style="font-size: 14px; font-family: 'DejaVu Sans', sans-serif; text-anchor: middle" x="387.14" y="777.38" transform="rotate(-0 387.14 777.38)">26</text> </g> </g> <g id="xtick_21"> <g id="line2d_220"> <g> <use href="#m734474134b" x="454.10" y="762.75" style="stroke: #000000; stroke-width: 0.75"/> </g> </g> <g id="text_43"> <text style="font-size: 14px; font-family: 'DejaVu Sans', sans-serif; text-anchor: middle" x="454.10" y="777.38" transform="rotate(-0 454.10 777.38)">27</text> </g> </g> <g id="xtick_22"> <g id="line2d_221"> <g> <use href="#m734474134b" x="521.05" y="762.75" style="stroke: #000000; stroke-width: 0.75"/> </g> </g> <g id="text_44"> <text style="font-size: 14px; font-family: 'DejaVu Sans', sans-serif; text-anchor: middle" x="521.05" y="777.38" transform="rotate(-0 521.05 777.38)">28</text> </g> </g> <g id="xtick_23"> <g id="line2d_222"> <g> <use href="#m734474134b" x="588.00" y="762.75" style="stroke: #000000; stroke-width: 0.75"/> </g> </g> <g id="text_45"> <text style="font-size: 14px; font-family: 'DejaVu Sans', sans-serif; text-anchor: middle" x="588.00" y="777.38" transform="rotate(-0 588.00 777.38)">29</text> </g> </g> <g id="xtick_24"> <g id="line2d_223"> <g> <use href="#m734474134b" x="654.96" y="762.75" style="stroke: #000000; stroke-width: 0.75"/> </g> </g> <g id="text_46"> <text style="font-size: 14px; font-family: 'DejaVu Sans', sans-serif; text-anchor: middle" x="654.96" y="777.38" transform="rotate(-0 654.96 777.38)">30</text> </g> </g> <g id="text_47"> <text style="font-size: 18px; font-family: 'DejaVu Sans', sans-serif; text-anchor: middle" x="417.71" y="799.47" transform="rotate(-0 417.71 799.47)">November 2018 (UT)</text> </g> </g> <g id="matplotlib.axis_8"> <g id="ytick_118"> <g id="line2d_224"> <g> <use href="#m0e9212ec3c" x="150" y="762.75" style="stroke: #000000; stroke-width: 0.75"/> </g> </g> <g id="line2d_225"> <g> <use href="#md311e385f9" x="685.42" y="762.75" style="stroke: #000000; stroke-width: 0.75"/> </g> </g> <g id="text_48" transform="translate(0 0.75)"> <text style="font-size: 14px; font-family: 'DejaVu Sans', sans-serif; text-anchor: end" x="146" y="768.06" transform="rotate(-0 146 768.06)">0</text> </g> </g> <g id="ytick_119"> <g id="line2d_226"> <g> <use href="#m0e9212ec3c" x="150" y="734.08" style="stroke: #000000; stroke-width: 0.75"/> </g> </g> <g id="line2d_227"> <g> <use href="#md311e385f9" x="685.42" y="734.08" style="stroke: #000000; stroke-width: 0.75"/> </g> </g> <g id="text_49" transform="translate(0 0.75)"> <text style="font-size: 14px; font-family: 'DejaVu Sans', sans-serif; text-anchor: end" x="146" y="739.40" transform="rotate(-0 146 739.40)">2</text> </g> </g> <g id="ytick_120"> <g id="line2d_228"> <g> <use href="#m0e9212ec3c" x="150" y="705.41" style="stroke: #000000; stroke-width: 0.75"/> </g> </g> <g id="line2d_229"> <g> <use href="#md311e385f9" x="685.42" y="705.41" style="stroke: #000000; stroke-width: 0.75"/> </g> </g> <g id="text_50" transform="translate(0 0.75)"> <text style="font-size: 14px; font-family: 'DejaVu Sans', sans-serif; text-anchor: end" x="146" y="710.73" transform="rotate(-0 146 710.73)">4</text> </g> </g> <g id="ytick_121"> <g id="line2d_230"> <g> <use href="#m0e9212ec3c" x="150" y="676.75" style="stroke: #000000; stroke-width: 0.75"/> </g> </g> <g id="line2d_231"> <g> <use href="#md311e385f9" x="685.42" y="676.75" style="stroke: #000000; stroke-width: 0.75"/> </g> </g> <g id="text_51" transform="translate(0 0.75)"> <text style="font-size: 14px; font-family: 'DejaVu Sans', sans-serif; text-anchor: end" x="146" y="682.06" transform="rotate(-0 146 682.06)">6</text> </g> </g> <g id="ytick_122"> <g id="line2d_232"> <g> <use href="#m0e9212ec3c" x="150" y="648.08" style="stroke: #000000; stroke-width: 0.75"/> </g> </g> <g id="line2d_233"> <g> <use href="#md311e385f9" x="685.42" y="648.08" style="stroke: #000000; stroke-width: 0.75"/> </g> </g> <g id="text_52" transform="translate(0 0.75)"> <text style="font-size: 14px; font-family: 'DejaVu Sans', sans-serif; text-anchor: end" x="146" y="653.40" transform="rotate(-0 146 653.40)">8</text> </g> </g> </g> <g id="patch_19"> <path d="M 149.56 762.75 L 156.05 762.75 L 156.05 748.41 L 149.56 748.41 z " clip-path="url(#p30dd58c646)" style="fill: #008000"/> </g> <g id="patch_20"> <path d="M 157.93 762.75 L 164.42 762.75 L 164.42 748.41 L 157.93 748.41 z " clip-path="url(#p30dd58c646)" style="fill: #008000"/> </g> <g id="patch_21"> <path d="M 166.30 762.75 L 172.79 762.75 L 172.79 757.97 L 166.30 757.97 z " clip-path="url(#p30dd58c646)" style="fill: #008000"/> </g> <g id="patch_22"> <path d="M 174.67 762.75 L 181.16 762.75 L 181.16 753.19 L 174.67 753.19 z " clip-path="url(#p30dd58c646)" style="fill: #008000"/> </g> <g id="patch_23"> <path d="M 183.04 762.75 L 189.53 762.75 L 189.53 757.97 L 183.04 757.97 z " clip-path="url(#p30dd58c646)" style="fill: #008000"/> </g> <g id="patch_24"> <path d="M 199.77 762.75 L 206.27 762.75 L 206.27 757.97 L 199.77 757.97 z " clip-path="url(#p30dd58c646)" style="fill: #008000"/> </g> <g id="patch_25"> <path d="M 208.14 762.75 L 214.64 762.75 L 214.64 757.97 L 208.14 757.97 z " clip-path="url(#p30dd58c646)" style="fill: #008000"/> </g> <g id="patch_26"> <path d="M 233.25 762.75 L 239.75 762.75 L 239.75 757.97 L 233.25 757.97 z " clip-path="url(#p30dd58c646)" style="fill: #008000"/> </g> <g id="patch_27"> <path d="M 241.62 762.75 L 248.11 762.75 L 248.11 757.97 L 241.62 757.97 z " clip-path="url(#p30dd58c646)" style="fill: #008000"/> </g> <g id="patch_28"> <path d="M 249.99 762.75 L 256.48 762.75 L 256.48 753.19 L 249.99 753.19 z " clip-path="url(#p30dd58c646)" style="fill: #008000"/> </g> <g id="patch_29"> <path d="M 258.36 762.75 L 264.85 762.75 L 264.85 738.86 L 258.36 738.86 z " clip-path="url(#p30dd58c646)" style="fill: #008000"/> </g> <g id="patch_30"> <path d="M 266.73 762.75 L 273.22 762.75 L 273.22 753.19 L 266.73 753.19 z " clip-path="url(#p30dd58c646)" style="fill: #008000"/> </g> <g id="patch_31"> <path d="M 275.10 762.75 L 281.59 762.75 L 281.59 743.63 L 275.10 743.63 z " clip-path="url(#p30dd58c646)" style="fill: #008000"/> </g> <g id="patch_32"> <path d="M 283.47 762.75 L 289.96 762.75 L 289.96 753.19 L 283.47 753.19 z " clip-path="url(#p30dd58c646)" style="fill: #008000"/> </g> <g id="patch_33"> <path d="M 291.84 762.75 L 298.33 762.75 L 298.33 753.19 L 291.84 753.19 z " clip-path="url(#p30dd58c646)" style="fill: #008000"/> </g> <g id="patch_34"> <path d="M 300.20 762.75 L 306.70 762.75 L 306.70 757.97 L 300.20 757.97 z " clip-path="url(#p30dd58c646)" style="fill: #008000"/> </g> <g id="patch_35"> <path d="M 308.57 762.75 L 315.07 762.75 L 315.07 748.41 L 308.57 748.41 z " clip-path="url(#p30dd58c646)" style="fill: #008000"/> </g> <g id="patch_36"> <path d="M 316.94 762.75 L 323.44 762.75 L 323.44 748.41 L 316.94 748.41 z " clip-path="url(#p30dd58c646)" style="fill: #008000"/> </g> <g id="patch_37"> <path d="M 325.31 762.75 L 331.81 762.75 L 331.81 753.19 L 325.31 753.19 z " clip-path="url(#p30dd58c646)" style="fill: #008000"/> </g> <g id="patch_38"> <path d="M 333.68 762.75 L 340.18 762.75 L 340.18 757.97 L 333.68 757.97 z " clip-path="url(#p30dd58c646)" style="fill: #008000"/> </g> <g id="patch_39"> <path d="M 342.05 762.75 L 348.54 762.75 L 348.54 753.19 L 342.05 753.19 z " clip-path="url(#p30dd58c646)" style="fill: #008000"/> </g> <g id="patch_40"> <path d="M 350.42 762.75 L 356.91 762.75 L 356.91 748.41 L 350.42 748.41 z " clip-path="url(#p30dd58c646)" style="fill: #008000"/> </g> <g id="patch_41"> <path d="M 358.79 762.75 L 365.28 762.75 L 365.28 748.41 L 358.79 748.41 z " clip-path="url(#p30dd58c646)" style="fill: #008000"/> </g> <g id="patch_42"> <path d="M 409.00 762.75 L 415.50 762.75 L 415.50 757.97 L 409.00 757.97 z " clip-path="url(#p30dd58c646)" style="fill: #008000"/> </g> <g id="patch_43"> <path d="M 417.37 762.75 L 423.87 762.75 L 423.87 748.41 L 417.37 748.41 z " clip-path="url(#p30dd58c646)" style="fill: #008000"/> </g> <g id="patch_44"> <path d="M 425.74 762.75 L 432.24 762.75 L 432.24 753.19 L 425.74 753.19 z " clip-path="url(#p30dd58c646)" style="fill: #008000"/> </g> <g id="patch_45"> <path d="M 442.48 762.75 L 448.97 762.75 L 448.97 753.19 L 442.48 753.19 z " clip-path="url(#p30dd58c646)" style="fill: #008000"/> </g> <g id="patch_46"> <path d="M 450.85 762.75 L 457.34 762.75 L 457.34 738.86 L 450.85 738.86 z " clip-path="url(#p30dd58c646)" style="fill: #008000"/> </g> <g id="patch_47"> <path d="M 459.22 762.75 L 465.71 762.75 L 465.71 734.08 L 459.22 734.08 z " clip-path="url(#p30dd58c646)" style="fill: #008000"/> </g> <g id="patch_48"> <path d="M 467.59 762.75 L 474.08 762.75 L 474.08 734.08 L 467.59 734.08 z " clip-path="url(#p30dd58c646)" style="fill: #008000"/> </g> <g id="patch_49"> <path d="M 475.96 762.75 L 482.45 762.75 L 482.45 734.08 L 475.96 734.08 z " clip-path="url(#p30dd58c646)" style="fill: #008000"/> </g> <g id="patch_50"> <path d="M 484.33 762.75 L 490.82 762.75 L 490.82 743.63 L 484.33 743.63 z " clip-path="url(#p30dd58c646)" style="fill: #008000"/> </g> <g id="patch_51"> <path d="M 526.17 762.75 L 532.67 762.75 L 532.67 753.19 L 526.17 753.19 z " clip-path="url(#p30dd58c646)" style="fill: #008000"/> </g> <g id="patch_52"> <path d="M 534.54 762.75 L 541.04 762.75 L 541.04 757.97 L 534.54 757.97 z " clip-path="url(#p30dd58c646)" style="fill: #008000"/> </g> <g id="patch_53"> <path d="M 542.91 762.75 L 549.40 762.75 L 549.40 748.41 L 542.91 748.41 z " clip-path="url(#p30dd58c646)" style="fill: #008000"/> </g> <g id="patch_54"> <path d="M 551.28 762.75 L 557.77 762.75 L 557.77 734.08 L 551.28 734.08 z " clip-path="url(#p30dd58c646)" style="fill: #008000"/> </g> <g id="patch_55"> <path d="M 559.65 762.75 L 566.14 762.75 L 566.14 757.97 L 559.65 757.97 z " clip-path="url(#p30dd58c646)" style="fill: #008000"/> </g> <g id="patch_56"> <path d="M 568.02 762.75 L 574.51 762.75 L 574.51 757.97 L 568.02 757.97 z " clip-path="url(#p30dd58c646)" style="fill: #008000"/> </g> <g id="patch_57"> <path d="M 609.86 762.75 L 616.36 762.75 L 616.36 753.19 L 609.86 753.19 z " clip-path="url(#p30dd58c646)" style="fill: #008000"/> </g> <g id="patch_58"> <path d="M 618.23 762.75 L 624.73 762.75 L 624.73 748.41 L 618.23 748.41 z " clip-path="url(#p30dd58c646)" style="fill: #008000"/> </g> <g id="patch_59"> <path d="M 626.60 762.75 L 633.10 762.75 L 633.10 748.41 L 626.60 748.41 z " clip-path="url(#p30dd58c646)" style="fill: #008000"/> </g> <g id="patch_60"> <path d="M 634.97 762.75 L 641.47 762.75 L 641.47 748.41 L 634.97 748.41 z " clip-path="url(#p30dd58c646)" style="fill: #008000"/> </g> <g id="patch_61"> <path d="M 643.34 762.75 L 649.83 762.75 L 649.83 748.41 L 643.34 748.41 z " clip-path="url(#p30dd58c646)" style="fill: #008000"/> </g> <g id="patch_62"> <path d="M 651.71 762.75 L 658.20 762.75 L 658.20 748.41 L 651.71 748.41 z " clip-path="url(#p30dd58c646)" style="fill: #008000"/> </g> <g id="patch_63"> <path d="M 660.08 762.75 L 666.57 762.75 L 666.57 748.41 L 660.08 748.41 z " clip-path="url(#p30dd58c646)" style="fill: #008000"/> </g> <g id="patch_64"> <path d="M 668.45 762.75 L 674.94 762.75 L 674.94 748.41 L 668.45 748.41 z " clip-path="url(#p30dd58c646)" style="fill: #008000"/> </g> <g id="patch_65"> <path d="M 676.82 762.75 L 683.31 762.75 L 683.31 748.41 L 676.82 748.41 z " clip-path="url(#p30dd58c646)" style="fill: #008000"/> </g> <g id="patch_66"> <path d="M 150 762.75 L 150 633.75 " style="fill: none; stroke: #000000; stroke-width: 1.5; stroke-linejoin: miter; stroke-linecap: square"/> </g> <g id="patch_67"> <path d="M 685.42 762.75 L 685.42 633.75 " style="fill: none; stroke: #000000; stroke-width: 1.5; stroke-linejoin: miter; stroke-linecap: square"/> </g> <g id="patch_68"> <path d="M 150 762.75 L 685.42 762.75 " style="fill: none; stroke: #000000; stroke-width: 1.5; stroke-linejoin: miter; stroke-linecap: square"/> </g> <g id="patch_69"> <path d="M 150 633.75 L 685.42 633.75 " style="fill: none; stroke: #000000; stroke-width: 1.5; stroke-linejoin: miter; stroke-linecap: square"/> </g> <g id="line2d_234"> <path d="M 618.67 762.75 L 618.67 633.75 " clip-path="url(#p30dd58c646)" style="fill: none; stroke-dasharray: 1.5,2.47; stroke-dashoffset: 0; stroke: #1f77b4; stroke-width: 1.5"/> </g> <g id="legend_1"> <g id="patch_70"> <path d="M 157.5 689.78 L 219.64 689.78 Q 221.64 689.78 221.64 687.78 L 221.64 641.25 Q 221.64 639.25 219.64 639.25 L 157.5 639.25 Q 155.5 639.25 155.5 641.25 L 155.5 687.78 Q 155.5 689.78 157.5 689.78 z " style="fill: #ffffff; opacity: 0.8; stroke: #cccccc; stroke-linejoin: miter"/> </g> <g id="patch_71"> <path d="M 160.25 651.59 L 180.25 651.59 L 180.25 644.59 L 160.25 644.59 z " style="fill: #008000; stroke: #008000; stroke-linejoin: miter"/> </g> <g id="text_53"> <text style="font-size: 10px; font-family: 'DejaVu Sans', sans-serif; text-anchor: start" x="189.25" y="651.59" transform="rotate(-0 189.25 651.59)">Kp&lt;3</text> </g> <g id="patch_72"> <path d="M 160.25 667.27 L 180.25 667.27 L 180.25 660.27 L 160.25 660.27 z " style="fill: #bfbf00; stroke: #bfbf00; stroke-linejoin: miter"/> </g> <g id="text_54"> <text style="font-size: 10px; font-family: 'DejaVu Sans', sans-serif; text-anchor: start" x="189.25" y="667.27" transform="rotate(-0 189.25 667.27)">Kp&lt;5</text> </g> <g id="patch_73"> <path d="M 160.25 682.95 L 180.25 682.95 L 180.25 675.95 L 160.25 675.95 z " style="fill: #ff0000; stroke: #ff0000; stroke-linejoin: miter"/> </g> <g id="text_55"> <text style="font-size: 10px; font-family: 'DejaVu Sans', sans-serif; text-anchor: start" x="189.25" y="682.95" transform="rotate(-0 189.25 682.95)">Kp&gt;5</text> </g> </g> </g> <g id="axes_5"> <g id="patch_74"> <path d="M 903.75 341.25 L 1350 341.25 L 1350 82.5 L 903.75 82.5 z " style="fill: #ffffff"/> </g> <g id="line2d_235"> <path d="M 903.75 211.87 L 1350 211.87 " clip-path="url(#p6bc8700808)" style="fill: none; stroke-dasharray: 1.5,2.47; stroke-dashoffset: 0; stroke: #000000; stroke-width: 1.5"/> </g> <g id="matplotlib.axis_9"> <g id="xtick_25"> <g id="line2d_236"> <g> <use href="#m734474134b" x="933.99" y="341.25" style="stroke: #000000; stroke-width: 0.75"/> </g> </g> </g> <g id="xtick_26"> <g id="line2d_237"> <g> <use href="#m734474134b" x="989.79" y="341.25" style="stroke: #000000; stroke-width: 0.75"/> </g> </g> </g> <g id="xtick_27"> <g id="line2d_238"> <g> <use href="#m734474134b" x="1045.59" y="341.25" style="stroke: #000000; stroke-width: 0.75"/> </g> </g> </g> <g id="xtick_28"> <g id="line2d_239"> <g> <use href="#m734474134b" x="1101.40" y="341.25" style="stroke: #000000; stroke-width: 0.75"/> </g> </g> </g> <g id="xtick_29"> <g id="line2d_240"> <g> <use href="#m734474134b" x="1157.20" y="341.25" style="stroke: #000000; stroke-width: 0.75"/> </g> </g> </g> <g id="xtick_30"> <g id="line2d_241"> <g> <use href="#m734474134b" x="1213.00" y="341.25" style="stroke: #000000; stroke-width: 0.75"/> </g> </g> </g> <g id="xtick_31"> <g id="line2d_242"> <g> <use href="#m734474134b" x="1268.80" y="341.25" style="stroke: #000000; stroke-width: 0.75"/> </g> </g> </g> <g id="xtick_32"> <g id="line2d_243"> <g> <use href="#m734474134b" x="1324.61" y="341.25" style="stroke: #000000; stroke-width: 0.75"/> </g> </g> </g> </g> <g id="matplotlib.axis_10"> <g id="ytick_123"> <g id="line2d_244"> <g> <use href="#m0e9212ec3c" x="903.75" y="341.25" style="stroke: #000000; stroke-width: 0.75"/> </g> </g> <g id="text_56" transform="translate(0 0.75)"> <text style="font-size: 14px; font-family: 'DejaVu Sans', sans-serif; text-anchor: end" x="899.75" y="346.56" transform="rotate(-0 899.75 346.56)">−20</text> </g> </g> <g id="ytick_124"> <g id="line2d_245"> <g> <use href="#m0e9212ec3c" x="903.75" y="308.90" style="stroke: #000000; stroke-width: 0.75"/> </g> </g> <g id="text_57" transform="translate(0 0.75)"> <text style="font-size: 14px; font-family: 'DejaVu Sans', sans-serif; text-anchor: end" x="899.75" y="314.22" transform="rotate(-0 899.75 314.22)">−15</text> </g> </g> <g id="ytick_125"> <g id="line2d_246"> <g> <use href="#m0e9212ec3c" x="903.75" y="276.56" style="stroke: #000000; stroke-width: 0.75"/> </g> </g> <g id="text_58" transform="translate(0 0.75)"> <text style="font-size: 14px; font-family: 'DejaVu Sans', sans-serif; text-anchor: end" x="899.75" y="281.88" transform="rotate(-0 899.75 281.88)">−10</text> </g> </g> <g id="ytick_126"> <g id="line2d_247"> <g> <use href="#m0e9212ec3c" x="903.75" y="244.21" style="stroke: #000000; stroke-width: 0.75"/> </g> </g> <g id="text_59" transform="translate(0 0.75)"> <text style="font-size: 14px; font-family: 'DejaVu Sans', sans-serif; text-anchor: end" x="899.75" y="249.53" transform="rotate(-0 899.75 249.53)">−5</text> </g> </g> <g id="ytick_127"> <g id="line2d_248"> <g> <use href="#m0e9212ec3c" x="903.75" y="211.87" style="stroke: #000000; stroke-width: 0.75"/> </g> </g> <g id="text_60" transform="translate(0 0.75)"> <text style="font-size: 14px; font-family: 'DejaVu Sans', sans-serif; text-anchor: end" x="899.75" y="217.19" transform="rotate(-0 899.75 217.19)">0</text> </g> </g> <g id="ytick_128"> <g id="line2d_249"> <g> <use href="#m0e9212ec3c" x="903.75" y="179.53" style="stroke: #000000; stroke-width: 0.75"/> </g> </g> <g id="text_61" transform="translate(0 0.75)"> <text style="font-size: 14px; font-family: 'DejaVu Sans', sans-serif; text-anchor: end" x="899.75" y="184.85" transform="rotate(-0 899.75 184.85)">5</text> </g> </g> <g id="ytick_129"> <g id="line2d_250"> <g> <use href="#m0e9212ec3c" x="903.75" y="147.18" style="stroke: #000000; stroke-width: 0.75"/> </g> </g> <g id="text_62" transform="translate(0 0.75)"> <text style="font-size: 14px; font-family: 'DejaVu Sans', sans-serif; text-anchor: end" x="899.75" y="152.50" transform="rotate(-0 899.75 152.50)">10</text> </g> </g> <g id="ytick_130"> <g id="line2d_251"> <g> <use href="#m0e9212ec3c" x="903.75" y="114.84" style="stroke: #000000; stroke-width: 0.75"/> </g> </g> <g id="text_63" transform="translate(0 0.75)"> <text style="font-size: 14px; font-family: 'DejaVu Sans', sans-serif; text-anchor: end" x="899.75" y="120.16" transform="rotate(-0 899.75 120.16)">15</text> </g> </g> <g id="ytick_131"> <g id="line2d_252"> <g> <use href="#m0e9212ec3c" x="903.75" y="82.5" style="stroke: #000000; stroke-width: 0.75"/> </g> </g> <g id="text_64" transform="translate(0 0.75)"> <text style="font-size: 14px; font-family: 'DejaVu Sans', sans-serif; text-anchor: end" x="899.75" y="87.81" transform="rotate(-0 899.75 87.81)">20</text> </g> </g> </g> <g id="patch_75"> <path d="M 903.75 341.25 L 903.75 82.5 " style="fill: none; stroke: #000000; stroke-width: 1.5; stroke-linejoin: miter; stroke-linecap: square"/> </g> <g id="patch_76"> <path d="M 1350 341.25 L 1350 82.5 " style="fill: none; stroke: #000000; stroke-width: 1.5; stroke-linejoin: miter; stroke-linecap: square"/> </g> <g id="patch_77"> <path d="M 903.75 341.25 L 1350 341.25 " style="fill: none; stroke: #000000; stroke-width: 1.5; stroke-linejoin: miter; stroke-linecap: square"/> </g> <g id="patch_78"> <path d="M 903.75 82.5 L 1350 82.5 " style="fill: none; stroke: #000000; stroke-width: 1.5; stroke-linejoin: miter; stroke-linecap: square"/> </g> <g id="patch_79"> <path d="M 904.5 205.13 L 905.25 204.45 L 906 210.86 L 906.75 213.94 L 907.5 212.56 L 908.25 211.33 L 909 216.61 L 909.75 202.88 L 910.5 215.01 L 911.25 218.33 L 912 217.67 L 912.75 219.38 L 913.5 210.86 L 914.25 199.07 L 915 206.20 L 915.75 206.94 L 916.5 206.96 L 917.25 197.70 L 918 205.75 L 918.75 205.14 L 919.5 206.10 L 920.25 196.33 L 921 204.75 L 921.75 205.51 L 922.5 201.46 L 923.25 197.92 L 924 205.03 L 924.75 201.65 L 925.5 209.74 L 926.25 195.80 L 927 193.09 L 927.75 189.23 L 928.5 197.24 L 929.25 183.48 L 930 187.53 L 930.75 183.71 L 931.5 189.95 L 932.25 204.10 L 933 194.41 L 933.75 191.92 L 934.5 184.21 L 935.25 184.38 L 936 186.21 L 936.75 197.01 L 937.5 195.57 L 938.25 192.96 L 939 192.96 L 939.75 190.31 L 940.5 197.68 L 941.25 200.10 L 942 185.46 L 942.75 185.47 L 943.5 190.69 L 944.25 190.48 L 945 201.50 L 945.75 203.05 L 946.5 200.74 L 947.25 201.83 L 948 195.66 L 948.75 195.11 L 949.5 204.93 L 950.25 209.06 L 951 209.06 L 951.75 203.11 L 952.5 187.58 L 953.25 187.66 L 954 190.58 L 954.75 198.45 L 955.5 200.20 L 956.25 203.63 L 957 205.27 L 957.75 190.55 L 958.5 198.93 L 959.25 208.25 L 960 190.38 L 960.75 190.38 L 961.5 190.85 L 962.25 192.71 L 963 197.72 L 963.75 207.46 L 964.5 204.09 L 965.25 195.87 L 966 201.27 L 966.75 207.41 L 967.5 199.60 L 968.25 210.77 L 969 211.72 L 969.75 212.77 L 970.5 213.25 L 971.25 211.22 L 972 212.64 L 972.75 212.87 L 973.5 207.81 L 974.25 207.81 L 975 213.08 L 975.75 215.10 L 976.5 211.59 L 977.25 212.67 L 978 212.49 L 978.75 219.05 L 979.5 217.03 L 980.25 208.57 L 981 215.53 L 981.75 213.18 L 982.5 209.75 L 983.25 201.57 L 984 196.06 L 984.75 196.98 L 985.5 197.33 L 986.25 202.09 L 987 200.71 L 987.75 195.93 L 988.5 197.00 L 989.25 196.12 L 990 192.13 L 990.75 192.05 L 991.5 194.30 L 992.25 194.32 L 993 194.35 L 993.75 191.60 L 994.5 191.60 L 995.25 199.86 L 996 199.90 L 996.75 198.75 L 997.5 199.59 L 998.25 198.56 L 999 199.73 L 999.75 200.98 L 1000.5 198.63 L 1001.25 201.39 L 1002 199.82 L 1002.75 197.67 L 1003.5 200.40 L 1004.25 200.71 L 1005 204.90 L 1005.75 208.18 L 1006.5 204.37 L 1007.25 202.19 L 1008 201.17 L 1008.75 198.85 L 1009.5 200.88 L 1010.25 206.66 L 1011 207.92 L 1011.75 206.80 L 1012.5 192.94 L 1013.25 196.80 L 1014 210.53 L 1014.75 211.68 L 1015.5 206.75 L 1016.25 205.90 L 1017 203.29 L 1017.75 189.73 L 1018.5 190.40 L 1019.25 195.66 L 1020 200.73 L 1020.75 185.16 L 1021.5 207.86 L 1022.25 201.79 L 1023 207.21 L 1023.75 210.31 L 1024.5 195.04 L 1025.25 195.04 L 1026 198.64 L 1026.75 207.02 L 1027.5 210.02 L 1028.25 211.35 L 1029 210.04 L 1029.75 214.02 L 1030.5 218.27 L 1031.25 219.61 L 1032 225.01 L 1032.75 223.90 L 1033.5 221.74 L 1034.25 222.26 L 1035 219.10 L 1035.75 225.54 L 1036.5 225.31 L 1037.25 217.89 L 1038 228.25 L 1038.75 228.17 L 1039.5 228.58 L 1040.25 229.89 L 1041 230.41 L 1041.75 220.11 L 1042.5 217.19 L 1043.25 214.73 L 1044 217.68 L 1044.75 210.08 L 1045.5 214.19 L 1046.25 211.94 L 1047 205.29 L 1047.75 200.94 L 1048.5 199.28 L 1049.25 209.96 L 1050 208.39 L 1050.75 213.07 L 1051.5 207.99 L 1052.25 206.20 L 1053 204.74 L 1053.75 202.65 L 1054.5 203.00 L 1055.25 203.19 L 1056 199.38 L 1056.75 195.82 L 1057.5 198.41 L 1058.25 198.75 L 1059 197.20 L 1059.75 191.15 L 1060.5 191.15 L 1061.25 207.34 L 1062 207.20 L 1062.75 203.18 L 1063.5 201.82 L 1064.25 196.70 L 1065 198.59 L 1065.75 202.55 L 1066.5 203.97 L 1067.25 206.74 L 1068 220.56 L 1068.75 224.41 L 1069.5 221.54 L 1070.25 215.12 L 1071 211.25 L 1071.75 206.57 L 1072.5 210.92 L 1073.25 209.71 L 1074 202.67 L 1074.75 209.80 L 1075.5 212.33 L 1076.25 213.02 L 1077 215.47 L 1077.75 214.12 L 1078.5 203.27 L 1079.25 201.90 L 1080 200.58 L 1080.75 196.87 L 1081.5 197.98 L 1082.25 196.37 L 1083 195.36 L 1083.75 197.26 L 1084.5 180 L 1085.25 183.57 L 1086 190.15 L 1086.75 195.49 L 1087.5 198.99 L 1088.25 197.79 L 1089 192.38 L 1089.75 193.11 L 1090.5 193.02 L 1091.25 182.77 L 1092 190.46 L 1092.75 192.86 L 1093.5 192.92 L 1094.25 194.42 L 1095 189.18 L 1095.75 190.15 L 1096.5 194.23 L 1097.25 198.52 L 1098 191.16 L 1098.75 194.82 L 1099.5 195.59 L 1100.25 200.45 L 1101 204.50 L 1101.75 207.66 L 1102.5 192.93 L 1103.25 192.9 L 1104 199.68 L 1104.75 200.29 L 1105.5 200.29 L 1106.25 202.53 L 1107 201.82 L 1107.75 200.94 L 1108.5 194.80 L 1109.25 189.82 L 1110 196.28 L 1110.75 197.38 L 1111.5 190.32 L 1112.25 190.44 L 1113 197.05 L 1113.75 205.59 L 1114.5 196.39 L 1115.25 196.47 L 1116 208.96 L 1116.75 208.96 L 1117.5 210.11 L 1118.25 203.96 L 1119 200.98 L 1119.75 198.12 L 1120.5 198.12 L 1121.25 198.82 L 1122 208.58 L 1122.75 214.39 L 1123.5 218.29 L 1124.25 221.18 L 1125 220.06 L 1125.75 222.56 L 1126.5 211.35 L 1127.25 211.35 L 1128 211.79 L 1128.75 211.68 L 1129.5 214.79 L 1130.25 207.49 L 1131 210.74 L 1131.75 211.94 L 1132.5 207.99 L 1133.25 206.03 L 1134 203.26 L 1134.75 200.80 L 1135.5 195.40 L 1136.25 192.26 L 1137 191.02 L 1137.75 191.02 L 1138.5 184.97 L 1139.25 180.16 L 1140 177.38 L 1140.75 166.5 L 1141.5 174.29 L 1142.25 180.23 L 1143 184.87 L 1143.75 181.00 L 1144.5 183.68 L 1145.25 175.85 L 1146 179.65 L 1146.75 187.39 L 1147.5 199.59 L 1148.25 181.59 L 1149 194.05 L 1149.75 181.73 L 1150.5 186.12 L 1151.25 190.32 L 1152 179.72 L 1152.75 197.78 L 1153.5 201.56 L 1154.25 213.27 L 1155 211.76 L 1155.75 204.47 L 1156.5 202.66 L 1157.25 180.93 L 1158 180.93 L 1158.75 180.93 L 1159.5 192.11 L 1160.25 189.52 L 1161 194.98 L 1161.75 196.15 L 1162.5 200.03 L 1163.25 192.80 L 1164 187.26 L 1164.75 183.34 L 1165.5 183.34 L 1166.25 208.53 L 1167 219.39 L 1167.75 183.62 L 1168.5 195.71 L 1169.25 185.38 L 1170 179.29 L 1170.75 202.91 L 1171.5 190.01 L 1172.25 184.33 L 1173 184.92 L 1173.75 207.12 L 1174.5 209.69 L 1175.25 205.12 L 1176 201.31 L 1176.75 192.80 L 1177.5 193.62 L 1178.25 204.37 L 1179 208.90 L 1179.75 198.24 L 1180.5 190.11 L 1181.25 200.61 L 1182 197.48 L 1182.75 191.36 L 1183.5 181.31 L 1184.25 181.72 L 1185 197.73 L 1185.75 194.65 L 1186.5 195.51 L 1187.25 193.32 L 1188 183.30 L 1188.75 183.44 L 1189.5 182.48 L 1190.25 190.41 L 1191 187.26 L 1191.75 188.50 L 1192.5 178.18 L 1193.25 189.11 L 1194 185.33 L 1194.75 178.74 L 1195.5 178.78 L 1196.25 188.05 L 1197 181.28 L 1197.75 187.02 L 1198.5 189.11 L 1199.25 190.61 L 1200 194.77 L 1200.75 182.51 L 1201.5 190.26 L 1202.25 184.59 L 1203 190.09 L 1203.75 193.19 L 1204.5 193.62 L 1205.25 195.06 L 1206 195.06 L 1206.75 193.38 L 1207.5 183.44 L 1208.25 190.28 L 1209 182.80 L 1209.75 190.93 L 1210.5 185.16 L 1211.25 184.00 L 1212 190.58 L 1212.75 185.36 L 1213.5 186.01 L 1214.25 186.17 L 1215 192.54 L 1215.75 192.38 L 1216.5 192.11 L 1217.25 192.91 L 1218 197.75 L 1218.75 199.45 L 1219.5 200.12 L 1220.25 198.11 L 1221 197.61 L 1221.75 189.16 L 1222.5 196.96 L 1223.25 192.18 L 1224 195.48 L 1224.75 194.95 L 1225.5 196.31 L 1226.25 194.79 L 1227 190.07 L 1227.75 195.31 L 1228.5 208.26 L 1229.25 199.60 L 1230 213.30 L 1230.75 203.00 L 1231.5 203.00 L 1232.25 197.48 L 1233 205.63 L 1233.75 199.17 L 1234.5 213.01 L 1235.25 202.28 L 1236 193.51 L 1236.75 200.54 L 1237.5 202.82 L 1238.25 208.32 L 1239 208.39 L 1239.75 210.29 L 1240.5 210.91 L 1241.25 210.96 L 1242 214.03 L 1242.75 195.98 L 1243.5 198.10 L 1244.25 203.90 L 1245 191.61 L 1245.75 206.86 L 1246.5 208.40 L 1247.25 214.08 L 1248 215.00 L 1248.75 209.72 L 1249.5 199.30 L 1250.25 197.15 L 1251 205.62 L 1251.75 200.56 L 1252.5 192.18 L 1253.25 186.48 L 1254 197.20 L 1254.75 208.72 L 1255.5 207.25 L 1256.25 194.06 L 1257 191.22 L 1257.75 201.08 L 1258.5 194.42 L 1259.25 203.96 L 1260 200.98 L 1260.75 192.50 L 1261.5 205.35 L 1262.25 209.21 L 1263 206.50 L 1263.75 203.03 L 1264.5 199.88 L 1265.25 201.13 L 1266 208.82 L 1266.75 209.44 L 1267.5 208.90 L 1268.25 204.42 L 1269 210.17 L 1269.75 211.82 L 1270.5 211.13 L 1271.25 207.18 L 1272 201.19 L 1272.75 193.79 L 1273.5 201.47 L 1274.25 201.72 L 1275 201.07 L 1275.75 203.67 L 1276.5 198.91 L 1277.25 192.58 L 1278 203.79 L 1278.75 203.80 L 1279.5 207.12 L 1280.25 207.66 L 1281 210.72 L 1281.75 208.23 L 1282.5 206.28 L 1283.25 207.43 L 1284 209.38 L 1284.75 209.92 L 1285.5 205.33 L 1286.25 206.47 L 1287 211.82 L 1287.75 212.28 L 1288.5 203.35 L 1289.25 204.53 L 1290 213.43 L 1290.75 216.41 L 1291.5 212.88 L 1292.25 209.57 L 1293 216.11 L 1293.75 217.82 L 1293.75 228.75 L 1293 228.75 L 1292.25 227.29 L 1291.5 231.54 L 1290.75 223.97 L 1290 225.05 L 1289.25 229.57 L 1288.5 221.05 L 1287.75 223.13 L 1287 222.29 L 1286.25 216.24 L 1285.5 220.83 L 1284.75 214.23 L 1284 213.41 L 1283.25 211.27 L 1282.5 208.26 L 1281.75 210.88 L 1281 219.28 L 1280.25 219.28 L 1279.5 217.62 L 1278.75 209.90 L 1278 214.90 L 1277.25 213.83 L 1276.5 215.02 L 1275.75 212.46 L 1275 209.08 L 1274.25 204.13 L 1273.5 207.96 L 1272.75 205.64 L 1272 207.53 L 1271.25 211.75 L 1270.5 216.68 L 1269.75 219.02 L 1269 221.70 L 1268.25 218.00 L 1267.5 218.00 L 1266.75 214.89 L 1266 223.28 L 1265.25 211.54 L 1264.5 217.70 L 1263.75 210.10 L 1263 209.70 L 1262.25 217.24 L 1261.5 225.72 L 1260.75 225.72 L 1260 216.01 L 1259.25 218.39 L 1258.5 221.06 L 1257.75 226.60 L 1257 209.11 L 1256.25 208.91 L 1255.5 213.88 L 1254.75 217.93 L 1254 214.96 L 1253.25 208.02 L 1252.5 214.83 L 1251.75 211.27 L 1251 207.24 L 1250.25 206.15 L 1249.5 217.31 L 1248.75 219.01 L 1248 221.90 L 1247.25 223.39 L 1246.5 222.25 L 1245.75 235.53 L 1245 230.63 L 1244.25 235.77 L 1243.5 215.62 L 1242.75 222.42 L 1242 236.27 L 1241.25 215.64 L 1240.5 225.58 L 1239.75 228.44 L 1239 221.10 L 1238.25 222.42 L 1237.5 222.42 L 1236.75 217.35 L 1236 231.84 L 1235.25 220.99 L 1234.5 227.77 L 1233.75 233.64 L 1233 233.57 L 1232.25 232.92 L 1231.5 222.15 L 1230.75 223.59 L 1230 224.54 L 1229.25 224.54 L 1228.5 222.98 L 1227.75 208.78 L 1227 208.78 L 1226.25 212.08 L 1225.5 209.13 L 1224.75 205.96 L 1224 203.70 L 1223.25 196.96 L 1222.5 214.05 L 1221.75 214.18 L 1221 202.14 L 1220.25 200.58 L 1219.5 208.18 L 1218.75 203.53 L 1218 202.16 L 1217.25 201.31 L 1216.5 199.88 L 1215.75 196.42 L 1215 197.53 L 1214.25 200.46 L 1213.5 207.08 L 1212.75 203.34 L 1212 195.20 L 1211.25 199.36 L 1210.5 199.36 L 1209.75 210.55 L 1209 199.18 L 1208.25 202.99 L 1207.5 208.15 L 1206.75 203.81 L 1206 203.12 L 1205.25 198.68 L 1204.5 199.70 L 1203.75 196.85 L 1203 196.85 L 1202.25 199.21 L 1201.5 197.90 L 1200.75 201.26 L 1200 198.80 L 1199.25 201.05 L 1198.5 202.62 L 1197.75 198.56 L 1197 201.55 L 1196.25 211.01 L 1195.5 207.34 L 1194.75 203.07 L 1194 196.19 L 1193.25 211.76 L 1192.5 195.47 L 1191.75 199.45 L 1191 198.67 L 1190.25 195.36 L 1189.5 197.99 L 1188.75 205.12 L 1188 201.29 L 1187.25 208.19 L 1186.5 201.99 L 1185.75 202.26 L 1185 207.12 L 1184.25 204.73 L 1183.5 193.94 L 1182.75 222.39 L 1182 207.15 L 1181.25 211.22 L 1180.5 211.22 L 1179.75 228.49 L 1179 222.83 L 1178.25 212.25 L 1177.5 207.48 L 1176.75 204.24 L 1176 212.07 L 1175.25 223.13 L 1174.5 225.69 L 1173.75 245.75 L 1173 248.62 L 1172.25 249.34 L 1171.5 224.79 L 1170.75 218.54 L 1170 226.94 L 1169.25 226.46 L 1168.5 226.46 L 1167.75 225.55 L 1167 230.52 L 1166.25 222.14 L 1165.5 212.01 L 1164.75 244.76 L 1164 216.94 L 1163.25 225.26 L 1162.5 210.65 L 1161.75 235.02 L 1161 235.02 L 1160.25 224.59 L 1159.5 222.09 L 1158.75 224.28 L 1158 214.50 L 1157.25 244.93 L 1156.5 224.05 L 1155.75 226.05 L 1155 222.09 L 1154.25 220.02 L 1153.5 213.74 L 1152.75 212.03 L 1152 227.57 L 1151.25 204.79 L 1150.5 203.00 L 1149.75 224.62 L 1149 224.62 L 1148.25 222.34 L 1147.5 233.25 L 1146.75 227.83 L 1146 202.25 L 1145.25 194.54 L 1144.5 193.78 L 1143.75 191.35 L 1143 187.85 L 1142.25 189.87 L 1141.5 187.03 L 1140.75 186.74 L 1140 182.40 L 1139.25 186.24 L 1138.5 194.14 L 1137.75 198.20 L 1137 205.63 L 1136.25 206.72 L 1135.5 203.91 L 1134.75 210.93 L 1134 212.94 L 1133.25 215.88 L 1132.5 218.47 L 1131.75 223.87 L 1131 220.03 L 1130.25 220.36 L 1129.5 226.70 L 1128.75 220.81 L 1128 219.53 L 1127.25 219.56 L 1126.5 229.98 L 1125.75 229.05 L 1125 230.41 L 1124.25 224.02 L 1123.5 222.63 L 1122.75 222.64 L 1122 227.41 L 1121.25 227.41 L 1120.5 225.52 L 1119.75 212.12 L 1119 208.01 L 1118.25 224.14 L 1117.5 214.27 L 1116.75 212.01 L 1116 212.07 L 1115.25 210.28 L 1114.5 218.58 L 1113.75 213.81 L 1113 211.66 L 1112.25 211.43 L 1111.5 208.76 L 1110.75 202.40 L 1110 204.20 L 1109.25 207.07 L 1108.5 208.19 L 1107.75 203.19 L 1107 210.11 L 1106.25 209.54 L 1105.5 208.21 L 1104.75 206.36 L 1104 212.43 L 1103.25 212.43 L 1102.5 211.88 L 1101.75 210.48 L 1101 210.23 L 1100.25 204.50 L 1099.5 201.15 L 1098.75 204.51 L 1098 206.62 L 1097.25 205.43 L 1096.5 209.71 L 1095.75 203.99 L 1095 206.70 L 1094.25 202.53 L 1093.5 200.25 L 1092.75 197.82 L 1092 195.49 L 1091.25 197.12 L 1090.5 195.33 L 1089.75 199.28 L 1089 199.42 L 1088.25 201.91 L 1087.5 200.88 L 1086.75 207.51 L 1086 211.99 L 1085.25 217.06 L 1084.5 218.27 L 1083.75 218.66 L 1083 204.15 L 1082.25 204.21 L 1081.5 207.51 L 1080.75 210.94 L 1080 216.36 L 1079.25 222.36 L 1078.5 222.36 L 1077.75 218.83 L 1077 217.20 L 1076.25 219.88 L 1075.5 215.96 L 1074.75 220.69 L 1074 215.74 L 1073.25 216.31 L 1072.5 214.28 L 1071.75 217.91 L 1071 218.26 L 1070.25 232.79 L 1069.5 232.80 L 1068.75 232.56 L 1068 232.08 L 1067.25 222.05 L 1066.5 220.18 L 1065.75 225.60 L 1065 225.60 L 1064.25 224.05 L 1063.5 221.69 L 1062.75 220.74 L 1062 210.22 L 1061.25 217.00 L 1060.5 216.91 L 1059.75 215.78 L 1059 213.94 L 1058.25 206.50 L 1057.5 202.52 L 1056.75 207.05 L 1056 214.63 L 1055.25 205.06 L 1054.5 203.75 L 1053.75 205.06 L 1053 208.18 L 1052.25 209.61 L 1051.5 218.27 L 1050.75 214.68 L 1050 214.19 L 1049.25 219.18 L 1048.5 214.52 L 1047.75 215.98 L 1047 219.00 L 1046.25 219.00 L 1045.5 227.50 L 1044.75 225.75 L 1044 219.41 L 1043.25 224.73 L 1042.5 234.64 L 1041.75 235.33 L 1041 231.74 L 1040.25 231.84 L 1039.5 234.65 L 1038.75 236.58 L 1038 236.72 L 1037.25 237.06 L 1036.5 232.72 L 1035.75 231.78 L 1035 229.72 L 1034.25 234.35 L 1033.5 225.84 L 1032.75 229.19 L 1032 228.26 L 1031.25 227.27 L 1030.5 227.84 L 1029.75 228.37 L 1029 229.05 L 1028.25 223.66 L 1027.5 214.45 L 1026.75 215 L 1026 211.32 L 1025.25 209.01 L 1024.5 226.62 L 1023.75 219.76 L 1023 215.14 L 1022.25 216.97 L 1021.5 209.65 L 1020.75 218.24 L 1020 204.92 L 1019.25 206.59 L 1018.5 232.56 L 1017.75 217.38 L 1017 211.06 L 1016.25 209.93 L 1015.5 215.16 L 1014.75 214.39 L 1014 215.28 L 1013.25 227.45 L 1012.5 228.49 L 1011.75 216.62 L 1011 222.02 L 1010.25 213.45 L 1009.5 214.68 L 1008.75 211.41 L 1008 209.85 L 1007.25 214.52 L 1006.5 214.88 L 1005.75 218.76 L 1005 213.77 L 1004.25 215.09 L 1003.5 208.66 L 1002.75 203.02 L 1002 208.99 L 1001.25 204.29 L 1000.5 212.96 L 999.75 202.76 L 999 202.35 L 998.25 202.66 L 997.5 203.72 L 996.75 207.59 L 996 208.29 L 995.25 206.91 L 994.5 203.68 L 993.75 200.61 L 993 206.43 L 992.25 203.73 L 991.5 203.88 L 990.75 203.88 L 990 198.06 L 989.25 199.10 L 988.5 200.01 L 987.75 208.88 L 987 207.97 L 986.25 211.90 L 985.5 215.45 L 984.75 214.83 L 984 212.96 L 983.25 211.59 L 982.5 215.13 L 981.75 216.16 L 981 217.76 L 980.25 218.98 L 979.5 219.05 L 978.75 224.82 L 978 224.88 L 977.25 224.91 L 976.5 218.83 L 975.75 221.74 L 975 222.63 L 974.25 221.18 L 973.5 218.73 L 972.75 218.76 L 972 221.78 L 971.25 220.22 L 970.5 219.64 L 969.75 217.66 L 969 218.16 L 968.25 225.37 L 967.5 217.48 L 966.75 210.39 L 966 214.88 L 965.25 213.93 L 964.5 218.49 L 963.75 221.54 L 963 223.41 L 962.25 225.32 L 961.5 210.76 L 960.75 220.94 L 960 213.26 L 959.25 214.01 L 958.5 219.84 L 957.75 211.35 L 957 210.28 L 956.25 210.63 L 955.5 209.08 L 954.75 212.49 L 954 217.98 L 953.25 206.46 L 952.5 205.40 L 951.75 209.32 L 951 213.97 L 950.25 213.68 L 949.5 211.57 L 948.75 221.43 L 948 221.43 L 947.25 212.05 L 946.5 211.39 L 945.75 213.55 L 945 209.24 L 944.25 210.02 L 943.5 199.96 L 942.75 209.27 L 942 204.74 L 941.25 214.40 L 940.5 210.93 L 939.75 223.00 L 939 223.11 L 938.25 198.63 L 937.5 202.82 L 936.75 208.10 L 936 211.09 L 935.25 204.68 L 934.5 211.09 L 933.75 203.61 L 933 207.22 L 932.25 210.92 L 931.5 208.25 L 930.75 220.00 L 930 224.38 L 929.25 218.58 L 928.5 207.93 L 927.75 200.74 L 927 202.02 L 926.25 220.41 L 925.5 224.40 L 924.75 217.39 L 924 213.15 L 923.25 212.83 L 922.5 209.96 L 921.75 211.06 L 921 207.16 L 920.25 208.41 L 919.5 219.50 L 918.75 217.39 L 918 217.39 L 917.25 220.53 L 916.5 216.73 L 915.75 210.01 L 915 225.85 L 914.25 219.79 L 913.5 222.41 L 912.75 222.49 L 912 226.59 L 911.25 223.72 L 910.5 226.53 L 909.75 220.95 L 909 226.07 L 908.25 225.12 L 907.5 217.29 L 906.75 215.02 L 906 214.49 L 905.25 214.31 L 904.5 223.05 z " clip-path="url(#p6bc8700808)" style="stroke: #000000; stroke-width: 1.5"/> </g> <g id="line2d_253"> <path d="M 1294.36 341.25 L 1294.36 82.5 " clip-path="url(#p6bc8700808)" style="fill: none; stroke-dasharray: 1.5,2.47; stroke-dashoffset: 0; stroke: #1f77b4; stroke-width: 1.5"/> </g> </g> <g id="axes_6"> <g id="matplotlib.axis_11"> <g id="ytick_132"> <g id="line2d_254"> <defs> <path id="m8e874cb3b3" d="M 0 0 L -4 0 " style="stroke: #ff0000; stroke-width: 0.75"/> </defs> <g> <use href="#m8e874cb3b3" x="1350" y="341.25" style="fill: #ff0000; stroke: #ff0000; stroke-width: 0.75"/> </g> </g> <g id="text_65" transform="translate(0 0.75)"> <text style="font-size: 14px; font-family: 'DejaVu Sans', sans-serif; text-anchor: start; fill: #ff0000" x="1354" y="346.56" transform="rotate(-0 1354 346.56)">0</text> </g> </g> <g id="ytick_133"> <g id="line2d_255"> <g> <use href="#m8e874cb3b3" x="1350" y="289.5" style="fill: #ff0000; stroke: #ff0000; stroke-width: 0.75"/> </g> </g> <g id="text_66" transform="translate(0 0.75)"> <text style="font-size: 14px; font-family: 'DejaVu Sans', sans-serif; text-anchor: start; fill: #ff0000" x="1354" y="294.81" transform="rotate(-0 1354 294.81)">200</text> </g> </g> <g id="ytick_134"> <g id="line2d_256"> <g> <use href="#m8e874cb3b3" x="1350" y="237.75" style="fill: #ff0000; stroke: #ff0000; stroke-width: 0.75"/> </g> </g> <g id="text_67" transform="translate(0 0.75)"> <text style="font-size: 14px; font-family: 'DejaVu Sans', sans-serif; text-anchor: start; fill: #ff0000" x="1354" y="243.06" transform="rotate(-0 1354 243.06)">400</text> </g> </g> <g id="ytick_135"> <g id="line2d_257"> <g> <use href="#m8e874cb3b3" x="1350" y="186" style="fill: #ff0000; stroke: #ff0000; stroke-width: 0.75"/> </g> </g> <g id="text_68" transform="translate(0 0.75)"> <text style="font-size: 14px; font-family: 'DejaVu Sans', sans-serif; text-anchor: start; fill: #ff0000" x="1354" y="191.31" transform="rotate(-0 1354 191.31)">600</text> </g> </g> <g id="ytick_136"> <g id="line2d_258"> <g> <use href="#m8e874cb3b3" x="1350" y="134.25" style="fill: #ff0000; stroke: #ff0000; stroke-width: 0.75"/> </g> </g> <g id="text_69" transform="translate(0 0.75)"> <text style="font-size: 14px; font-family: 'DejaVu Sans', sans-serif; text-anchor: start; fill: #ff0000" x="1354" y="139.56" transform="rotate(-0 1354 139.56)">800</text> </g> </g> <g id="ytick_137"> <g id="line2d_259"> <g> <use href="#m8e874cb3b3" x="1350" y="82.5" style="fill: #ff0000; stroke: #ff0000; stroke-width: 0.75"/> </g> </g> <g id="text_70" transform="translate(0 0.75)"> <text style="font-size: 14px; font-family: 'DejaVu Sans', sans-serif; text-anchor: start; fill: #ff0000" x="1354" y="87.81" transform="rotate(-0 1354 87.81)">1000</text> </g> </g> </g> <g id="patch_80"> <path d="M 903.75 341.25 L 903.75 82.5 " style="fill: none; stroke: #000000; stroke-width: 1.5; stroke-linejoin: miter; stroke-linecap: square"/> </g> <g id="patch_81"> <path d="M 1350 341.25 L 1350 82.5 " style="fill: none; stroke: #ff0000; stroke-width: 1.5; stroke-linejoin: miter; stroke-linecap: square"/> </g> <g id="patch_82"> <path d="M 903.75 341.25 L 1350 341.25 " style="fill: none; stroke: #000000; stroke-width: 1.5; stroke-linejoin: miter; stroke-linecap: square"/> </g> <g id="patch_83"> <path d="M 903.75 82.5 L 1350 82.5 " style="fill: none; stroke: #000000; stroke-width: 1.5; stroke-linejoin: miter; stroke-linecap: square"/> </g> <g id="line2d_260"> <path d="M 904.12 241.66 L 904.5 243.51 L 904.87 242.65 L 905.25 242.50 L 905.62 242.48 L 906 241.24 L 906.37 242.55 L 906.75 243.11 L 907.12 244.00 L 907.5 243.60 L 907.87 244.04 L 908.25 244.21 L 908.62 243.13 L 909 244.16 L 909.37 243.79 L 909.75 242.90 L 910.12 242.80 L 910.5 245.39 L 910.87 246.19 L 911.25 246.35 L 911.62 244.18 L 912 246.99 L 912.37 247.43 L 912.75 245.41 L 913.5 248.72 L 913.87 247.43 L 914.25 248.94 L 914.62 247.46 L 915 248.13 L 915.37 249.77 L 915.75 249.07 L 916.12 249.75 L 916.5 250.10 L 916.87 249.32 L 917.25 252.30 L 917.62 250.86 L 918.37 250.84 L 918.75 251.52 L 919.12 250.64 L 919.5 252.65 L 919.87 251.55 L 920.25 252.88 L 920.62 251.30 L 921 251.31 L 921.37 251.56 L 921.75 252.90 L 922.12 251.45 L 922.5 253.83 L 922.87 252.77 L 923.25 254.05 L 923.62 252.15 L 924 252.82 L 924.37 250.34 L 924.75 249.70 L 925.12 250.88 L 925.5 249.12 L 925.87 250.22 L 926.25 247.83 L 926.62 248.51 L 927.37 246.18 L 927.75 249.46 L 928.12 247.76 L 928.5 248.98 L 928.87 248.16 L 929.25 246.20 L 929.62 248.39 L 930 249.09 L 930.37 249.31 L 930.75 249.67 L 931.12 248.38 L 931.5 247.87 L 931.87 248.05 L 932.25 246.77 L 932.62 248.74 L 933 248.72 L 933.37 248.33 L 933.75 247.17 L 934.12 248.64 L 934.5 247.40 L 934.87 249.30 L 935.25 247.54 L 936 248.17 L 936.37 247.59 L 936.75 247.90 L 937.12 248.70 L 937.5 246.61 L 937.87 251.39 L 938.25 249.87 L 938.62 249.95 L 939 248.90 L 939.37 250.17 L 939.75 250.13 L 940.12 250.40 L 940.5 248.93 L 940.87 250.51 L 941.25 248.84 L 941.62 250.75 L 942 250.20 L 942.75 251.12 L 943.12 252.49 L 943.5 253.05 L 944.25 250.65 L 944.62 252.90 L 945 249.49 L 945.37 249.97 L 945.75 249.91 L 946.12 248.95 L 946.5 250.70 L 946.87 249.32 L 947.25 249.61 L 947.62 247.78 L 948 248.58 L 948.37 247.11 L 948.75 246.70 L 949.12 246.76 L 949.87 246.22 L 950.25 245.47 L 950.62 244.19 L 951 245.48 L 951.37 243.09 L 951.75 245.64 L 952.12 245.15 L 952.5 246.91 L 952.87 243.30 L 953.25 248.27 L 953.62 245.89 L 954 244.65 L 954.37 246.81 L 954.75 246.94 L 955.12 246.93 L 955.5 248.82 L 955.87 245.75 L 956.25 246.98 L 956.62 246.89 L 957 246.09 L 957.75 248.24 L 958.12 246.10 L 958.5 247.52 L 958.87 248.16 L 959.25 247.85 L 959.62 245.57 L 960 247.59 L 960.37 246.98 L 960.75 248.85 L 961.12 247.64 L 961.5 250.00 L 961.87 246.87 L 962.25 248.86 L 962.62 247.62 L 963 250.57 L 963.37 250.55 L 963.75 248.15 L 964.12 250.09 L 964.5 249.45 L 964.87 247.99 L 965.25 248.79 L 965.62 250.17 L 966 250.80 L 966.37 250.06 L 966.75 250.95 L 967.5 251.44 L 967.87 250.24 L 968.25 251.94 L 968.62 252.69 L 969 250.91 L 969.37 254.40 L 969.75 254.65 L 970.12 253.63 L 970.5 255.97 L 970.87 253.29 L 971.25 253.47 L 971.62 254.14 L 972 254.37 L 972.37 257.37 L 972.75 255.83 L 973.12 256.01 L 973.5 256.56 L 973.87 257.95 L 974.25 256.58 L 974.62 256.13 L 975 256.91 L 975.37 258.05 L 975.75 256.64 L 976.12 258.44 L 976.5 257.40 L 976.87 257.01 L 977.25 257.82 L 977.62 259.47 L 978 257.27 L 978.37 259.07 L 979.12 257.38 L 979.5 256.56 L 979.87 256.66 L 980.62 254.79 L 981 254.39 L 981.37 252.11 L 981.75 251.62 L 982.12 250.56 L 982.5 250.54 L 982.87 249.98 L 983.25 249.11 L 983.62 249.63 L 984 248.09 L 984.37 248.82 L 985.12 250.82 L 985.5 249.13 L 985.87 250.32 L 986.25 250.50 L 986.62 248.02 L 987 249.33 L 987.37 247.99 L 988.12 249.50 L 988.5 247.76 L 988.87 249.63 L 989.25 248.93 L 989.62 248.82 L 990 249.63 L 990.37 248.22 L 990.75 247.32 L 991.12 249.10 L 991.5 248.33 L 991.87 248.87 L 992.25 247.93 L 993 248.16 L 993.37 248.08 L 993.75 248.75 L 994.12 248.97 L 994.5 250.00 L 994.87 253.43 L 995.25 249.70 L 995.62 248.89 L 996 251.31 L 996.37 249.63 L 996.75 250.17 L 997.5 251.51 L 997.87 251.72 L 998.25 252.09 L 998.62 251.90 L 999 253.35 L 999.37 253.26 L 999.75 252.03 L 1000.12 252.55 L 1000.5 251.56 L 1000.87 253.83 L 1001.25 253.12 L 1001.62 255.48 L 1002 253.01 L 1002.37 255.18 L 1002.75 252.57 L 1003.12 251.69 L 1003.5 252.45 L 1003.87 253.59 L 1004.25 254.19 L 1004.62 252.15 L 1005 253.95 L 1005.37 252.32 L 1005.75 252.24 L 1006.12 252.36 L 1006.5 254.28 L 1006.87 252.67 L 1007.25 252.71 L 1007.62 250.74 L 1008 252.37 L 1008.37 252.40 L 1008.75 253.69 L 1009.12 251.03 L 1009.5 251.10 L 1009.87 250.79 L 1010.25 250.97 L 1010.62 252.24 L 1011 250.63 L 1011.37 252.68 L 1012.12 250.39 L 1012.5 250.64 L 1012.87 249.87 L 1013.25 249.77 L 1013.62 252.42 L 1014 252.12 L 1014.37 250.19 L 1014.75 250.71 L 1015.12 252.80 L 1015.5 250.39 L 1015.87 251.34 L 1016.25 251.61 L 1016.62 250.86 L 1017 250.85 L 1017.37 250.67 L 1017.75 251.12 L 1018.12 249.37 L 1018.5 251.00 L 1018.87 251.12 L 1019.25 249.55 L 1019.62 251.35 L 1020.37 248.15 L 1020.75 248.71 L 1021.12 250.59 L 1021.5 250.85 L 1022.25 248.34 L 1023 250.34 L 1023.37 249.13 L 1023.75 247.45 L 1024.12 249.22 L 1024.5 248.32 L 1024.87 248.13 L 1025.25 248.15 L 1025.62 248.45 L 1026.37 246.44 L 1026.75 247.10 L 1027.12 247.13 L 1027.5 247.99 L 1027.87 245.39 L 1028.25 246.39 L 1028.62 245.50 L 1029 246.55 L 1029.37 245.59 L 1029.75 242.86 L 1030.12 246.88 L 1030.5 245.10 L 1031.25 243.98 L 1031.62 244.30 L 1032 243.94 L 1032.37 245.00 L 1032.75 245.17 L 1033.12 244.82 L 1033.5 245.14 L 1033.87 243.79 L 1034.25 245.15 L 1034.62 244.37 L 1035 244.99 L 1035.37 245.23 L 1035.75 244.28 L 1036.12 245.99 L 1036.5 245.60 L 1036.87 244.42 L 1037.25 246.71 L 1037.62 246.67 L 1038 243.44 L 1038.37 242.77 L 1038.75 244.51 L 1039.12 245.68 L 1039.5 246.22 L 1039.87 246.01 L 1040.25 245.37 L 1040.62 246.44 L 1041 246.24 L 1041.37 245.12 L 1041.75 245.85 L 1042.12 246.85 L 1042.5 245.19 L 1042.87 245.30 L 1043.25 245.18 L 1043.62 247.63 L 1044 246.92 L 1044.37 247.19 L 1044.75 246.04 L 1045.12 246.49 L 1045.5 247.85 L 1045.87 246.42 L 1046.25 248.01 L 1046.62 246.87 L 1047 246.97 L 1047.37 247.65 L 1047.75 248.06 L 1048.12 249.07 L 1048.5 247.01 L 1048.87 249.19 L 1049.25 246.78 L 1049.62 246.77 L 1050 245.46 L 1050.37 248.70 L 1050.75 249.45 L 1051.12 246.76 L 1051.5 247.71 L 1051.87 247.84 L 1052.25 246.56 L 1052.62 248.28 L 1053 248.57 L 1053.37 247.81 L 1053.75 247.33 L 1054.12 248.57 L 1054.5 249.10 L 1054.87 247.10 L 1055.25 248.50 L 1055.62 249.23 L 1056 245.84 L 1056.37 249.10 L 1056.75 250.58 L 1057.12 247.57 L 1057.5 250.28 L 1057.87 248.69 L 1058.25 249.67 L 1059.37 247.46 L 1059.75 251.72 L 1060.12 247.96 L 1060.5 249.11 L 1060.87 250.90 L 1061.25 249.81 L 1061.62 249.73 L 1062 247.54 L 1062.37 249.07 L 1062.75 248.59 L 1063.12 248.36 L 1063.5 250.83 L 1063.87 251.56 L 1064.25 250.16 L 1064.62 250.54 L 1065 251.90 L 1065.37 252.61 L 1065.75 250.87 L 1066.12 253.41 L 1066.5 253.42 L 1067.25 251.81 L 1067.62 253.79 L 1068 254.16 L 1068.37 255.51 L 1068.75 253.34 L 1069.12 255.83 L 1069.5 253.96 L 1069.87 254.90 L 1070.25 254.27 L 1070.62 254.51 L 1071 255.96 L 1071.37 253.79 L 1071.75 255.37 L 1072.12 254.28 L 1072.5 254.55 L 1072.87 253.88 L 1073.25 254.86 L 1073.62 252.63 L 1074.37 255.79 L 1074.75 255.65 L 1075.12 253.14 L 1075.5 253.69 L 1075.87 254.46 L 1076.25 256.81 L 1076.62 254.33 L 1077 254.64 L 1077.37 254.28 L 1077.75 254.73 L 1078.12 253.36 L 1078.5 254.44 L 1078.87 254.55 L 1079.25 255.02 L 1079.62 252.92 L 1080 254.64 L 1080.37 255.57 L 1080.75 254.29 L 1081.12 254.06 L 1081.5 250.71 L 1081.87 254.50 L 1082.25 254.98 L 1083 253.29 L 1083.37 253.51 L 1083.75 255.63 L 1084.12 251.68 L 1084.5 251.88 L 1084.87 253.32 L 1085.25 252.32 L 1085.62 249.94 L 1086 252.87 L 1086.37 253.47 L 1086.75 252.61 L 1087.12 254.43 L 1087.5 254.76 L 1087.87 253.10 L 1088.62 258.13 L 1089 258.18 L 1089.37 255.66 L 1089.75 255.93 L 1090.12 257.83 L 1090.5 258.11 L 1090.87 256.49 L 1091.25 257.17 L 1091.62 259.41 L 1092 258.31 L 1092.37 259.19 L 1092.75 258.14 L 1093.12 259.30 L 1093.5 257.74 L 1093.87 257.81 L 1094.25 257.42 L 1094.62 256.47 L 1095 258.11 L 1095.37 257.17 L 1096.12 258.85 L 1096.5 258.94 L 1096.87 259.22 L 1097.25 258.46 L 1097.62 258.87 L 1098 260.19 L 1098.37 258.89 L 1098.75 259.13 L 1099.12 256.61 L 1099.5 258.07 L 1099.87 260.42 L 1100.25 258.43 L 1100.62 258.27 L 1101 260.46 L 1101.37 258.23 L 1101.75 260.57 L 1102.12 259.34 L 1102.5 258.69 L 1102.87 257.11 L 1103.25 260.53 L 1103.62 257.15 L 1104 257.67 L 1104.37 259.68 L 1104.75 257.46 L 1105.12 259.19 L 1105.5 258.52 L 1105.87 258.18 L 1106.25 257.26 L 1106.62 257.58 L 1107 258.46 L 1107.37 257.05 L 1107.75 258.64 L 1108.12 258.13 L 1108.5 258.35 L 1108.87 258.19 L 1109.25 258.88 L 1109.62 259.03 L 1110 259.84 L 1110.37 259.71 L 1110.75 259.99 L 1111.12 259.04 L 1111.5 258.54 L 1111.87 260.73 L 1112.25 262.02 L 1112.62 260.39 L 1113 260.04 L 1113.75 262.76 L 1114.12 263.62 L 1114.87 261.68 L 1115.25 262.77 L 1115.62 263.47 L 1116 262.63 L 1116.37 263.67 L 1116.75 262.02 L 1117.12 263.38 L 1117.5 264.11 L 1117.87 261.30 L 1118.25 261.37 L 1118.62 262.89 L 1119 265.41 L 1119.37 262.62 L 1119.75 262.01 L 1120.12 263.34 L 1120.87 260.16 L 1121.25 260.80 L 1121.62 263.14 L 1122 259.91 L 1122.37 260.12 L 1122.75 262.41 L 1123.12 261.65 L 1123.5 262.69 L 1123.87 260.26 L 1124.25 260.54 L 1124.62 261.04 L 1125 260.44 L 1125.37 261.81 L 1125.75 262.20 L 1126.12 263.61 L 1126.5 262.95 L 1126.87 262.94 L 1127.62 265.17 L 1128 265.43 L 1128.75 264.60 L 1129.12 264.83 L 1129.5 263.74 L 1129.87 264.95 L 1130.25 264.64 L 1130.62 266.16 L 1131 264.45 L 1131.75 265.15 L 1132.12 261.61 L 1132.5 262.67 L 1133.25 263.03 L 1133.62 261.49 L 1134 263.36 L 1134.37 263.19 L 1134.75 262.55 L 1135.12 262.51 L 1135.5 260.43 L 1135.87 262.55 L 1136.62 258.21 L 1137 259.64 L 1137.37 259.27 L 1138.12 255.74 L 1138.5 255.59 L 1138.87 255.96 L 1139.25 252.78 L 1139.62 255.95 L 1140 255.79 L 1140.37 254.43 L 1140.75 255.60 L 1141.5 253.05 L 1141.87 254.78 L 1142.25 254.57 L 1142.62 252.89 L 1143 252.26 L 1143.37 252.58 L 1143.75 254.70 L 1144.12 253.04 L 1144.5 256.17 L 1144.87 252.41 L 1145.25 253.61 L 1145.62 253.19 L 1146 252.49 L 1146.37 253.47 L 1146.75 251.94 L 1147.12 253.11 L 1147.87 251.55 L 1148.25 254.24 L 1148.62 253.30 L 1149 253.47 L 1149.37 255.77 L 1149.75 255.32 L 1150.12 256.23 L 1150.5 257.97 L 1150.87 256.68 L 1151.25 257.30 L 1151.62 255.91 L 1152 256.97 L 1152.37 255.57 L 1152.75 252.17 L 1153.12 252.54 L 1154.25 247.70 L 1154.62 248.74 L 1155 245.05 L 1155.37 244.90 L 1155.75 244.89 L 1156.12 244.12 L 1156.5 241.92 L 1156.87 244.04 L 1157.25 243.85 L 1157.62 244.23 L 1158 241.35 L 1158.37 240.14 L 1158.75 241.68 L 1159.12 239.44 L 1159.5 240.30 L 1159.87 239.72 L 1160.25 240.18 L 1160.62 239.36 L 1161 240.40 L 1161.37 238.55 L 1161.75 241.86 L 1162.5 238.39 L 1162.87 237.87 L 1163.25 238.53 L 1164 237.55 L 1164.37 239.72 L 1164.75 239.12 L 1165.12 236.81 L 1165.5 238.37 L 1165.87 237.64 L 1166.25 238.30 L 1166.62 236.72 L 1167 239.57 L 1167.37 237.34 L 1167.75 239.27 L 1168.12 236.60 L 1168.5 238.44 L 1168.87 236.83 L 1169.25 238.62 L 1169.62 236.60 L 1170 235.59 L 1170.37 235.51 L 1170.75 235.89 L 1171.12 237.11 L 1171.87 236.45 L 1172.25 237.16 L 1172.62 237.43 L 1173 234.32 L 1173.37 236.10 L 1173.75 237.15 L 1174.12 233.74 L 1174.5 233.46 L 1174.87 234.15 L 1175.25 233.63 L 1175.62 232.50 L 1176 232.65 L 1176.37 234.09 L 1176.75 233.03 L 1177.12 230.89 L 1177.5 229.61 L 1177.87 229.96 L 1178.25 231.25 L 1178.62 230.17 L 1179 230.05 L 1179.37 231.62 L 1179.75 230.50 L 1180.12 230.33 L 1180.5 230.89 L 1180.87 232.13 L 1181.25 230.86 L 1181.62 231.20 L 1182 230.49 L 1182.37 231.97 L 1182.75 228.99 L 1183.12 229.04 L 1183.5 229.61 L 1183.87 232.21 L 1184.25 231.64 L 1184.62 228.80 L 1185 229.69 L 1185.37 231.03 L 1185.75 230.81 L 1186.12 231.95 L 1186.87 229.85 L 1187.25 232.52 L 1187.62 233.47 L 1188 230.83 L 1188.37 230.76 L 1188.75 232.54 L 1189.12 231.34 L 1189.5 233.73 L 1189.87 231.60 L 1190.25 233.13 L 1190.62 231.52 L 1191.37 231.65 L 1192.12 228.96 L 1192.5 230.52 L 1192.87 227.55 L 1193.25 230.10 L 1193.62 227.52 L 1194 227.14 L 1194.37 228.23 L 1195.12 228.59 L 1195.5 226.64 L 1195.87 227.38 L 1196.25 228.78 L 1196.62 228.93 L 1197 228.57 L 1197.37 230.14 L 1197.75 228.72 L 1198.12 230.01 L 1198.5 230.29 L 1199.25 229.19 L 1199.62 230.29 L 1200 230.10 L 1200.37 230.40 L 1200.75 228.97 L 1201.5 232.04 L 1201.87 230.38 L 1202.25 231.12 L 1202.62 231.03 L 1203 232.50 L 1203.37 229.72 L 1203.75 233.86 L 1204.12 233.02 L 1204.5 232.55 L 1204.87 233.38 L 1205.25 234.57 L 1205.62 234.09 L 1206 234.70 L 1206.37 235.56 L 1206.75 234.78 L 1207.5 236.65 L 1207.87 235.94 L 1208.25 234.96 L 1209 238.24 L 1209.37 236.02 L 1209.75 237.08 L 1210.12 237.31 L 1210.5 238.03 L 1210.87 236.93 L 1211.25 237.59 L 1211.62 239.90 L 1212.37 237.71 L 1212.75 239.44 L 1213.12 238.93 L 1213.5 240.72 L 1213.87 237.55 L 1214.25 239.25 L 1214.62 240.09 L 1215 237.67 L 1215.37 238.13 L 1215.75 239.33 L 1216.5 238.36 L 1216.87 238.91 L 1217.25 237.06 L 1217.62 237.56 L 1218 240.16 L 1218.37 237.60 L 1218.75 238.65 L 1219.12 238.06 L 1219.5 238.93 L 1219.87 238.30 L 1220.25 238.30 L 1220.62 239.01 L 1221 238.05 L 1221.37 235.86 L 1221.75 236.87 L 1222.12 239.10 L 1222.5 238.81 L 1223.25 236.24 L 1223.62 237.25 L 1224 240.25 L 1224.37 239.43 L 1224.75 239.55 L 1225.12 236.69 L 1225.5 237.05 L 1225.87 237.94 L 1226.25 237.24 L 1226.62 238.86 L 1227 237.71 L 1227.37 239.43 L 1227.75 238.80 L 1228.12 238.54 L 1228.5 239.89 L 1228.87 239.78 L 1229.25 239.54 L 1229.62 239.12 L 1230 239.54 L 1230.37 237.69 L 1230.75 237.75 L 1231.12 239.17 L 1231.5 240.11 L 1231.87 241.89 L 1232.62 239.23 L 1233 239.84 L 1233.37 239.13 L 1233.75 240.44 L 1234.5 240.52 L 1234.87 240.88 L 1235.25 241.71 L 1235.62 241.38 L 1236 239.51 L 1236.37 241.62 L 1236.75 239.73 L 1237.12 241.21 L 1237.5 240.95 L 1237.87 242.63 L 1238.25 240.82 L 1238.62 240.86 L 1239 240.72 L 1239.37 241.93 L 1240.12 240.84 L 1240.87 243.37 L 1241.25 242.91 L 1241.62 242.81 L 1242 240.74 L 1242.37 241.24 L 1242.75 241.54 L 1243.12 239.65 L 1243.5 243.23 L 1243.87 239.99 L 1244.25 241.93 L 1244.62 240.28 L 1245 241.72 L 1245.37 242.43 L 1245.75 242.09 L 1246.12 240.65 L 1246.5 240.84 L 1246.87 242.46 L 1247.25 241.41 L 1247.62 241.58 L 1248 242.41 L 1248.37 238.82 L 1248.75 241.67 L 1249.12 242.69 L 1249.5 243.21 L 1250.25 240.57 L 1250.62 242.30 L 1251 243.22 L 1251.37 240.61 L 1251.75 240.50 L 1252.12 241.07 L 1252.5 240.79 L 1252.87 239.08 L 1253.25 238.73 L 1253.62 239.80 L 1254 240.48 L 1254.37 241.56 L 1254.75 240.55 L 1255.12 241.26 L 1255.5 242.47 L 1255.87 244.12 L 1256.62 239.99 L 1257 241.93 L 1257.37 240.81 L 1257.75 241.07 L 1258.12 241.62 L 1258.5 241.33 L 1258.87 239.09 L 1259.25 239.17 L 1259.62 240.53 L 1260 240.89 L 1260.37 242.24 L 1260.75 240.60 L 1261.12 239.51 L 1261.87 238.96 L 1262.25 238.27 L 1262.62 238.17 L 1263.37 239.42 L 1263.75 238.44 L 1264.12 239.15 L 1264.5 238.76 L 1264.87 238.72 L 1265.25 238.41 L 1265.62 239.07 L 1266 238.69 L 1266.37 235.85 L 1266.75 238.76 L 1267.12 238.51 L 1267.5 237.68 L 1267.87 238.39 L 1268.25 237.41 L 1268.62 238.19 L 1269 237.09 L 1269.37 238.63 L 1269.75 238.22 L 1270.12 236.31 L 1270.5 237.01 L 1270.87 238.39 L 1271.62 237.68 L 1272 236.31 L 1272.37 236.71 L 1272.75 237.51 L 1273.12 237.58 L 1273.5 237.20 L 1273.87 236.30 L 1274.25 236.85 L 1274.62 236.51 L 1275 235.76 L 1275.37 235.76 L 1275.75 235.99 L 1276.12 235.21 L 1276.5 237.18 L 1276.87 237.42 L 1277.25 237.48 L 1277.62 235.70 L 1278 235.66 L 1278.37 236.62 L 1278.75 235.96 L 1279.5 236.68 L 1279.87 235.63 L 1280.25 238.87 L 1280.62 236.38 L 1281 236.52 L 1281.37 239.24 L 1281.75 237.57 L 1282.12 240.08 L 1282.5 239.61 L 1282.87 239.91 L 1283.25 239.43 L 1283.62 238.66 L 1284 239.17 L 1284.37 240.78 L 1284.75 240.84 L 1285.12 240.00 L 1285.87 240.77 L 1286.25 241.70 L 1287 242.91 L 1287.37 241.71 L 1287.75 243.66 L 1288.12 243.04 L 1288.5 243.92 L 1288.87 241.62 L 1289.25 243.22 L 1289.62 243.85 L 1290 241.03 L 1290.37 243.89 L 1290.75 243.48 L 1291.12 244.10 L 1291.5 243.45 L 1291.87 244.55 L 1292.25 243.06 L 1292.62 243.06 L 1293 244.44 L 1293.37 244.55 L 1293.75 242.52 L 1293.75 242.52 " clip-path="url(#p76e6bc1cc4)" style="fill: none; stroke: #ff0000; stroke-width: 1.5; stroke-linecap: square"/> </g> </g> <g id="axes_7"> <g id="patch_84"> <path d="M 903.75 616.5 L 1350 616.5 L 1350 358.5 L 903.75 358.5 z " style="fill: #ffffff"/> </g> <g id="line2d_261"> <path d="M 903.75 384.3 L 1350 384.3 " clip-path="url(#pde4ef6f5d1)" style="fill: none; stroke-dasharray: 1.5,2.47; stroke-dashoffset: 0; stroke: #000000; stroke-width: 1.5"/> </g> <g id="matplotlib.axis_12"> <g id="xtick_33"> <g id="line2d_262"> <g> <use href="#m734474134b" x="933.99" y="616.5" style="stroke: #000000; stroke-width: 0.75"/> </g> </g> </g> <g id="xtick_34"> <g id="line2d_263"> <g> <use href="#m734474134b" x="989.79" y="616.5" style="stroke: #000000; stroke-width: 0.75"/> </g> </g> </g> <g id="xtick_35"> <g id="line2d_264"> <g> <use href="#m734474134b" x="1045.59" y="616.5" style="stroke: #000000; stroke-width: 0.75"/> </g> </g> </g> <g id="xtick_36"> <g id="line2d_265"> <g> <use href="#m734474134b" x="1101.40" y="616.5" style="stroke: #000000; stroke-width: 0.75"/> </g> </g> </g> <g id="xtick_37"> <g id="line2d_266"> <g> <use href="#m734474134b" x="1157.20" y="616.5" style="stroke: #000000; stroke-width: 0.75"/> </g> </g> </g> <g id="xtick_38"> <g id="line2d_267"> <g> <use href="#m734474134b" x="1213.00" y="616.5" style="stroke: #000000; stroke-width: 0.75"/> </g> </g> </g> <g id="xtick_39"> <g id="line2d_268"> <g> <use href="#m734474134b" x="1268.80" y="616.5" style="stroke: #000000; stroke-width: 0.75"/> </g> </g> </g> <g id="xtick_40"> <g id="line2d_269"> <g> <use href="#m734474134b" x="1324.61" y="616.5" style="stroke: #000000; stroke-width: 0.75"/> </g> </g> </g> </g> <g id="matplotlib.axis_13"> <g id="ytick_138"> <g id="line2d_270"> <g> <use href="#m0e9212ec3c" x="903.75" y="384.3" style="stroke: #000000; stroke-width: 0.75"/> </g> </g> <g id="text_71" transform="translate(0 0.75)"> <text style="font-size: 14px; font-family: 'DejaVu Sans', sans-serif; text-anchor: end" x="899.75" y="389.61" transform="rotate(-0 899.75 389.61)">0</text> </g> </g> <g id="ytick_139"> <g id="line2d_271"> <g> <use href="#m0e9212ec3c" x="903.75" y="435.9" style="stroke: #000000; stroke-width: 0.75"/> </g> </g> <g id="text_72" transform="translate(0 0.75)"> <text style="font-size: 14px; font-family: 'DejaVu Sans', sans-serif; text-anchor: end" x="899.75" y="441.21" transform="rotate(-0 899.75 441.21)">−100</text> </g> </g> <g id="ytick_140"> <g id="line2d_272"> <g> <use href="#m0e9212ec3c" x="903.75" y="487.5" style="stroke: #000000; stroke-width: 0.75"/> </g> </g> <g id="text_73" transform="translate(0 0.75)"> <text style="font-size: 14px; font-family: 'DejaVu Sans', sans-serif; text-anchor: end" x="899.75" y="492.81" transform="rotate(-0 899.75 492.81)">−200</text> </g> </g> <g id="ytick_141"> <g id="line2d_273"> <g> <use href="#m0e9212ec3c" x="903.75" y="539.1" style="stroke: #000000; stroke-width: 0.75"/> </g> </g> <g id="text_74" transform="translate(0 0.75)"> <text style="font-size: 14px; font-family: 'DejaVu Sans', sans-serif; text-anchor: end" x="899.75" y="544.41" transform="rotate(-0 899.75 544.41)">−300</text> </g> </g> <g id="ytick_142"> <g id="line2d_274"> <g> <use href="#m0e9212ec3c" x="903.75" y="590.7" style="stroke: #000000; stroke-width: 0.75"/> </g> </g> <g id="text_75" transform="translate(0 0.75)"> <text style="font-size: 14px; font-family: 'DejaVu Sans', sans-serif; text-anchor: end" x="899.75" y="596.01" transform="rotate(-0 899.75 596.01)">−400</text> </g> </g> </g> <g id="patch_85"> <path d="M 903.75 616.5 L 903.75 358.5 " style="fill: none; stroke: #000000; stroke-width: 1.5; stroke-linejoin: miter; stroke-linecap: square"/> </g> <g id="patch_86"> <path d="M 1350 616.5 L 1350 358.5 " style="fill: none; stroke: #000000; stroke-width: 1.5; stroke-linejoin: miter; stroke-linecap: square"/> </g> <g id="patch_87"> <path d="M 903.75 616.5 L 1350 616.5 " style="fill: none; stroke: #000000; stroke-width: 1.5; stroke-linejoin: miter; stroke-linecap: square"/> </g> <g id="patch_88"> <path d="M 903.75 358.5 L 1350 358.5 " style="fill: none; stroke: #000000; stroke-width: 1.5; stroke-linejoin: miter; stroke-linecap: square"/> </g> <g id="line2d_275"> <path d="M 903.9 381.22 L 909 381.52 L 913.5 382.12 L 919.12 379.65 L 921.9 379.87 L 924.75 381.9 L 929.25 378.75 L 933.15 377.25 L 939.37 381.9 L 942.75 382.35 L 949.5 380.47 L 955.12 381.22 L 960.75 379.2 L 967.5 381 L 973.12 381.22 L 978.75 382.87 L 982.65 384.37 L 985.5 378.75 L 989.4 374.85 L 992.25 375.9 L 995.62 380.47 L 998.4 383.25 L 1002.9 376.72 L 1005.15 377.02 L 1008 379.87 L 1013.62 378.52 L 1019.25 376.72 L 1021.5 378.15 L 1024.87 383.02 L 1028.25 383.25 L 1032.75 384.6 L 1038.37 386.02 L 1045.12 383.77 L 1049.62 384 L 1054.12 382.35 L 1057.5 380.1 L 1060.87 379.87 L 1064.25 382.65 L 1069.87 386.02 L 1075.5 385.27 L 1081.12 382.65 L 1085.62 381.3 L 1089 382.65 L 1093.5 384.9 L 1101.37 380.1 L 1107 381.9 L 1113.75 381.75 L 1122 382.12 L 1127.62 383.77 L 1132.65 381.52 L 1138.27 375.9 L 1140 375.6 L 1145.02 379.27 L 1147.87 378.52 L 1151.77 378.52 L 1156.27 374.02 L 1159.65 377.4 L 1161.9 378.37 L 1165.27 381.52 L 1170.37 379.12 L 1174.87 380.4 L 1179.9 384.6 L 1185 383.47 L 1189.5 384.9 L 1195.65 381.9 L 1200.75 384.6 L 1205.25 385.5 L 1207.5 384.37 L 1212 380.4 L 1216.5 382.12 L 1222.12 382.12 L 1228.27 381 L 1233.37 382.65 L 1239 386.85 L 1244.62 384.9 L 1250.77 381.52 L 1257 382.65 L 1267.12 382.5 L 1276.12 385.27 L 1282.87 382.35 L 1288.5 382.35 L 1291.87 385.5 " clip-path="url(#pde4ef6f5d1)" style="fill: none; stroke: #000000; stroke-width: 1.5; stroke-linecap: square"/> </g> <g id="line2d_276"> <path d="M 1294.36 616.5 L 1294.36 358.5 " clip-path="url(#pde4ef6f5d1)" style="fill: none; stroke-dasharray: 1.5,2.47; stroke-dashoffset: 0; stroke: #1f77b4; stroke-width: 1.5"/> </g> </g> <g id="axes_8"> <g id="matplotlib.axis_14"> <g id="ytick_143"> <g id="line2d_277"> <g> <use href="#m8e874cb3b3" x="1350" y="616.5" style="fill: #ff0000; stroke: #ff0000; stroke-width: 0.75"/> </g> </g> <g id="text_76" transform="translate(0 0.75)"> <!-- $\mathdefault{10^{-2}}$ --> <g style="fill: #ff0000" transform="translate(1354 621.81)"> <text> <tspan x="0" y="-0.36" style="font-size: 14px; font-family: 'DejaVu Sans', sans-serif; fill: #ff0000">1</tspan> <tspan x="8.90" y="-0.36" style="font-size: 14px; font-family: 'DejaVu Sans', sans-serif; fill: #ff0000">0</tspan> <tspan x="17.94" y="-5.72" style="font-size: 9.8px; font-family: 'DejaVu Sans', sans-serif; fill: #ff0000">−</tspan> <tspan x="26.15" y="-5.72" style="font-size: 9.8px; font-family: 'DejaVu Sans', sans-serif; fill: #ff0000">2</tspan> </text> </g> </g> </g> <g id="ytick_144"> <g id="line2d_278"> <g> <use href="#m8e874cb3b3" x="1350" y="552" style="fill: #ff0000; stroke: #ff0000; stroke-width: 0.75"/> </g> </g> <g id="text_77" transform="translate(0 0.75)"> <!-- $\mathdefault{10^{-1}}$ --> <g style="fill: #ff0000" transform="translate(1354 557.31)"> <text> <tspan x="0" y="-0.49" style="font-size: 14px; font-family: 'DejaVu Sans', sans-serif; fill: #ff0000">1</tspan> <tspan x="8.90" y="-0.49" style="font-size: 14px; font-family: 'DejaVu Sans', sans-serif; fill: #ff0000">0</tspan> <tspan x="17.94" y="-5.85" style="font-size: 9.8px; font-family: 'DejaVu Sans', sans-serif; fill: #ff0000">−</tspan> <tspan x="26.15" y="-5.85" style="font-size: 9.8px; font-family: 'DejaVu Sans', sans-serif; fill: #ff0000">1</tspan> </text> </g> </g> </g> <g id="ytick_145"> <g id="line2d_279"> <g> <use href="#m8e874cb3b3" x="1350" y="487.5" style="fill: #ff0000; stroke: #ff0000; stroke-width: 0.75"/> </g> </g> <g id="text_78" transform="translate(0 0.75)"> <!-- $\mathdefault{10^{0}}$ --> <g style="fill: #ff0000" transform="translate(1354 492.81)"> <text> <tspan x="0" y="-0.36" style="font-size: 14px; font-family: 'DejaVu Sans', sans-serif; fill: #ff0000">1</tspan> <tspan x="8.90" y="-0.36" style="font-size: 14px; font-family: 'DejaVu Sans', sans-serif; fill: #ff0000">0</tspan> <tspan x="17.94" y="-5.72" style="font-size: 9.8px; font-family: 'DejaVu Sans', sans-serif; fill: #ff0000">0</tspan> </text> </g> </g> </g> <g id="ytick_146"> <g id="line2d_280"> <g> <use href="#m8e874cb3b3" x="1350" y="423" style="fill: #ff0000; stroke: #ff0000; stroke-width: 0.75"/> </g> </g> <g id="text_79" transform="translate(0 0.75)"> <!-- $\mathdefault{10^{1}}$ --> <g style="fill: #ff0000" transform="translate(1354 428.31)"> <text> <tspan x="0" y="-0.49" style="font-size: 14px; font-family: 'DejaVu Sans', sans-serif; fill: #ff0000">1</tspan> <tspan x="8.90" y="-0.49" style="font-size: 14px; font-family: 'DejaVu Sans', sans-serif; fill: #ff0000">0</tspan> <tspan x="17.94" y="-5.85" style="font-size: 9.8px; font-family: 'DejaVu Sans', sans-serif; fill: #ff0000">1</tspan> </text> </g> </g> </g> <g id="ytick_147"> <g id="line2d_281"> <g> <use href="#m8e874cb3b3" x="1350" y="358.5" style="fill: #ff0000; stroke: #ff0000; stroke-width: 0.75"/> </g> </g> <g id="text_80" transform="translate(0 0.75)"> <!-- $\mathdefault{10^{2}}$ --> <g style="fill: #ff0000" transform="translate(1354 363.81)"> <text> <tspan x="0" y="-0.36" style="font-size: 14px; font-family: 'DejaVu Sans', sans-serif; fill: #ff0000">1</tspan> <tspan x="8.90" y="-0.36" style="font-size: 14px; font-family: 'DejaVu Sans', sans-serif; fill: #ff0000">0</tspan> <tspan x="17.94" y="-5.72" style="font-size: 9.8px; font-family: 'DejaVu Sans', sans-serif; fill: #ff0000">2</tspan> </text> </g> </g> </g> <g id="ytick_148"> <g id="line2d_282"> <defs> <path id="m5bce463792" d="M 0 0 L -2.6 0 " style="stroke: #ff0000; stroke-width: 0.75"/> </defs> <g> <use href="#m5bce463792" x="1350" y="597.08" style="fill: #ff0000; stroke: #ff0000; stroke-width: 0.75"/> </g> </g> </g> <g id="ytick_149"> <g id="line2d_283"> <g> <use href="#m5bce463792" x="1350" y="585.72" style="fill: #ff0000; stroke: #ff0000; stroke-width: 0.75"/> </g> </g> </g> <g id="ytick_150"> <g id="line2d_284"> <g> <use href="#m5bce463792" x="1350" y="577.66" style="fill: #ff0000; stroke: #ff0000; stroke-width: 0.75"/> </g> </g> </g> <g id="ytick_151"> <g id="line2d_285"> <g> <use href="#m5bce463792" x="1350" y="571.41" style="fill: #ff0000; stroke: #ff0000; stroke-width: 0.75"/> </g> </g> </g> <g id="ytick_152"> <g id="line2d_286"> <g> <use href="#m5bce463792" x="1350" y="566.30" style="fill: #ff0000; stroke: #ff0000; stroke-width: 0.75"/> </g> </g> </g> <g id="ytick_153"> <g id="line2d_287"> <g> <use href="#m5bce463792" x="1350" y="561.99" style="fill: #ff0000; stroke: #ff0000; stroke-width: 0.75"/> </g> </g> </g> <g id="ytick_154"> <g id="line2d_288"> <g> <use href="#m5bce463792" x="1350" y="558.25" style="fill: #ff0000; stroke: #ff0000; stroke-width: 0.75"/> </g> </g> </g> <g id="ytick_155"> <g id="line2d_289"> <g> <use href="#m5bce463792" x="1350" y="554.95" style="fill: #ff0000; stroke: #ff0000; stroke-width: 0.75"/> </g> </g> </g> <g id="ytick_156"> <g id="line2d_290"> <g> <use href="#m5bce463792" x="1350" y="532.58" style="fill: #ff0000; stroke: #ff0000; stroke-width: 0.75"/> </g> </g> </g> <g id="ytick_157"> <g id="line2d_291"> <g> <use href="#m5bce463792" x="1350" y="521.22" style="fill: #ff0000; stroke: #ff0000; stroke-width: 0.75"/> </g> </g> </g> <g id="ytick_158"> <g id="line2d_292"> <g> <use href="#m5bce463792" x="1350" y="513.16" style="fill: #ff0000; stroke: #ff0000; stroke-width: 0.75"/> </g> </g> </g> <g id="ytick_159"> <g id="line2d_293"> <g> <use href="#m5bce463792" x="1350" y="506.91" style="fill: #ff0000; stroke: #ff0000; stroke-width: 0.75"/> </g> </g> </g> <g id="ytick_160"> <g id="line2d_294"> <g> <use href="#m5bce463792" x="1350" y="501.80" style="fill: #ff0000; stroke: #ff0000; stroke-width: 0.75"/> </g> </g> </g> <g id="ytick_161"> <g id="line2d_295"> <g> <use href="#m5bce463792" x="1350" y="497.49" style="fill: #ff0000; stroke: #ff0000; stroke-width: 0.75"/> </g> </g> </g> <g id="ytick_162"> <g id="line2d_296"> <g> <use href="#m5bce463792" x="1350" y="493.75" style="fill: #ff0000; stroke: #ff0000; stroke-width: 0.75"/> </g> </g> </g> <g id="ytick_163"> <g id="line2d_297"> <g> <use href="#m5bce463792" x="1350" y="490.45" style="fill: #ff0000; stroke: #ff0000; stroke-width: 0.75"/> </g> </g> </g> <g id="ytick_164"> <g id="line2d_298"> <g> <use href="#m5bce463792" x="1350" y="468.08" style="fill: #ff0000; stroke: #ff0000; stroke-width: 0.75"/> </g> </g> </g> <g id="ytick_165"> <g id="line2d_299"> <g> <use href="#m5bce463792" x="1350" y="456.72" style="fill: #ff0000; stroke: #ff0000; stroke-width: 0.75"/> </g> </g> </g> <g id="ytick_166"> <g id="line2d_300"> <g> <use href="#m5bce463792" x="1350" y="448.66" style="fill: #ff0000; stroke: #ff0000; stroke-width: 0.75"/> </g> </g> </g> <g id="ytick_167"> <g id="line2d_301"> <g> <use href="#m5bce463792" x="1350" y="442.41" style="fill: #ff0000; stroke: #ff0000; stroke-width: 0.75"/> </g> </g> </g> <g id="ytick_168"> <g id="line2d_302"> <g> <use href="#m5bce463792" x="1350" y="437.30" style="fill: #ff0000; stroke: #ff0000; stroke-width: 0.75"/> </g> </g> </g> <g id="ytick_169"> <g id="line2d_303"> <g> <use href="#m5bce463792" x="1350" y="432.99" style="fill: #ff0000; stroke: #ff0000; stroke-width: 0.75"/> </g> </g> </g> <g id="ytick_170"> <g id="line2d_304"> <g> <use href="#m5bce463792" x="1350" y="429.25" style="fill: #ff0000; stroke: #ff0000; stroke-width: 0.75"/> </g> </g> </g> <g id="ytick_171"> <g id="line2d_305"> <g> <use href="#m5bce463792" x="1350" y="425.95" style="fill: #ff0000; stroke: #ff0000; stroke-width: 0.75"/> </g> </g> </g> <g id="ytick_172"> <g id="line2d_306"> <g> <use href="#m5bce463792" x="1350" y="403.58" style="fill: #ff0000; stroke: #ff0000; stroke-width: 0.75"/> </g> </g> </g> <g id="ytick_173"> <g id="line2d_307"> <g> <use href="#m5bce463792" x="1350" y="392.22" style="fill: #ff0000; stroke: #ff0000; stroke-width: 0.75"/> </g> </g> </g> <g id="ytick_174"> <g id="line2d_308"> <g> <use href="#m5bce463792" x="1350" y="384.16" style="fill: #ff0000; stroke: #ff0000; stroke-width: 0.75"/> </g> </g> </g> <g id="ytick_175"> <g id="line2d_309"> <g> <use href="#m5bce463792" x="1350" y="377.91" style="fill: #ff0000; stroke: #ff0000; stroke-width: 0.75"/> </g> </g> </g> <g id="ytick_176"> <g id="line2d_310"> <g> <use href="#m5bce463792" x="1350" y="372.80" style="fill: #ff0000; stroke: #ff0000; stroke-width: 0.75"/> </g> </g> </g> <g id="ytick_177"> <g id="line2d_311"> <g> <use href="#m5bce463792" x="1350" y="368.49" style="fill: #ff0000; stroke: #ff0000; stroke-width: 0.75"/> </g> </g> </g> <g id="ytick_178"> <g id="line2d_312"> <g> <use href="#m5bce463792" x="1350" y="364.75" style="fill: #ff0000; stroke: #ff0000; stroke-width: 0.75"/> </g> </g> </g> <g id="ytick_179"> <g id="line2d_313"> <g> <use href="#m5bce463792" x="1350" y="361.45" style="fill: #ff0000; stroke: #ff0000; stroke-width: 0.75"/> </g> </g> </g> </g> <g id="patch_89"> <path d="M 903.75 616.5 L 903.75 358.5 " style="fill: none; stroke: #000000; stroke-width: 1.5; stroke-linejoin: miter; stroke-linecap: square"/> </g> <g id="patch_90"> <path d="M 1350 616.5 L 1350 358.5 " style="fill: none; stroke: #ff0000; stroke-width: 1.5; stroke-linejoin: miter; stroke-linecap: square"/> </g> <g id="patch_91"> <path d="M 903.75 616.5 L 1350 616.5 " style="fill: none; stroke: #000000; stroke-width: 1.5; stroke-linejoin: miter; stroke-linecap: square"/> </g> <g id="patch_92"> <path d="M 903.75 358.5 L 1350 358.5 " style="fill: none; stroke: #000000; stroke-width: 1.5; stroke-linejoin: miter; stroke-linecap: square"/> </g> <g id="patch_93"> <path d="M 904.5 478.89 L 905.25 477.63 L 906 480.41 L 906.75 480.07 L 907.5 477.02 L 908.25 481.24 L 909 478.97 L 909.75 475.77 L 910.5 477.08 L 911.25 473.05 L 912 473.24 L 912.75 473.33 L 913.5 471.27 L 914.25 464.32 L 915 464.32 L 915.75 463.96 L 916.5 465.26 L 917.25 465.11 L 918 461.26 L 918.75 461.39 L 919.5 464.09 L 920.25 461.52 L 921 459.25 L 921.75 465.63 L 922.5 470.33 L 923.25 469.95 L 924 469.06 L 924.75 464.94 L 925.5 461.30 L 926.25 462.92 L 927 462.66 L 927.75 466.63 L 928.5 468.41 L 929.25 465.24 L 930 463.80 L 930.75 467.27 L 931.5 464.36 L 932.25 462.54 L 933 464.90 L 933.75 466.11 L 934.5 465.79 L 935.25 465.79 L 936 467.06 L 936.75 467.80 L 937.5 468.17 L 938.25 468.48 L 939 466.92 L 939.75 467.71 L 940.5 468.33 L 941.25 468.83 L 942 469.79 L 942.75 472.55 L 943.5 477.36 L 944.25 479.16 L 945 478.28 L 945.75 473.82 L 946.5 475.88 L 947.25 474.70 L 948 469.16 L 948.75 470.73 L 949.5 470.53 L 950.25 470.90 L 951 471.56 L 951.75 473.65 L 952.5 476.57 L 953.25 476.28 L 954 476.05 L 954.75 475.91 L 955.5 474.46 L 956.25 473.91 L 957 473.29 L 957.75 474.60 L 958.5 471.11 L 959.25 469.69 L 960 463.51 L 960.75 463.51 L 961.5 462.57 L 962.25 470.22 L 963 471.11 L 963.75 471.51 L 964.5 472.43 L 965.25 470.73 L 966 471.69 L 966.75 472.43 L 967.5 471.68 L 968.25 471.11 L 969 471.70 L 969.75 470.35 L 970.5 470.95 L 971.25 472.24 L 972 474.11 L 972.75 472.25 L 973.5 473.02 L 974.25 473.71 L 975 476.42 L 975.75 472.71 L 976.5 473.63 L 977.25 472.01 L 978 482.17 L 978.75 489.23 L 979.5 489.09 L 980.25 484.67 L 981 479.52 L 981.75 476.29 L 982.5 470.82 L 983.25 470.01 L 984 465.04 L 984.75 462.89 L 985.5 461.45 L 986.25 461.23 L 987 465.63 L 987.75 461.65 L 988.5 457.49 L 989.25 457.22 L 990 461.20 L 990.75 461.20 L 991.5 467.48 L 992.25 472.08 L 993 476.47 L 993.75 476.37 L 994.5 477.38 L 995.25 476.89 L 996 476.79 L 996.75 476.79 L 997.5 468.15 L 998.25 450.80 L 999 450.01 L 999.75 447.91 L 1000.5 454.38 L 1001.25 456.49 L 1002 457.39 L 1002.75 457.39 L 1003.5 463.70 L 1004.25 463.70 L 1005 469.13 L 1005.75 466.08 L 1006.5 465.74 L 1007.25 466.48 L 1008 463.16 L 1008.75 454.06 L 1009.5 454.44 L 1010.25 456.68 L 1011 459.75 L 1011.75 457.40 L 1012.5 462.35 L 1013.25 467.16 L 1014 461.69 L 1014.75 462.09 L 1015.5 455.09 L 1016.25 455.22 L 1017 460.80 L 1017.75 456.04 L 1018.5 459.47 L 1019.25 460.75 L 1020 461.23 L 1020.75 461.79 L 1021.5 469.49 L 1022.25 473.12 L 1023 480.66 L 1023.75 477.94 L 1024.5 477.94 L 1025.25 479.53 L 1026 486.44 L 1026.75 490.89 L 1027.5 482.94 L 1028.25 481.00 L 1029 484.77 L 1029.75 482.55 L 1030.5 482.78 L 1031.25 489.80 L 1032 484.94 L 1032.75 481.25 L 1033.5 478.08 L 1034.25 475.69 L 1035 474.17 L 1035.75 473.64 L 1036.5 484.36 L 1037.25 484.25 L 1038 484.23 L 1038.75 485.00 L 1039.5 483.45 L 1040.25 480.75 L 1041 483.44 L 1041.75 484.18 L 1042.5 483.58 L 1043.25 488.99 L 1044 484.12 L 1044.75 487.91 L 1045.5 489.23 L 1046.25 483.48 L 1047 484.18 L 1047.75 482.96 L 1048.5 485.85 L 1049.25 483.49 L 1050 483.49 L 1050.75 484.61 L 1051.5 487.44 L 1052.25 488.76 L 1053 479.73 L 1053.75 479.73 L 1054.5 485.15 L 1055.25 485.15 L 1056 487.42 L 1056.75 484.73 L 1057.5 484.73 L 1058.25 484.74 L 1059 483.37 L 1059.75 480 L 1060.5 485.21 L 1061.25 485.46 L 1062 486.53 L 1062.75 483.85 L 1063.5 492.10 L 1064.25 497.37 L 1065 492.86 L 1065.75 492.86 L 1066.5 495.16 L 1067.25 494.17 L 1068 491.54 L 1068.75 495.10 L 1069.5 491.58 L 1070.25 488.7 L 1071 494.08 L 1071.75 494.30 L 1072.5 494.30 L 1073.25 493.26 L 1074 495.09 L 1074.75 495.66 L 1075.5 496.09 L 1076.25 495.13 L 1077 493.90 L 1077.75 492.83 L 1078.5 493.62 L 1079.25 494.96 L 1080 495.75 L 1080.75 495.99 L 1081.5 495.15 L 1082.25 490.88 L 1083 489.14 L 1083.75 489.74 L 1084.5 489.70 L 1085.25 489.70 L 1086 492.43 L 1086.75 494.95 L 1087.5 491.10 L 1088.25 496.82 L 1089 496.82 L 1089.75 501.71 L 1090.5 500.71 L 1091.25 495.61 L 1092 503.26 L 1092.75 502.60 L 1093.5 499.14 L 1094.25 499.14 L 1095 501.27 L 1095.75 500.91 L 1096.5 500.24 L 1097.25 502.15 L 1098 499.30 L 1098.75 495.22 L 1099.5 495.22 L 1100.25 494.49 L 1101 484.55 L 1101.75 484.88 L 1102.5 484.16 L 1103.25 485.19 L 1104 493.69 L 1104.75 494.47 L 1105.5 492.81 L 1106.25 497.48 L 1107 491.47 L 1107.75 489.25 L 1108.5 486.30 L 1109.25 483.66 L 1110 483.60 L 1110.75 485.15 L 1111.5 486.52 L 1112.25 481.54 L 1113 482.09 L 1113.75 482.15 L 1114.5 483.94 L 1115.25 484.68 L 1116 482.54 L 1116.75 485.59 L 1117.5 487.26 L 1118.25 482.27 L 1119 482.27 L 1119.75 485.31 L 1120.5 485.48 L 1121.25 485.48 L 1122 488.27 L 1122.75 486.89 L 1123.5 487.36 L 1124.25 484.28 L 1125 482.03 L 1125.75 484.74 L 1126.5 485.98 L 1127.25 479.95 L 1128 479.95 L 1128.75 481.11 L 1129.5 482.03 L 1130.25 481.25 L 1131 481.50 L 1131.75 481.76 L 1132.5 480.53 L 1133.25 478.21 L 1134 473.56 L 1134.75 475.41 L 1135.5 472.52 L 1136.25 468.08 L 1137 466.10 L 1137.75 464.88 L 1138.5 474.25 L 1139.25 479.10 L 1140 484.25 L 1140.75 484.63 L 1141.5 483.41 L 1142.25 482.03 L 1143 480.68 L 1143.75 473.77 L 1144.5 471.50 L 1145.25 468.65 L 1146 467.85 L 1146.75 467.72 L 1147.5 472.11 L 1148.25 473.34 L 1149 470.88 L 1149.75 469.00 L 1150.5 464.85 L 1151.25 458.25 L 1152 457.41 L 1152.75 458.46 L 1153.5 461.37 L 1154.25 464.61 L 1155 465.57 L 1155.75 467.13 L 1156.5 467.36 L 1157.25 466.38 L 1158 465.72 L 1158.75 462.38 L 1159.5 460.79 L 1160.25 458.72 L 1161 459.30 L 1161.75 462.25 L 1162.5 458.76 L 1163.25 460.04 L 1164 457.63 L 1164.75 460.54 L 1165.5 461.61 L 1166.25 461.61 L 1167 461.56 L 1167.75 458.18 L 1168.5 455.69 L 1169.25 457.18 L 1170 454.61 L 1170.75 454.15 L 1171.5 452.08 L 1172.25 451.97 L 1173 454.76 L 1173.75 453.30 L 1174.5 453.56 L 1175.25 453.02 L 1176 452.79 L 1176.75 452.88 L 1177.5 455.91 L 1178.25 453.35 L 1179 453.07 L 1179.75 453.05 L 1180.5 453.14 L 1181.25 454.64 L 1182 454.72 L 1182.75 455.25 L 1183.5 456.12 L 1184.25 455.18 L 1185 454.8 L 1185.75 457.86 L 1186.5 460.47 L 1187.25 462.55 L 1188 464.18 L 1188.75 465.10 L 1189.5 462.59 L 1190.25 462.92 L 1191 465.67 L 1191.75 466.40 L 1192.5 467.43 L 1193.25 468.23 L 1194 467.92 L 1194.75 470.26 L 1195.5 471.67 L 1196.25 472.49 L 1197 473.72 L 1197.75 475.39 L 1198.5 477.06 L 1199.25 475.90 L 1200 471.70 L 1200.75 471.82 L 1201.5 477.35 L 1202.25 474.97 L 1203 472.38 L 1203.75 474.42 L 1204.5 476.47 L 1205.25 473.78 L 1206 473.58 L 1206.75 473.76 L 1207.5 471.96 L 1208.25 470.34 L 1209 469.64 L 1209.75 469.26 L 1210.5 467.96 L 1211.25 468.97 L 1212 469.88 L 1212.75 471.68 L 1213.5 472.48 L 1214.25 471.76 L 1215 472.20 L 1215.75 469.54 L 1216.5 469.54 L 1217.25 472.71 L 1218 472.17 L 1218.75 470.38 L 1219.5 471.06 L 1220.25 471.35 L 1221 469.74 L 1221.75 468.08 L 1222.5 468.89 L 1223.25 471.31 L 1224 469.92 L 1224.75 469.53 L 1225.5 469.60 L 1226.25 471.70 L 1227 472.28 L 1227.75 470.82 L 1228.5 470.82 L 1229.25 471.83 L 1230 472.04 L 1230.75 472.59 L 1231.5 473.02 L 1232.25 474.70 L 1233 477.09 L 1233.75 476.68 L 1234.5 476.11 L 1235.25 478.29 L 1236 478.85 L 1236.75 479.37 L 1237.5 476.13 L 1238.25 476.29 L 1239 477.10 L 1239.75 481.00 L 1240.5 479.88 L 1241.25 480.42 L 1242 483.22 L 1242.75 482.75 L 1243.5 483.37 L 1244.25 483.86 L 1245 482.58 L 1245.75 481.05 L 1246.5 482.58 L 1247.25 481.86 L 1248 482.52 L 1248.75 482.27 L 1249.5 483.89 L 1250.25 483.25 L 1251 483.14 L 1251.75 482.40 L 1252.5 480.47 L 1253.25 479.19 L 1254 481.02 L 1254.75 477.61 L 1255.5 477.58 L 1256.25 477.98 L 1257 479.66 L 1257.75 481.28 L 1258.5 480.39 L 1259.25 478.66 L 1260 479.43 L 1260.75 480.75 L 1261.5 482.22 L 1262.25 483.03 L 1263 483.03 L 1263.75 482.65 L 1264.5 482.44 L 1265.25 482.39 L 1266 482.81 L 1266.75 481.10 L 1267.5 482.97 L 1268.25 482.87 L 1269 482.12 L 1269.75 481.49 L 1270.5 481.72 L 1271.25 482.47 L 1272 481.74 L 1272.75 479.60 L 1273.5 483.58 L 1274.25 480.89 L 1275 482.29 L 1275.75 482.29 L 1276.5 481.66 L 1277.25 479.98 L 1278 480.79 L 1278.75 480.92 L 1279.5 481.47 L 1280.25 482.45 L 1281 481.80 L 1281.75 481.95 L 1282.5 479.44 L 1283.25 480.42 L 1284 479.25 L 1284.75 479.25 L 1285.5 481.92 L 1286.25 481.77 L 1287 479.25 L 1287.75 479.26 L 1288.5 479.66 L 1289.25 481.67 L 1290 481.81 L 1290.75 481.52 L 1291.5 483.15 L 1292.25 481.32 L 1293 481.90 L 1293.75 483.83 L 1293.75 484.83 L 1293 484.32 L 1292.25 484.92 L 1291.5 484.59 L 1290.75 484.55 L 1290 486.67 L 1289.25 483.23 L 1288.5 482.22 L 1287.75 481.39 L 1287 484.70 L 1286.25 484.59 L 1285.5 483.95 L 1284.75 484.44 L 1284 483.87 L 1283.25 485.11 L 1282.5 484.52 L 1281.75 482.42 L 1281 482.74 L 1280.25 483.59 L 1279.5 485.09 L 1278.75 483.71 L 1278 482.34 L 1277.25 484.67 L 1276.5 484.07 L 1275.75 484.43 L 1275 483.05 L 1274.25 485.38 L 1273.5 485.82 L 1272.75 486.03 L 1272 486.75 L 1271.25 484.14 L 1270.5 483.59 L 1269.75 482.67 L 1269 483.10 L 1268.25 483.91 L 1267.5 484.31 L 1266.75 484.65 L 1266 485.06 L 1265.25 484.13 L 1264.5 483.88 L 1263.75 483.51 L 1263 484.18 L 1262.25 484.18 L 1261.5 483.33 L 1260.75 482.73 L 1260 481.65 L 1259.25 484.08 L 1258.5 481.60 L 1257.75 484.04 L 1257 484.70 L 1256.25 483.40 L 1255.5 485.37 L 1254.75 485.36 L 1254 482.36 L 1253.25 482.29 L 1252.5 484.97 L 1251.75 485.43 L 1251 484.39 L 1250.25 485.61 L 1249.5 485.86 L 1248.75 484.35 L 1248 485.40 L 1247.25 485.87 L 1246.5 484.34 L 1245.75 483.88 L 1245 486.42 L 1244.25 485.96 L 1243.5 485.38 L 1242.75 485.38 L 1242 488.20 L 1241.25 484.61 L 1240.5 482.68 L 1239.75 483.61 L 1239 483.39 L 1238.25 480.58 L 1237.5 484.76 L 1236.75 484.76 L 1236 481.49 L 1235.25 478.91 L 1234.5 480.52 L 1233.75 480.01 L 1233 479.91 L 1232.25 478.64 L 1231.5 474.70 L 1230.75 473.43 L 1230 473.01 L 1229.25 473.48 L 1228.5 472.50 L 1227.75 472.41 L 1227 472.53 L 1226.25 472.28 L 1225.5 471.70 L 1224.75 470.36 L 1224 471.59 L 1223.25 472.58 L 1222.5 471.89 L 1221.75 474.97 L 1221 471.55 L 1220.25 471.88 L 1219.5 471.92 L 1218.75 472.63 L 1218 473.68 L 1217.25 474.29 L 1216.5 476.00 L 1215.75 477.21 L 1215 474.27 L 1214.25 473.80 L 1213.5 475.12 L 1212.75 475.12 L 1212 471.68 L 1211.25 471.40 L 1210.5 471.18 L 1209.75 470.57 L 1209 471.24 L 1208.25 473.74 L 1207.5 473.76 L 1206.75 474.93 L 1206 476.31 L 1205.25 479.41 L 1204.5 479.92 L 1203.75 478.75 L 1203 478.75 L 1202.25 477.84 L 1201.5 479.60 L 1200.75 479.60 L 1200 478.09 L 1199.25 478.78 L 1198.5 477.96 L 1197.75 478.27 L 1197 477.07 L 1196.25 473.98 L 1195.5 473.11 L 1194.75 471.81 L 1194 470.26 L 1193.25 470.04 L 1192.5 470.13 L 1191.75 468.32 L 1191 466.59 L 1190.25 465.67 L 1189.5 465.45 L 1188.75 466.04 L 1188 466.29 L 1187.25 465.47 L 1186.5 464.92 L 1185.75 460.47 L 1185 460.37 L 1184.25 459.44 L 1183.5 459.44 L 1182.75 457.31 L 1182 456.79 L 1181.25 456.32 L 1180.5 455.81 L 1179.75 455.48 L 1179 454.54 L 1178.25 457.14 L 1177.5 457.58 L 1176.75 456.07 L 1176 453.98 L 1175.25 454.09 L 1174.5 456.00 L 1173.75 455.35 L 1173 456.05 L 1172.25 457.63 L 1171.5 456.40 L 1170.75 457.37 L 1170 457.92 L 1169.25 462.44 L 1168.5 463.32 L 1167.75 461.59 L 1167 462.89 L 1166.25 463.78 L 1165.5 463.80 L 1164.75 463.80 L 1164 462.32 L 1163.25 462.75 L 1162.5 464.96 L 1161.75 464.96 L 1161 466.72 L 1160.25 466.72 L 1159.5 464.67 L 1158.75 468.88 L 1158 468.88 L 1157.25 469.11 L 1156.5 470.54 L 1155.75 468.54 L 1155 468.52 L 1154.25 467.50 L 1153.5 466.48 L 1152.75 462.98 L 1152 460.98 L 1151.25 464.95 L 1150.5 469.00 L 1149.75 472.26 L 1149 473.34 L 1148.25 474.90 L 1147.5 478.48 L 1146.75 475.52 L 1146 469.14 L 1145.25 471.50 L 1144.5 477.19 L 1143.75 487.03 L 1143 487.81 L 1142.25 484.52 L 1141.5 484.63 L 1140.75 486.35 L 1140 487.41 L 1139.25 486.22 L 1138.5 479.10 L 1137.75 476.32 L 1137 468.55 L 1136.25 472.61 L 1135.5 476.33 L 1134.75 476.77 L 1134 479.75 L 1133.25 480.79 L 1132.5 482.22 L 1131.75 483.80 L 1131 483.80 L 1130.25 485.40 L 1129.5 485.18 L 1128.75 486.42 L 1128 488.42 L 1127.25 487.12 L 1126.5 488.00 L 1125.75 489.09 L 1125 487.74 L 1124.25 491.62 L 1123.5 491.62 L 1122.75 494.60 L 1122 494.41 L 1121.25 492.66 L 1120.5 494.53 L 1119.75 494.86 L 1119 490.81 L 1118.25 490.12 L 1117.5 490.51 L 1116.75 490.52 L 1116 489.36 L 1115.25 490.02 L 1114.5 489.46 L 1113.75 486.18 L 1113 486.32 L 1112.25 486.52 L 1111.5 488.97 L 1110.75 488.21 L 1110 488.10 L 1109.25 487.34 L 1108.5 489.33 L 1107.75 493.67 L 1107 501.28 L 1106.25 504.20 L 1105.5 503.60 L 1104.75 510.88 L 1104 498.70 L 1103.25 494.72 L 1102.5 494.05 L 1101.75 491.40 L 1101 495.78 L 1100.25 502.85 L 1099.5 501.78 L 1098.75 501.82 L 1098 506.24 L 1097.25 505.27 L 1096.5 507.33 L 1095.75 506.48 L 1095 502.93 L 1094.25 501.27 L 1093.5 502.60 L 1092.75 503.66 L 1092 509.28 L 1091.25 509.28 L 1090.5 504.76 L 1089.75 507.45 L 1089 506.34 L 1088.25 503.63 L 1087.5 503.44 L 1086.75 500.29 L 1086 500.78 L 1085.25 492.57 L 1084.5 493.03 L 1083.75 495.12 L 1083 497.21 L 1082.25 495.15 L 1081.5 496.86 L 1080.75 498.48 L 1080 497.73 L 1079.25 496.30 L 1078.5 494.96 L 1077.75 495.79 L 1077 496.80 L 1076.25 501.09 L 1075.5 501.09 L 1074.75 500.50 L 1074 499.72 L 1073.25 497.50 L 1072.5 501.01 L 1071.75 496.75 L 1071 496.42 L 1070.25 499.03 L 1069.5 496.40 L 1068.75 503.59 L 1068 499.79 L 1067.25 500.12 L 1066.5 503.7 L 1065.75 503.7 L 1065 498.16 L 1064.25 500.13 L 1063.5 497.96 L 1062.75 492.10 L 1062 491.57 L 1061.25 493.24 L 1060.5 488.35 L 1059.75 488.35 L 1059 492.75 L 1058.25 496.2 L 1057.5 491.44 L 1056.75 487.96 L 1056 488.09 L 1055.25 488.25 L 1054.5 489.93 L 1053.75 494.94 L 1053 491.39 L 1052.25 494.27 L 1051.5 490.32 L 1050.75 488.86 L 1050 488.46 L 1049.25 491.31 L 1048.5 495.18 L 1047.75 492.64 L 1047 488.17 L 1046.25 491.99 L 1045.5 491.99 L 1044.75 491.49 L 1044 495.12 L 1043.25 499.65 L 1042.5 498.61 L 1041.75 490.68 L 1041 494.87 L 1040.25 491.29 L 1039.5 489.77 L 1038.75 486.59 L 1038 489.10 L 1037.25 487.55 L 1036.5 485.83 L 1035.75 486.09 L 1035 484.31 L 1034.25 486.32 L 1033.5 486.32 L 1032.75 487.86 L 1032 492.48 L 1031.25 493.57 L 1030.5 490.51 L 1029.75 489.97 L 1029 491.52 L 1028.25 494.04 L 1027.5 492.36 L 1026.75 497.63 L 1026 493.99 L 1025.25 494.35 L 1024.5 497.31 L 1023.75 491.84 L 1023 492.08 L 1022.25 488.55 L 1021.5 478.73 L 1020.75 473.19 L 1020 461.98 L 1019.25 461.54 L 1018.5 460.85 L 1017.75 461.09 L 1017 462.88 L 1016.25 464.07 L 1015.5 464.17 L 1014.75 465.40 L 1014 469.15 L 1013.25 468.81 L 1012.5 467.36 L 1011.75 467.04 L 1011 467.55 L 1010.25 460.14 L 1009.5 466.39 L 1008.75 474.86 L 1008 476.17 L 1007.25 485.4 L 1006.5 478.10 L 1005.75 475.32 L 1005 477.45 L 1004.25 472.20 L 1003.5 469.67 L 1002.75 464.10 L 1002 463.61 L 1001.25 461.17 L 1000.5 461.81 L 999.75 458.13 L 999 454.22 L 998.25 468.79 L 997.5 484.94 L 996.75 485.35 L 996 484.37 L 995.25 484.47 L 994.5 479.58 L 993.75 478.25 L 993 478.90 L 992.25 478.79 L 991.5 472.08 L 990.75 467.61 L 990 463.69 L 989.25 461.63 L 988.5 462.71 L 987.75 467.02 L 987 468.65 L 986.25 468.92 L 985.5 467.82 L 984.75 466.48 L 984 470.54 L 983.25 472.99 L 982.5 477.32 L 981.75 480.05 L 981 485.06 L 980.25 489.35 L 979.5 495.29 L 978.75 495.90 L 978 489.23 L 977.25 482.17 L 976.5 477.63 L 975.75 478.33 L 975 478.82 L 974.25 479.47 L 973.5 476.08 L 972.75 478.17 L 972 477.68 L 971.25 474.60 L 970.5 472.24 L 969.75 472.00 L 969 478.28 L 968.25 474.26 L 967.5 473.35 L 966.75 474.68 L 966 475.85 L 965.25 472.99 L 964.5 474.64 L 963.75 474.61 L 963 472.93 L 962.25 472.91 L 961.5 470.85 L 960.75 473.63 L 960 472.01 L 959.25 477.57 L 958.5 475.64 L 957.75 475.44 L 957 476.63 L 956.25 476.23 L 955.5 478.07 L 954.75 478.39 L 954 477.15 L 953.25 480.86 L 952.5 478.81 L 951.75 476.57 L 951 473.65 L 950.25 472.83 L 949.5 471.31 L 948.75 474.78 L 948 475.61 L 947.25 478.18 L 946.5 477.82 L 945.75 480.11 L 945 481.18 L 944.25 481.25 L 943.5 479.41 L 942.75 477.36 L 942 473.31 L 941.25 470.91 L 940.5 468.83 L 939.75 470.75 L 939 470.45 L 938.25 469.49 L 937.5 469.27 L 936.75 469.01 L 936 468.09 L 935.25 468.00 L 934.5 468.05 L 933.75 467.46 L 933 467.17 L 932.25 472.04 L 931.5 470.03 L 930.75 472.97 L 930 472.03 L 929.25 468.65 L 928.5 471.99 L 927.75 471.76 L 927 466.63 L 926.25 466.30 L 925.5 466.19 L 924.75 469.06 L 924 470.86 L 923.25 473.01 L 922.5 472.07 L 921.75 470.33 L 921 467.06 L 920.25 467.46 L 919.5 466.49 L 918.75 466.32 L 918 471.55 L 917.25 471.55 L 916.5 469.03 L 915.75 468.78 L 915 468.21 L 914.25 475.05 L 913.5 481.52 L 912.75 480.13 L 912 477.65 L 911.25 483.12 L 910.5 481.08 L 909.75 482.46 L 909 483.81 L 908.25 483.81 L 907.5 484.63 L 906.75 483.64 L 906 485.17 L 905.25 481.39 L 904.5 488.51 z " clip-path="url(#p1a4e2fa0e7)" style="fill: #ff0000; stroke: #ff0000; stroke-width: 1.5"/> </g> </g> <g id="axes_9"> <g id="patch_94"> <path d="M 903.75 762.75 L 1350 762.75 L 1350 633.75 L 903.75 633.75 z " style="fill: #ffffff"/> </g> <g id="line2d_314"> <path d="M 903.75 698.25 L 1350 698.25 " clip-path="url(#pfe06cb9315)" style="fill: none; stroke-dasharray: 1.5,2.47; stroke-dashoffset: 0; stroke: #000000; stroke-width: 1.5"/> </g> <g id="matplotlib.axis_15"> <g id="xtick_41"> <g id="line2d_315"> <g> <use href="#m734474134b" x="933.99" y="762.75" style="stroke: #000000; stroke-width: 0.75"/> </g> </g> <g id="text_81"> <text style="font-size: 14px; font-family: 'DejaVu Sans', sans-serif; text-anchor: middle" x="933.99" y="777.38" transform="rotate(-0 933.99 777.38)">23</text> </g> </g> <g id="xtick_42"> <g id="line2d_316"> <g> <use href="#m734474134b" x="989.79" y="762.75" style="stroke: #000000; stroke-width: 0.75"/> </g> </g> <g id="text_82"> <text style="font-size: 14px; font-family: 'DejaVu Sans', sans-serif; text-anchor: middle" x="989.79" y="777.38" transform="rotate(-0 989.79 777.38)">24</text> </g> </g> <g id="xtick_43"> <g id="line2d_317"> <g> <use href="#m734474134b" x="1045.59" y="762.75" style="stroke: #000000; stroke-width: 0.75"/> </g> </g> <g id="text_83"> <text style="font-size: 14px; font-family: 'DejaVu Sans', sans-serif; text-anchor: middle" x="1045.59" y="777.38" transform="rotate(-0 1045.59 777.38)">25</text> </g> </g> <g id="xtick_44"> <g id="line2d_318"> <g> <use href="#m734474134b" x="1101.40" y="762.75" style="stroke: #000000; stroke-width: 0.75"/> </g> </g> <g id="text_84"> <text style="font-size: 14px; font-family: 'DejaVu Sans', sans-serif; text-anchor: middle" x="1101.40" y="777.38" transform="rotate(-0 1101.40 777.38)">26</text> </g> </g> <g id="xtick_45"> <g id="line2d_319"> <g> <use href="#m734474134b" x="1157.20" y="762.75" style="stroke: #000000; stroke-width: 0.75"/> </g> </g> <g id="text_85"> <text style="font-size: 14px; font-family: 'DejaVu Sans', sans-serif; text-anchor: middle" x="1157.20" y="777.38" transform="rotate(-0 1157.20 777.38)">27</text> </g> </g> <g id="xtick_46"> <g id="line2d_320"> <g> <use href="#m734474134b" x="1213.00" y="762.75" style="stroke: #000000; stroke-width: 0.75"/> </g> </g> <g id="text_86"> <text style="font-size: 14px; font-family: 'DejaVu Sans', sans-serif; text-anchor: middle" x="1213.00" y="777.38" transform="rotate(-0 1213.00 777.38)">28</text> </g> </g> <g id="xtick_47"> <g id="line2d_321"> <g> <use href="#m734474134b" x="1268.80" y="762.75" style="stroke: #000000; stroke-width: 0.75"/> </g> </g> <g id="text_87"> <text style="font-size: 14px; font-family: 'DejaVu Sans', sans-serif; text-anchor: middle" x="1268.80" y="777.38" transform="rotate(-0 1268.80 777.38)">29</text> </g> </g> <g id="xtick_48"> <g id="line2d_322"> <g> <use href="#m734474134b" x="1324.61" y="762.75" style="stroke: #000000; stroke-width: 0.75"/> </g> </g> <g id="text_88"> <text style="font-size: 14px; font-family: 'DejaVu Sans', sans-serif; text-anchor: middle" x="1324.61" y="777.38" transform="rotate(-0 1324.61 777.38)">30</text> </g> </g> <g id="text_89"> <text style="font-size: 18px; font-family: 'DejaVu Sans', sans-serif; text-anchor: middle" x="1126.87" y="799.47" transform="rotate(-0 1126.87 799.47)">November 2018 (UT)</text> </g> </g> <g id="matplotlib.axis_16"> <g id="ytick_180"> <g id="line2d_323"> <g> <use href="#m0e9212ec3c" x="903.75" y="762.75" style="stroke: #000000; stroke-width: 0.75"/> </g> </g> <g id="line2d_324"> <g> <use href="#md311e385f9" x="1350" y="762.75" style="stroke: #000000; stroke-width: 0.75"/> </g> </g> <g id="text_90" transform="translate(0 0.75)"> <!-- $\mathdefault{10^{-1}}$ --> <g transform="translate(866.85 768.06)"> <text> <tspan x="0" y="-0.49" style="font-size: 14px; font-family: 'DejaVu Sans', sans-serif">1</tspan> <tspan x="8.90" y="-0.49" style="font-size: 14px; font-family: 'DejaVu Sans', sans-serif">0</tspan> <tspan x="17.94" y="-5.85" style="font-size: 9.8px; font-family: 'DejaVu Sans', sans-serif">−</tspan> <tspan x="26.15" y="-5.85" style="font-size: 9.8px; font-family: 'DejaVu Sans', sans-serif">1</tspan> </text> </g> </g> </g> <g id="ytick_181"> <g id="line2d_325"> <g> <use href="#m0e9212ec3c" x="903.75" y="730.5" style="stroke: #000000; stroke-width: 0.75"/> </g> </g> <g id="line2d_326"> <g> <use href="#md311e385f9" x="1350" y="730.5" style="stroke: #000000; stroke-width: 0.75"/> </g> </g> <g id="text_91" transform="translate(0 0.75)"> <!-- $\mathdefault{10^{0}}$ --> <g transform="translate(875.11 735.81)"> <text> <tspan x="0" y="-0.36" style="font-size: 14px; font-family: 'DejaVu Sans', sans-serif">1</tspan> <tspan x="8.90" y="-0.36" style="font-size: 14px; font-family: 'DejaVu Sans', sans-serif">0</tspan> <tspan x="17.94" y="-5.72" style="font-size: 9.8px; font-family: 'DejaVu Sans', sans-serif">0</tspan> </text> </g> </g> </g> <g id="ytick_182"> <g id="line2d_327"> <g> <use href="#m0e9212ec3c" x="903.75" y="698.25" style="stroke: #000000; stroke-width: 0.75"/> </g> </g> <g id="line2d_328"> <g> <use href="#md311e385f9" x="1350" y="698.25" style="stroke: #000000; stroke-width: 0.75"/> </g> </g> <g id="text_92" transform="translate(0 0.75)"> <!-- $\mathdefault{10^{1}}$ --> <g transform="translate(875.11 703.56)"> <text> <tspan x="0" y="-0.49" style="font-size: 14px; font-family: 'DejaVu Sans', sans-serif">1</tspan> <tspan x="8.90" y="-0.49" style="font-size: 14px; font-family: 'DejaVu Sans', sans-serif">0</tspan> <tspan x="17.94" y="-5.85" style="font-size: 9.8px; font-family: 'DejaVu Sans', sans-serif">1</tspan> </text> </g> </g> </g> <g id="ytick_183"> <g id="line2d_329"> <g> <use href="#m0e9212ec3c" x="903.75" y="666" style="stroke: #000000; stroke-width: 0.75"/> </g> </g> <g id="line2d_330"> <g> <use href="#md311e385f9" x="1350" y="666" style="stroke: #000000; stroke-width: 0.75"/> </g> </g> <g id="text_93" transform="translate(0 0.75)"> <!-- $\mathdefault{10^{2}}$ --> <g transform="translate(875.11 671.31)"> <text> <tspan x="0" y="-0.36" style="font-size: 14px; font-family: 'DejaVu Sans', sans-serif">1</tspan> <tspan x="8.90" y="-0.36" style="font-size: 14px; font-family: 'DejaVu Sans', sans-serif">0</tspan> <tspan x="17.94" y="-5.72" style="font-size: 9.8px; font-family: 'DejaVu Sans', sans-serif">2</tspan> </text> </g> </g> </g> <g id="ytick_184"> <g id="line2d_331"> <g> <use href="#m0e9212ec3c" x="903.75" y="633.75" style="stroke: #000000; stroke-width: 0.75"/> </g> </g> <g id="line2d_332"> <g> <use href="#md311e385f9" x="1350" y="633.75" style="stroke: #000000; stroke-width: 0.75"/> </g> </g> <g id="text_94" transform="translate(0 0.75)"> <!-- $\mathdefault{10^{3}}$ --> <g transform="translate(875.11 639.06)"> <text> <tspan x="0" y="-0.36" style="font-size: 14px; font-family: 'DejaVu Sans', sans-serif">1</tspan> <tspan x="8.90" y="-0.36" style="font-size: 14px; font-family: 'DejaVu Sans', sans-serif">0</tspan> <tspan x="17.94" y="-5.72" style="font-size: 9.8px; font-family: 'DejaVu Sans', sans-serif">3</tspan> </text> </g> </g> </g> <g id="ytick_185"> <g id="line2d_333"> <g> <use href="#m910be86d0a" x="903.75" y="753.04" style="stroke: #000000; stroke-width: 0.75"/> </g> </g> <g id="line2d_334"> <g> <use href="#m352a420749" x="1350" y="753.04" style="stroke: #000000; stroke-width: 0.75"/> </g> </g> </g> <g id="ytick_186"> <g id="line2d_335"> <g> <use href="#m910be86d0a" x="903.75" y="747.36" style="stroke: #000000; stroke-width: 0.75"/> </g> </g> <g id="line2d_336"> <g> <use href="#m352a420749" x="1350" y="747.36" style="stroke: #000000; stroke-width: 0.75"/> </g> </g> </g> <g id="ytick_187"> <g id="line2d_337"> <g> <use href="#m910be86d0a" x="903.75" y="743.33" style="stroke: #000000; stroke-width: 0.75"/> </g> </g> <g id="line2d_338"> <g> <use href="#m352a420749" x="1350" y="743.33" style="stroke: #000000; stroke-width: 0.75"/> </g> </g> </g> <g id="ytick_188"> <g id="line2d_339"> <g> <use href="#m910be86d0a" x="903.75" y="740.20" style="stroke: #000000; stroke-width: 0.75"/> </g> </g> <g id="line2d_340"> <g> <use href="#m352a420749" x="1350" y="740.20" style="stroke: #000000; stroke-width: 0.75"/> </g> </g> </g> <g id="ytick_189"> <g id="line2d_341"> <g> <use href="#m910be86d0a" x="903.75" y="737.65" style="stroke: #000000; stroke-width: 0.75"/> </g> </g> <g id="line2d_342"> <g> <use href="#m352a420749" x="1350" y="737.65" style="stroke: #000000; stroke-width: 0.75"/> </g> </g> </g> <g id="ytick_190"> <g id="line2d_343"> <g> <use href="#m910be86d0a" x="903.75" y="735.49" style="stroke: #000000; stroke-width: 0.75"/> </g> </g> <g id="line2d_344"> <g> <use href="#m352a420749" x="1350" y="735.49" style="stroke: #000000; stroke-width: 0.75"/> </g> </g> </g> <g id="ytick_191"> <g id="line2d_345"> <g> <use href="#m910be86d0a" x="903.75" y="733.62" style="stroke: #000000; stroke-width: 0.75"/> </g> </g> <g id="line2d_346"> <g> <use href="#m352a420749" x="1350" y="733.62" style="stroke: #000000; stroke-width: 0.75"/> </g> </g> </g> <g id="ytick_192"> <g id="line2d_347"> <g> <use href="#m910be86d0a" x="903.75" y="731.97" style="stroke: #000000; stroke-width: 0.75"/> </g> </g> <g id="line2d_348"> <g> <use href="#m352a420749" x="1350" y="731.97" style="stroke: #000000; stroke-width: 0.75"/> </g> </g> </g> <g id="ytick_193"> <g id="line2d_349"> <g> <use href="#m910be86d0a" x="903.75" y="720.79" style="stroke: #000000; stroke-width: 0.75"/> </g> </g> <g id="line2d_350"> <g> <use href="#m352a420749" x="1350" y="720.79" style="stroke: #000000; stroke-width: 0.75"/> </g> </g> </g> <g id="ytick_194"> <g id="line2d_351"> <g> <use href="#m910be86d0a" x="903.75" y="715.11" style="stroke: #000000; stroke-width: 0.75"/> </g> </g> <g id="line2d_352"> <g> <use href="#m352a420749" x="1350" y="715.11" style="stroke: #000000; stroke-width: 0.75"/> </g> </g> </g> <g id="ytick_195"> <g id="line2d_353"> <g> <use href="#m910be86d0a" x="903.75" y="711.08" style="stroke: #000000; stroke-width: 0.75"/> </g> </g> <g id="line2d_354"> <g> <use href="#m352a420749" x="1350" y="711.08" style="stroke: #000000; stroke-width: 0.75"/> </g> </g> </g> <g id="ytick_196"> <g id="line2d_355"> <g> <use href="#m910be86d0a" x="903.75" y="707.95" style="stroke: #000000; stroke-width: 0.75"/> </g> </g> <g id="line2d_356"> <g> <use href="#m352a420749" x="1350" y="707.95" style="stroke: #000000; stroke-width: 0.75"/> </g> </g> </g> <g id="ytick_197"> <g id="line2d_357"> <g> <use href="#m910be86d0a" x="903.75" y="705.40" style="stroke: #000000; stroke-width: 0.75"/> </g> </g> <g id="line2d_358"> <g> <use href="#m352a420749" x="1350" y="705.40" style="stroke: #000000; stroke-width: 0.75"/> </g> </g> </g> <g id="ytick_198"> <g id="line2d_359"> <g> <use href="#m910be86d0a" x="903.75" y="703.24" style="stroke: #000000; stroke-width: 0.75"/> </g> </g> <g id="line2d_360"> <g> <use href="#m352a420749" x="1350" y="703.24" style="stroke: #000000; stroke-width: 0.75"/> </g> </g> </g> <g id="ytick_199"> <g id="line2d_361"> <g> <use href="#m910be86d0a" x="903.75" y="701.37" style="stroke: #000000; stroke-width: 0.75"/> </g> </g> <g id="line2d_362"> <g> <use href="#m352a420749" x="1350" y="701.37" style="stroke: #000000; stroke-width: 0.75"/> </g> </g> </g> <g id="ytick_200"> <g id="line2d_363"> <g> <use href="#m910be86d0a" x="903.75" y="699.72" style="stroke: #000000; stroke-width: 0.75"/> </g> </g> <g id="line2d_364"> <g> <use href="#m352a420749" x="1350" y="699.72" style="stroke: #000000; stroke-width: 0.75"/> </g> </g> </g> <g id="ytick_201"> <g id="line2d_365"> <g> <use href="#m910be86d0a" x="903.75" y="688.54" style="stroke: #000000; stroke-width: 0.75"/> </g> </g> <g id="line2d_366"> <g> <use href="#m352a420749" x="1350" y="688.54" style="stroke: #000000; stroke-width: 0.75"/> </g> </g> </g> <g id="ytick_202"> <g id="line2d_367"> <g> <use href="#m910be86d0a" x="903.75" y="682.86" style="stroke: #000000; stroke-width: 0.75"/> </g> </g> <g id="line2d_368"> <g> <use href="#m352a420749" x="1350" y="682.86" style="stroke: #000000; stroke-width: 0.75"/> </g> </g> </g> <g id="ytick_203"> <g id="line2d_369"> <g> <use href="#m910be86d0a" x="903.75" y="678.83" style="stroke: #000000; stroke-width: 0.75"/> </g> </g> <g id="line2d_370"> <g> <use href="#m352a420749" x="1350" y="678.83" style="stroke: #000000; stroke-width: 0.75"/> </g> </g> </g> <g id="ytick_204"> <g id="line2d_371"> <g> <use href="#m910be86d0a" x="903.75" y="675.70" style="stroke: #000000; stroke-width: 0.75"/> </g> </g> <g id="line2d_372"> <g> <use href="#m352a420749" x="1350" y="675.70" style="stroke: #000000; stroke-width: 0.75"/> </g> </g> </g> <g id="ytick_205"> <g id="line2d_373"> <g> <use href="#m910be86d0a" x="903.75" y="673.15" style="stroke: #000000; stroke-width: 0.75"/> </g> </g> <g id="line2d_374"> <g> <use href="#m352a420749" x="1350" y="673.15" style="stroke: #000000; stroke-width: 0.75"/> </g> </g> </g> <g id="ytick_206"> <g id="line2d_375"> <g> <use href="#m910be86d0a" x="903.75" y="670.99" style="stroke: #000000; stroke-width: 0.75"/> </g> </g> <g id="line2d_376"> <g> <use href="#m352a420749" x="1350" y="670.99" style="stroke: #000000; stroke-width: 0.75"/> </g> </g> </g> <g id="ytick_207"> <g id="line2d_377"> <g> <use href="#m910be86d0a" x="903.75" y="669.12" style="stroke: #000000; stroke-width: 0.75"/> </g> </g> <g id="line2d_378"> <g> <use href="#m352a420749" x="1350" y="669.12" style="stroke: #000000; stroke-width: 0.75"/> </g> </g> </g> <g id="ytick_208"> <g id="line2d_379"> <g> <use href="#m910be86d0a" x="903.75" y="667.47" style="stroke: #000000; stroke-width: 0.75"/> </g> </g> <g id="line2d_380"> <g> <use href="#m352a420749" x="1350" y="667.47" style="stroke: #000000; stroke-width: 0.75"/> </g> </g> </g> <g id="ytick_209"> <g id="line2d_381"> <g> <use href="#m910be86d0a" x="903.75" y="656.29" style="stroke: #000000; stroke-width: 0.75"/> </g> </g> <g id="line2d_382"> <g> <use href="#m352a420749" x="1350" y="656.29" style="stroke: #000000; stroke-width: 0.75"/> </g> </g> </g> <g id="ytick_210"> <g id="line2d_383"> <g> <use href="#m910be86d0a" x="903.75" y="650.61" style="stroke: #000000; stroke-width: 0.75"/> </g> </g> <g id="line2d_384"> <g> <use href="#m352a420749" x="1350" y="650.61" style="stroke: #000000; stroke-width: 0.75"/> </g> </g> </g> <g id="ytick_211"> <g id="line2d_385"> <g> <use href="#m910be86d0a" x="903.75" y="646.58" style="stroke: #000000; stroke-width: 0.75"/> </g> </g> <g id="line2d_386"> <g> <use href="#m352a420749" x="1350" y="646.58" style="stroke: #000000; stroke-width: 0.75"/> </g> </g> </g> <g id="ytick_212"> <g id="line2d_387"> <g> <use href="#m910be86d0a" x="903.75" y="643.45" style="stroke: #000000; stroke-width: 0.75"/> </g> </g> <g id="line2d_388"> <g> <use href="#m352a420749" x="1350" y="643.45" style="stroke: #000000; stroke-width: 0.75"/> </g> </g> </g> <g id="ytick_213"> <g id="line2d_389"> <g> <use href="#m910be86d0a" x="903.75" y="640.90" style="stroke: #000000; stroke-width: 0.75"/> </g> </g> <g id="line2d_390"> <g> <use href="#m352a420749" x="1350" y="640.90" style="stroke: #000000; stroke-width: 0.75"/> </g> </g> </g> <g id="ytick_214"> <g id="line2d_391"> <g> <use href="#m910be86d0a" x="903.75" y="638.74" style="stroke: #000000; stroke-width: 0.75"/> </g> </g> <g id="line2d_392"> <g> <use href="#m352a420749" x="1350" y="638.74" style="stroke: #000000; stroke-width: 0.75"/> </g> </g> </g> <g id="ytick_215"> <g id="line2d_393"> <g> <use href="#m910be86d0a" x="903.75" y="636.87" style="stroke: #000000; stroke-width: 0.75"/> </g> </g> <g id="line2d_394"> <g> <use href="#m352a420749" x="1350" y="636.87" style="stroke: #000000; stroke-width: 0.75"/> </g> </g> </g> <g id="ytick_216"> <g id="line2d_395"> <g> <use href="#m910be86d0a" x="903.75" y="635.22" style="stroke: #000000; stroke-width: 0.75"/> </g> </g> <g id="line2d_396"> <g> <use href="#m352a420749" x="1350" y="635.22" style="stroke: #000000; stroke-width: 0.75"/> </g> </g> </g> </g> <g id="patch_95"> <path d="M 903.75 762.75 L 903.75 633.75 " style="fill: none; stroke: #000000; stroke-width: 1.5; stroke-linejoin: miter; stroke-linecap: square"/> </g> <g id="patch_96"> <path d="M 1350 762.75 L 1350 633.75 " style="fill: none; stroke: #000000; stroke-width: 1.5; stroke-linejoin: miter; stroke-linecap: square"/> </g> <g id="patch_97"> <path d="M 903.75 762.75 L 1350 762.75 " style="fill: none; stroke: #000000; stroke-width: 1.5; stroke-linejoin: miter; stroke-linecap: square"/> </g> <g id="patch_98"> <path d="M 903.75 633.75 L 1350 633.75 " style="fill: none; stroke: #000000; stroke-width: 1.5; stroke-linejoin: miter; stroke-linecap: square"/> </g> <g id="patch_99"> <path d="M 904.5 748.89 L 905.25 749.25 L 906 745.80 L 906.75 745.80 L 907.5 747.99 L 908.25 747.46 L 909 749.23 L 909.75 749.38 L 910.5 743.07 L 911.25 745.46 L 912 746.46 L 912.75 746.96 L 913.5 744.05 L 914.25 737.91 L 915 737.91 L 915.75 749.94 L 916.5 745.36 L 917.25 746.94 L 918 746.94 L 918.75 746.79 L 919.5 749.64 L 920.25 748.89 L 921 742.04 L 921.75 744.10 L 922.5 746.51 L 923.25 745.42 L 924 745.42 L 924.75 747.23 L 925.5 749.29 L 926.25 746.39 L 927 748.64 L 927.75 742.32 L 928.5 742.32 L 929.25 748.04 L 930 747.55 L 930.75 749.11 L 931.5 749.11 L 932.25 746.45 L 933 749.55 L 933.75 748.36 L 934.5 747.37 L 935.25 748.12 L 936 749.01 L 936.75 746.78 L 937.5 748.20 L 938.25 747.51 L 939 747.83 L 939.75 746.83 L 940.5 746.84 L 941.25 746.35 L 942 746.35 L 942.75 747.55 L 943.5 749.40 L 944.25 744.87 L 945 749.16 L 945.75 745.90 L 946.5 745.48 L 947.25 741.88 L 948 741.88 L 948.75 744.58 L 949.5 744.58 L 950.25 744.87 L 951 744.87 L 951.75 746.47 L 952.5 746.47 L 953.25 743.89 L 954 744.05 L 954.75 745.42 L 955.5 743.29 L 956.25 742.63 L 957 746.52 L 957.75 750.18 L 958.5 746.32 L 959.25 746.32 L 960 746.66 L 960.75 746.66 L 961.5 742.98 L 962.25 749.62 L 963 747.41 L 963.75 747.17 L 964.5 747.21 L 965.25 744.56 L 966 744.56 L 966.75 744.65 L 967.5 746.45 L 968.25 746.35 L 969 738.55 L 969.75 745.57 L 970.5 745.57 L 971.25 746.74 L 972 747.49 L 972.75 745.94 L 973.5 749.28 L 974.25 749.02 L 975 749.02 L 975.75 744.82 L 976.5 747.97 L 977.25 747.47 L 978 748.46 L 978.75 741.13 L 979.5 749.85 L 980.25 746.25 L 981 745.54 L 981.75 751.86 L 982.5 748.48 L 983.25 747.75 L 984 748.42 L 984.75 748.74 L 985.5 747.95 L 986.25 746.97 L 987 747.24 L 987.75 742.00 L 988.5 746.71 L 989.25 745.03 L 990 747.25 L 990.75 747.25 L 991.5 748.00 L 992.25 750.40 L 993 748.19 L 993.75 748.59 L 994.5 749.41 L 995.25 743.71 L 996 743.71 L 996.75 749.37 L 997.5 745.13 L 998.25 748.79 L 999 747.87 L 999.75 749.92 L 1000.5 748.52 L 1001.25 750.66 L 1002 750.66 L 1002.75 751.43 L 1003.5 749.09 L 1004.25 750.83 L 1005 750.46 L 1005.75 747.82 L 1006.5 744.34 L 1007.25 748.92 L 1008 749.33 L 1008.75 748.58 L 1009.5 743.00 L 1010.25 749.11 L 1011 748.75 L 1011.75 749.89 L 1012.5 747.15 L 1013.25 748.66 L 1014 741.51 L 1014.75 746.62 L 1015.5 747.33 L 1016.25 748.19 L 1017 749.33 L 1017.75 750.71 L 1018.5 744.01 L 1019.25 744.01 L 1020 744.28 L 1020.75 747.56 L 1021.5 745.41 L 1022.25 745.41 L 1023 750.27 L 1023.75 749.91 L 1024.5 749.99 L 1025.25 749.14 L 1026 745.88 L 1026.75 748.31 L 1027.5 749.94 L 1028.25 750.46 L 1029 749.52 L 1029.75 749.52 L 1030.5 747.96 L 1031.25 746.85 L 1032 749.73 L 1032.75 751.23 L 1033.5 751.01 L 1034.25 749.66 L 1035 749.47 L 1035.75 747.29 L 1036.5 749.37 L 1037.25 747.62 L 1038 752.35 L 1038.75 750.45 L 1039.5 749.75 L 1040.25 750.15 L 1041 750.05 L 1041.75 746.76 L 1042.5 745.99 L 1043.25 751.49 L 1044 747.58 L 1044.75 745.68 L 1045.5 745.27 L 1046.25 745.27 L 1047 747.14 L 1047.75 747.27 L 1048.5 748.12 L 1049.25 753.03 L 1050 750.01 L 1050.75 748.86 L 1051.5 745.15 L 1052.25 751.65 L 1053 750.24 L 1053.75 748.18 L 1054.5 748.18 L 1055.25 749.23 L 1056 740.49 L 1056.75 740.49 L 1057.5 749.14 L 1058.25 747.76 L 1059 749.29 L 1059.75 748.00 L 1060.5 746.43 L 1061.25 745.09 L 1062 748.78 L 1062.75 744.53 L 1063.5 749.13 L 1064.25 746.26 L 1065 750.46 L 1065.75 746.73 L 1066.5 746.73 L 1067.25 748.90 L 1068 749.39 L 1068.75 749.39 L 1069.5 750.21 L 1070.25 745.95 L 1071 746.15 L 1071.75 742.36 L 1072.5 744.75 L 1073.25 744.75 L 1074 748.25 L 1074.75 745.90 L 1075.5 746.88 L 1076.25 750.28 L 1077 747.99 L 1077.75 748.24 L 1078.5 744.72 L 1079.25 744.95 L 1080 744.95 L 1080.75 748.12 L 1081.5 746.28 L 1082.25 745.89 L 1083 744.41 L 1083.75 750.80 L 1084.5 749.71 L 1085.25 746.78 L 1086 748.38 L 1086.75 747.11 L 1087.5 744.97 L 1088.25 748.55 L 1089 736.5 L 1089.75 747.19 L 1090.5 747.13 L 1091.25 750.60 L 1092 744.52 L 1092.75 744.52 L 1093.5 752.48 L 1094.25 749.80 L 1095 747.29 L 1095.75 749.47 L 1096.5 749.89 L 1097.25 744.50 L 1098 750.05 L 1098.75 743.77 L 1099.5 745.66 L 1100.25 745.66 L 1101 749.52 L 1101.75 748.98 L 1102.5 748.95 L 1103.25 741.17 L 1104 749.62 L 1104.75 745.41 L 1105.5 745.41 L 1106.25 746.55 L 1107 746.49 L 1107.75 742.00 L 1108.5 742.00 L 1109.25 743.34 L 1110 747.73 L 1110.75 749.05 L 1111.5 746.29 L 1112.25 746.29 L 1113 749.90 L 1113.75 749.98 L 1114.5 749.40 L 1115.25 749.70 L 1116 747.41 L 1116.75 747.03 L 1117.5 746.24 L 1118.25 746.12 L 1119 744.93 L 1119.75 746.68 L 1120.5 745.46 L 1121.25 745.46 L 1122 749.98 L 1122.75 746.59 L 1123.5 744.32 L 1124.25 744.73 L 1125 748.86 L 1125.75 748.45 L 1126.5 748.10 L 1127.25 748.10 L 1128 747.98 L 1128.75 746.98 L 1129.5 743.69 L 1130.25 743.29 L 1131 743.29 L 1131.75 745.35 L 1132.5 747.87 L 1133.25 749.15 L 1134 749.12 L 1134.75 749.25 L 1135.5 747.57 L 1136.25 747.57 L 1137 745.03 L 1137.75 752.51 L 1138.5 748.82 L 1139.25 747.03 L 1140 740.13 L 1140.75 748.36 L 1141.5 748.27 L 1142.25 748.46 L 1143 748.46 L 1143.75 748.38 L 1144.5 748.46 L 1145.25 750.89 L 1146 751.30 L 1146.75 748.12 L 1147.5 748.12 L 1148.25 746.29 L 1149 746.29 L 1149.75 749.90 L 1150.5 748.64 L 1151.25 746.36 L 1152 746.15 L 1152.75 746.43 L 1153.5 744.14 L 1154.25 741.68 L 1155 746.64 L 1155.75 752.80 L 1156.5 751.80 L 1157.25 750.49 L 1158 751.05 L 1158.75 746.12 L 1159.5 746.12 L 1160.25 746.58 L 1161 746.58 L 1161.75 748.15 L 1162.5 749.41 L 1163.25 747.01 L 1164 746.08 L 1164.75 749.22 L 1165.5 751.71 L 1166.25 747.36 L 1167 746.54 L 1167.75 742.51 L 1168.5 745.59 L 1169.25 746.76 L 1170 747.73 L 1170.75 745.22 L 1171.5 747.92 L 1172.25 744.45 L 1173 747.13 L 1173.75 744.22 L 1174.5 744.22 L 1175.25 747.40 L 1176 747.38 L 1176.75 750.32 L 1177.5 751.02 L 1178.25 747.63 L 1179 751.08 L 1179.75 744.82 L 1180.5 744.82 L 1181.25 750.25 L 1182 743.93 L 1182.75 745.58 L 1183.5 747.76 L 1184.25 747.39 L 1185 747.39 L 1185.75 747.17 L 1186.5 747.17 L 1187.25 748.72 L 1188 746.28 L 1188.75 748.07 L 1189.5 747.74 L 1190.25 742.98 L 1191 748.82 L 1191.75 748.82 L 1192.5 742.90 L 1193.25 750.21 L 1194 749.76 L 1194.75 746.78 L 1195.5 745.65 L 1196.25 744.03 L 1197 744.03 L 1197.75 747.18 L 1198.5 748.27 L 1199.25 743.36 L 1200 748.16 L 1200.75 748.98 L 1201.5 748.65 L 1202.25 745.09 L 1203 745.93 L 1203.75 745.93 L 1204.5 747.62 L 1205.25 746.85 L 1206 746.85 L 1206.75 747.60 L 1207.5 748.08 L 1208.25 745.98 L 1209 750.57 L 1209.75 744.65 L 1210.5 747.99 L 1211.25 743.73 L 1212 747.82 L 1212.75 747.86 L 1213.5 748.53 L 1214.25 747.55 L 1215 750.07 L 1215.75 749.79 L 1216.5 747.48 L 1217.25 746.46 L 1218 747.44 L 1218.75 746.63 L 1219.5 741.06 L 1220.25 741.06 L 1221 749.87 L 1221.75 746.23 L 1222.5 748.89 L 1223.25 746.49 L 1224 746.49 L 1224.75 749.92 L 1225.5 749.54 L 1226.25 747.82 L 1227 749.23 L 1227.75 745.63 L 1228.5 748.78 L 1229.25 749.20 L 1230 753.04 L 1230.75 742.13 L 1231.5 747.08 L 1232.25 744.33 L 1233 744.33 L 1233.75 744.60 L 1234.5 746.38 L 1235.25 752.61 L 1236 746.56 L 1236.75 746.56 L 1237.5 748.11 L 1238.25 745.45 L 1239 742.25 L 1239.75 741.78 L 1240.5 741.78 L 1241.25 749.89 L 1242 746.84 L 1242.75 746.84 L 1243.5 744.35 L 1244.25 751.40 L 1245 743.81 L 1245.75 744.64 L 1246.5 749.33 L 1247.25 748.14 L 1248 750.96 L 1248.75 746.72 L 1249.5 746.72 L 1250.25 750.61 L 1251 745.57 L 1251.75 742.57 L 1252.5 744.20 L 1253.25 747.55 L 1254 747.73 L 1254.75 747.37 L 1255.5 748.34 L 1256.25 749.79 L 1257 746.58 L 1257.75 748.23 L 1258.5 752.69 L 1259.25 746.90 L 1260 748.04 L 1260.75 748.04 L 1261.5 748.73 L 1262.25 744.05 L 1263 747.24 L 1263.75 747.87 L 1264.5 745.98 L 1265.25 749.50 L 1266 752.61 L 1266.75 745.50 L 1267.5 745.50 L 1268.25 742.97 L 1269 745.61 L 1269.75 745.61 L 1270.5 750.24 L 1271.25 750.24 L 1272 746.58 L 1272.75 749.08 L 1273.5 749.82 L 1274.25 748.76 L 1275 746.69 L 1275.75 748.63 L 1276.5 748.63 L 1277.25 746.01 L 1278 746.01 L 1278.75 746.25 L 1279.5 746.25 L 1280.25 749.00 L 1281 736.5 L 1281.75 745.86 L 1282.5 748.25 L 1283.25 747.57 L 1284 745.59 L 1284.75 745.75 L 1285.5 749.32 L 1286.25 743.35 L 1287 747.89 L 1287.75 750.78 L 1288.5 740.50 L 1289.25 747.71 L 1290 748.89 L 1290.75 749.34 L 1291.5 739.94 L 1292.25 748.37 L 1293 748.37 L 1293.75 748.67 L 1293.75 758.15 L 1293 753.74 L 1292.25 755.92 L 1291.5 755.03 L 1290.75 753.56 L 1290 755.63 L 1289.25 751.33 L 1288.5 753.59 L 1287.75 759.60 L 1287 756.39 L 1286.25 754.48 L 1285.5 753.00 L 1284.75 752.91 L 1284 753.23 L 1283.25 759.75 L 1282.5 757.44 L 1281.75 759.55 L 1281 754.59 L 1280.25 753.12 L 1279.5 753.76 L 1278.75 752.43 L 1278 757.10 L 1277.25 753.16 L 1276.5 752.84 L 1275.75 751.68 L 1275 752.72 L 1274.25 752.11 L 1273.5 756.71 L 1272.75 758.24 L 1272 758.24 L 1271.25 754.58 L 1270.5 754.82 L 1269.75 754.82 L 1269 757.71 L 1268.25 754.26 L 1267.5 757.63 L 1266.75 759.75 L 1266 755.13 L 1265.25 754.54 L 1264.5 749.59 L 1263.75 753.35 L 1263 750.35 L 1262.25 754.81 L 1261.5 759.75 L 1260.75 759.75 L 1260 755.39 L 1259.25 755.64 L 1258.5 756.92 L 1257.75 759.53 L 1257 757.07 L 1256.25 759.50 L 1255.5 756.07 L 1254.75 755.97 L 1254 757.39 L 1253.25 756.96 L 1252.5 751.52 L 1251.75 755.08 L 1251 753.29 L 1250.25 756.85 L 1249.5 756.85 L 1248.75 752.27 L 1248 759.75 L 1247.25 754.58 L 1246.5 759.75 L 1245.75 756.44 L 1245 754.92 L 1244.25 755.74 L 1243.5 757.89 L 1242.75 755.44 L 1242 754.72 L 1241.25 757.91 L 1240.5 755.21 L 1239.75 756.73 L 1239 756.51 L 1238.25 752.81 L 1237.5 753.80 L 1236.75 757.85 L 1236 757.04 L 1235.25 757.04 L 1234.5 752.67 L 1233.75 752.95 L 1233 752.12 L 1232.25 755.26 L 1231.5 755.26 L 1230.75 754.75 L 1230 757.87 L 1229.25 753.08 L 1228.5 754.39 L 1227.75 756.44 L 1227 755.01 L 1226.25 755.99 L 1225.5 753.01 L 1224.75 757.02 L 1224 757.02 L 1223.25 755.88 L 1222.5 757.48 L 1221.75 751.12 L 1221 756.56 L 1220.25 752.25 L 1219.5 757.40 L 1218.75 751.60 L 1218 756.97 L 1217.25 756.66 L 1216.5 757.93 L 1215.75 757.93 L 1215 756.99 L 1214.25 758.45 L 1213.5 752.73 L 1212.75 752.73 L 1212 756.13 L 1211.25 756.79 L 1210.5 753.29 L 1209.75 757.93 L 1209 756.63 L 1208.25 756.63 L 1207.5 752.26 L 1206.75 752.08 L 1206 756.41 L 1205.25 755.16 L 1204.5 755.16 L 1203.75 755.69 L 1203 755.36 L 1202.25 757.59 L 1201.5 757.59 L 1200.75 757.42 L 1200 757.42 L 1199.25 753.69 L 1198.5 757.23 L 1197.75 751.80 L 1197 753.05 L 1196.25 752.98 L 1195.5 758.19 L 1194.75 758.87 L 1194 755.32 L 1193.25 756.68 L 1192.5 755.37 L 1191.75 752.25 L 1191 756.23 L 1190.25 755.72 L 1189.5 751.38 L 1188.75 752.07 L 1188 748.72 L 1187.25 759.75 L 1186.5 754.64 L 1185.75 752.45 L 1185 752.45 L 1184.25 755.77 L 1183.5 750.50 L 1182.75 755.38 L 1182 755.38 L 1181.25 757.00 L 1180.5 755.15 L 1179.75 751.44 L 1179 755.86 L 1178.25 756.90 L 1177.5 756.18 L 1176.75 756.45 L 1176 756.45 L 1175.25 755.93 L 1174.5 757.63 L 1173.75 754.94 L 1173 754.30 L 1172.25 755.27 L 1171.5 755.27 L 1170.75 751.99 L 1170 754.22 L 1169.25 754.98 L 1168.5 752.68 L 1167.75 751.69 L 1167 754.39 L 1166.25 753.84 L 1165.5 755.91 L 1164.75 753.20 L 1164 753.83 L 1163.25 754.37 L 1162.5 755.48 L 1161.75 752.96 L 1161 752.04 L 1160.25 752.08 L 1159.5 756.80 L 1158.75 757.74 L 1158 757.74 L 1157.25 753.90 L 1156.5 753.60 L 1155.75 754.44 L 1155 757.38 L 1154.25 757.38 L 1153.5 754.85 L 1152.75 752.89 L 1152 752.57 L 1151.25 755.27 L 1150.5 755.27 L 1149.75 755.15 L 1149 750.94 L 1148.25 759.28 L 1147.5 759.28 L 1146.75 759.31 L 1146 759.09 L 1145.25 754.17 L 1144.5 756.41 L 1143.75 755.23 L 1143 753.00 L 1142.25 753.13 L 1141.5 753.29 L 1140.75 759.60 L 1140 759.60 L 1139.25 754.13 L 1138.5 757.93 L 1137.75 757.93 L 1137 759.40 L 1136.25 753.38 L 1135.5 758.20 L 1134.75 756.00 L 1134 756.83 L 1133.25 756.83 L 1132.5 751.70 L 1131.75 756.09 L 1131 753.52 L 1130.25 756.43 L 1129.5 750.38 L 1128.75 756.75 L 1128 756.49 L 1127.25 757.97 L 1126.5 756.95 L 1125.75 754.35 L 1125 754.35 L 1124.25 758.47 L 1123.5 758.47 L 1122.75 752.09 L 1122 756.07 L 1121.25 754.53 L 1120.5 755.94 L 1119.75 755.94 L 1119 753.95 L 1118.25 754.79 L 1117.5 754.79 L 1116.75 750.95 L 1116 752.69 L 1115.25 752.21 L 1114.5 753.71 L 1113.75 753.44 L 1113 758.19 L 1112.25 756.59 L 1111.5 753.06 L 1110.75 751.92 L 1110 753.99 L 1109.25 753.40 L 1108.5 750.72 L 1107.75 752.80 L 1107 752.80 L 1106.25 757.66 L 1105.5 757.66 L 1104.75 753.69 L 1104 756.32 L 1103.25 756.32 L 1102.5 759.40 L 1101.75 753.40 L 1101 758.82 L 1100.25 752.63 L 1099.5 753.64 L 1098.75 753.98 L 1098 753.98 L 1097.25 757.58 L 1096.5 757.58 L 1095.75 754.09 L 1095 756.87 L 1094.25 759.75 L 1093.5 759.75 L 1092.75 756.49 L 1092 753.22 L 1091.25 757.66 L 1090.5 751.83 L 1089.75 754.79 L 1089 754.79 L 1088.25 755.36 L 1087.5 755.97 L 1086.75 755.97 L 1086 752.39 L 1085.25 755.80 L 1084.5 756.69 L 1083.75 756.66 L 1083 758.32 L 1082.25 758.32 L 1081.5 754.09 L 1080.75 753.98 L 1080 753.98 L 1079.25 758.92 L 1078.5 757.92 L 1077.75 757.92 L 1077 758.95 L 1076.25 756.74 L 1075.5 756.74 L 1074.75 754.06 L 1074 751.77 L 1073.25 753.91 L 1072.5 751.19 L 1071.75 753.80 L 1071 755.95 L 1070.25 754.40 L 1069.5 754.40 L 1068.75 757.42 L 1068 755.31 L 1067.25 752.63 L 1066.5 753.26 L 1065.75 754.70 L 1065 754.70 L 1064.25 752.24 L 1063.5 757.69 L 1062.75 754.69 L 1062 757.75 L 1061.25 753.98 L 1060.5 754.52 L 1059.75 753.50 L 1059 757.33 L 1058.25 757.24 L 1057.5 754.86 L 1056.75 751.95 L 1056 754.49 L 1055.25 758.98 L 1054.5 755.39 L 1053.75 758.53 L 1053 758.53 L 1052.25 753.36 L 1051.5 758.91 L 1050.75 754.16 L 1050 755.12 L 1049.25 755.52 L 1048.5 755.26 L 1047.75 756.57 L 1047 757.36 L 1046.25 757.36 L 1045.5 755.70 L 1044.75 756.00 L 1044 755.55 L 1043.25 756.09 L 1042.5 756.24 L 1041.75 754.63 L 1041 758.77 L 1040.25 758.33 L 1039.5 755.85 L 1038.75 756.83 L 1038 756.76 L 1037.25 756.11 L 1036.5 754.34 L 1035.75 758.26 L 1035 753.76 L 1034.25 754.31 L 1033.5 756.65 L 1032.75 759.28 L 1032 753.16 L 1031.25 753.68 L 1030.5 753.68 L 1029.75 756.72 L 1029 753.91 L 1028.25 754.48 L 1027.5 753.43 L 1026.75 753.34 L 1026 755.58 L 1025.25 753.02 L 1024.5 756.02 L 1023.75 754.49 L 1023 754.95 L 1022.25 754.06 L 1021.5 752.78 L 1020.75 755.59 L 1020 755.59 L 1019.25 755.93 L 1018.5 754.33 L 1017.75 755.77 L 1017 754.38 L 1016.25 754.38 L 1015.5 759.73 L 1014.75 755.02 L 1014 753.68 L 1013.25 755.37 L 1012.5 755.37 L 1011.75 758.41 L 1011 756.90 L 1010.25 755.30 L 1009.5 755.60 L 1008.75 758.96 L 1008 758.96 L 1007.25 754.85 L 1006.5 754.01 L 1005.75 755.87 L 1005 753.55 L 1004.25 755.27 L 1003.5 752.38 L 1002.75 755.62 L 1002 756.48 L 1001.25 757.06 L 1000.5 756.03 L 999.75 754.67 L 999 752.78 L 998.25 756.91 L 997.5 750.52 L 996.75 754.58 L 996 757.12 L 995.25 759.53 L 994.5 755.94 L 993.75 759.75 L 993 754.03 L 992.25 754.99 L 991.5 757.30 L 990.75 756.25 L 990 754.40 L 989.25 755.04 L 988.5 759.75 L 987.75 757.38 L 987 757.04 L 986.25 758.80 L 985.5 757.06 L 984.75 749.90 L 984 757.52 L 983.25 756.40 L 982.5 754.22 L 981.75 754.35 L 981 758.69 L 980.25 753.87 L 979.5 753.24 L 978.75 751.79 L 978 753.44 L 977.25 753.22 L 976.5 755.62 L 975.75 755.46 L 975 757.14 L 974.25 756.80 L 973.5 757.25 L 972.75 757.25 L 972 754.75 L 971.25 754.43 L 970.5 752.80 L 969.75 756.49 L 969 756.49 L 968.25 756.88 L 967.5 753.05 L 966.75 753.92 L 966 753.92 L 965.25 755.56 L 964.5 751.83 L 963.75 757.04 L 963 757.04 L 962.25 755.45 L 961.5 755.45 L 960.75 751.80 L 960 757.46 L 959.25 756.97 L 958.5 757.09 L 957.75 754.92 L 957 756.60 L 956.25 754.98 L 955.5 754.90 L 954.75 759.00 L 954 755.63 L 953.25 755.86 L 952.5 759.06 L 951.75 755.97 L 951 755.97 L 950.25 755.96 L 949.5 754.22 L 948.75 758.38 L 948 755.37 L 947.25 759.51 L 946.5 755.73 L 945.75 753.21 L 945 756.03 L 944.25 752.97 L 943.5 756.07 L 942.75 756.07 L 942 753.34 L 941.25 752.90 L 940.5 753.58 L 939.75 753.58 L 939 755.34 L 938.25 753.23 L 937.5 758.23 L 936.75 758.23 L 936 755.71 L 935.25 757.08 L 934.5 757.08 L 933.75 756.56 L 933 756.00 L 932.25 754.38 L 931.5 755.02 L 930.75 756.50 L 930 755.05 L 929.25 756.69 L 928.5 759.75 L 927.75 753.82 L 927 751.86 L 926.25 752.53 L 925.5 759.75 L 924.75 759.75 L 924 754.53 L 923.25 753.65 L 922.5 752.98 L 921.75 752.18 L 921 757.57 L 920.25 751.68 L 919.5 756.42 L 918.75 755.49 L 918 753.98 L 917.25 752.34 L 916.5 757.51 L 915.75 757.51 L 915 753.79 L 914.25 755.63 L 913.5 754.90 L 912.75 753.69 L 912 758.66 L 911.25 753.53 L 910.5 752.80 L 909.75 756.99 L 909 756.99 L 908.25 755.26 L 907.5 754.36 L 906.75 756.80 L 906 755.62 L 905.25 755.31 L 904.5 755.07 z " clip-path="url(#pfe06cb9315)" style="stroke: #000000; stroke-width: 1.5"/> </g> <g id="line2d_397"> <path d="M 1294.36 762.75 L 1294.36 633.75 " clip-path="url(#pfe06cb9315)" style="fill: none; stroke-dasharray: 1.5,2.47; stroke-dashoffset: 0; stroke: #1f77b4; stroke-width: 1.5"/> </g> </g> <g id="text_95"> <text style="font-size: 18px; font-family: 'DejaVu Sans', sans-serif; text-anchor: middle" x="129.52" y="214.12" transform="rotate(-90 129.52 214.12)">L*</text> </g> <g id="text_96"> <text style="font-size: 18px; font-family: 'DejaVu Sans', sans-serif; text-anchor: start" x="177.07" y="383.92" transform="rotate(-0 177.07 383.92)">Geostationary orbit:   GOES 14,  </text> </g> <g id="text_97"> <text style="font-size: 18px; font-family: 'DejaVu Sans', sans-serif; text-anchor: start; fill: #ff0000" x="471.3" y="383.92" transform="rotate(-0 471.3 383.92)">Model</text> </g> <g id="text_98"> <text style="font-size: 18px; font-family: 'DejaVu Sans', sans-serif; text-anchor: middle" x="86.92" y="487.5" transform="rotate(-90 86.92 487.5)">&gt;2.0 MeV Electron Flux</text> </g> <g id="text_99"> <text style="font-size: 18px; font-family: 'DejaVu Sans', sans-serif; text-anchor: middle" x="129.9" y="700.87" transform="rotate(-90 129.9 700.87)">Kp</text> </g> <g id="text_100"> <text style="font-size: 18px; font-family: 'DejaVu Sans', sans-serif; text-anchor: middle" x="837.22" y="211.27" transform="rotate(-90 837.22 211.27)">IMF Bz</text> </g> <g id="text_101"> <text style="font-size: 18px; font-family: 'DejaVu Sans', sans-serif; text-anchor: middle" x="859.42" y="211.8" transform="rotate(-90 859.42 211.8)">( nT )</text> </g> <g id="text_102"> <text style="font-size: 18px; font-family: 'DejaVu Sans', sans-serif; text-anchor: middle; fill: #ff0000" x="1409.7" y="212.25" transform="rotate(-90 1409.7 212.25)">SW Velocity</text> </g> <g id="text_103"> <text style="font-size: 18px; font-family: 'DejaVu Sans', sans-serif; text-anchor: middle" x="828.75" y="489.22" transform="rotate(-90 828.75 489.22)">Dst</text> </g> <g id="text_104"> <text style="font-size: 18px; font-family: 'DejaVu Sans', sans-serif; text-anchor: middle" x="849.67" y="487.65" transform="rotate(-90 849.67 487.65)">( nT )</text> </g> <g id="text_105"> <text style="font-size: 18px; font-family: 'DejaVu Sans', sans-serif; text-anchor: middle; fill: #ff0000" x="1406.4" y="487.5" transform="rotate(-90 1406.4 487.5)">SW Pressure</text> </g> <g id="text_106"> <text style="font-size: 18px; font-family: 'DejaVu Sans', sans-serif; text-anchor: middle; fill: #ff0000" x="1429.12" y="487.95" transform="rotate(-90 1429.12 487.95)">( nPa )</text> </g> <g id="text_107"> <text style="font-size: 18px; font-family: 'DejaVu Sans', sans-serif; text-anchor: middle" x="829.05" y="698.4" transform="rotate(-90 829.05 698.4)">&gt;10 MeV Proton Flux</text> </g> </g> <defs> <clipPath id="p24ad14cf49"> <rect x="150" y="82.5" width="535.42" height="258.75"/> </clipPath> <clipPath id="p07cb66914f"> <rect x="719.17" y="82.5" width="12.82" height="258.75"/> </clipPath> <clipPath id="pea22a4a1ae"> <rect x="150" y="358.5" width="535.42" height="258"/> </clipPath> <clipPath id="p30dd58c646"> <rect x="150" y="633.75" width="535.42" height="129"/> </clipPath> <clipPath id="p6bc8700808"> <rect x="903.75" y="82.5" width="446.25" height="258.75"/> </clipPath> <clipPath id="p76e6bc1cc4"> <rect x="903.75" y="82.5" width="446.25" height="258.75"/> </clipPath> <clipPath id="pde4ef6f5d1"> <rect x="903.75" y="358.5" width="446.25" height="258"/> </clipPath> <clipPath id="p1a4e2fa0e7"> <rect x="903.75" y="358.5" width="446.25" height="258"/> </clipPath> <clipPath id="pfe06cb9315"> <rect x="903.75" y="633.75" width="446.25" height="129"/> </clipPath> </defs> <g transform="scale(0.75)"><text x="521.14" y="41.5" font-size="24" textLength="956.48" lengthAdjust="spacing" style="font-family:'DejaVu Sans',sans-serif;fill:#000">BAS-RBM Relativistic Electron Forecast, issued at 23:10 UT, 29 November 2018</text><text style="font-family:'DejaVu Sans',sans-serif;fill:#000000;white-space:pre"><tspan x="203.16" y="93.00" font-size="24.00">&gt;2.0 MeV Electron Flux at </tspan><tspan x="524.87" y="93.00" font-size="24.00">88</tspan><tspan x="558.74" y="83.00" font-size="16.80">∘</tspan><tspan x="580.92" y="93.00" font-size="24.00">pitch angle (</tspan><tspan x="739.58" y="93.00" font-size="24.00">cm</tspan><tspan x="776.22" y="83.00" font-size="16.80">−2</tspan><tspan x="805.50" y="93.00" font-size="24.00">s</tspan><tspan x="818.32" y="83.00" font-size="16.80">−1</tspan><tspan x="847.50" y="93.00" font-size="24.00">sr</tspan><tspan x="869.92" y="83.00" font-size="16.80">−1</tspan><tspan x="903.88" y="93.00" font-size="24.00">)</tspan></text><g transform="translate(146.00 0) rotate(-90)"><text style="font-family:'DejaVu Sans',sans-serif;fill:#000000;white-space:pre"><tspan x="-745.16" y="0.00" font-size="24.00">(</tspan><tspan x="-728.92" y="0.00" font-size="24.00">cm</tspan><tspan x="-691.98" y="-10.50" font-size="16.80">−2</tspan><tspan x="-662.50" y="0.00" font-size="24.00">s</tspan><tspan x="-649.98" y="-10.50" font-size="16.80">−1</tspan><tspan x="-620.60" y="0.00" font-size="24.00">sr</tspan><tspan x="-598.18" y="-10.50" font-size="16.80">−1</tspan><tspan x="-564.62" y="0.00" font-size="24.00">)</tspan></text></g><g transform="translate(1139.10 0) rotate(-90)"><text style="font-family:'DejaVu Sans',sans-serif;fill:#000000;white-space:pre"><tspan x="-1018.86" y="0.00" font-size="24.00">(</tspan><tspan x="-1002.72" y="0.00" font-size="24.00">cm</tspan><tspan x="-966.23" y="-10.50" font-size="16.80">2</tspan><tspan x="-950.40" y="0.00" font-size="24.00">s</tspan><tspan x="-937.48" y="-10.50" font-size="16.80">−1</tspan><tspan x="-907.70" y="0.00" font-size="24.00">sr</tspan><tspan x="-885.68" y="-10.50" font-size="16.80">−1</tspan><tspan x="-852.42" y="0.00" font-size="24.00">)</tspan></text></g><g transform="translate(1912.00 0) rotate(-90)"><text style="font-family:'DejaVu Sans',sans-serif;fill:#ff0000;white-space:pre"><tspan x="-339.06" y="0.00" font-size="24.00">(</tspan><tspan x="-323.28" y="0.00" font-size="24.00">km</tspan><tspan x="-281.00" y="0.00" font-size="24.00">s</tspan><tspan x="-268.38" y="-10.00" font-size="16.80">−1</tspan><tspan x="-234.42" y="0.00" font-size="24.00">)</tspan></text></g></g></svg> 
</body></html>
